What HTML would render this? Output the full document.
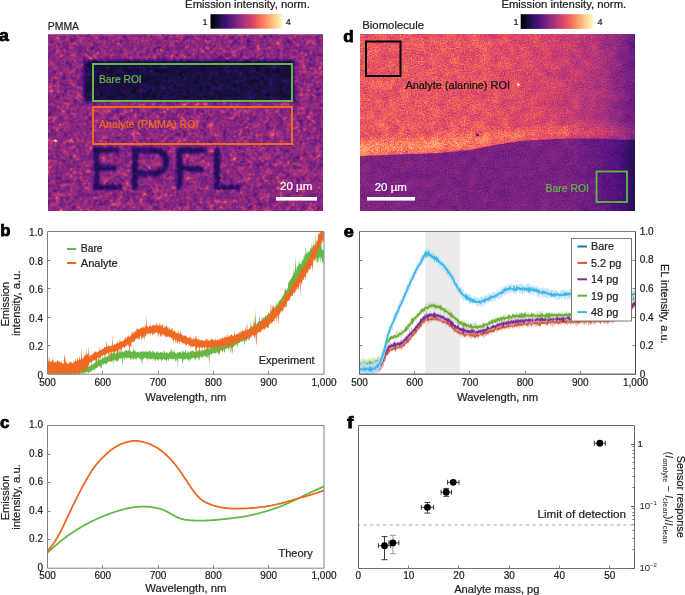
<!DOCTYPE html>
<html><head><meta charset="utf-8"><title>Figure</title><style>
html,body{margin:0;padding:0;background:#fff;width:685px;height:595px;overflow:hidden}
svg{display:block;font-family:"Liberation Sans", sans-serif;will-change:transform}
</style></head><body>
<svg width="685" height="595" viewBox="0 0 685 595">
<defs><filter id="fa" filterUnits="userSpaceOnUse" x="48" y="34" width="275" height="177" color-interpolation-filters="sRGB">
<feTurbulence type="fractalNoise" baseFrequency="0.3" numOctaves="3" seed="5" result="n0"/>
<feTurbulence type="fractalNoise" baseFrequency="0.13" numOctaves="2" seed="12" result="n2"/><feComposite in="n0" in2="n2" operator="arithmetic" k2="0.65" k3="0.5599999999999999" k4="-0.105" result="n"/>
<feColorMatrix in="n" type="matrix" values="1 0 0 0 0 1 0 0 0 0 1 0 0 0 0 0 0 0 0 1" result="ng0"/><feComponentTransfer in="ng0" result="ng"><feFuncR type="table" tableValues="0.34 0.365 0.39 0.415 0.44 0.47 0.53 0.6 0.66 0.72 0.78"/><feFuncG type="table" tableValues="0.34 0.365 0.39 0.415 0.44 0.47 0.53 0.6 0.66 0.72 0.78"/><feFuncB type="table" tableValues="0.34 0.365 0.39 0.415 0.44 0.47 0.53 0.6 0.66 0.72 0.78"/></feComponentTransfer>
<feComposite in="SourceGraphic" in2="ng" operator="arithmetic" k1="3.2" k2="-0.5040" k3="0.1" k4="-0.0470" result="v"/>
<feComponentTransfer in="v"><feFuncR type="table" tableValues="0.001 0.014 0.040 0.074 0.113 0.159 0.212 0.265 0.317 0.366 0.415 0.464 0.513 0.563 0.614 0.665 0.716 0.767 0.817 0.863 0.904 0.937 0.961 0.977 0.987 0.993 0.996 0.997 0.997 0.995 0.992 0.989 0.987"/><feFuncG type="table" tableValues="0.000 0.012 0.031 0.052 0.065 0.068 0.062 0.060 0.072 0.090 0.110 0.130 0.148 0.165 0.182 0.198 0.215 0.234 0.256 0.284 0.320 0.365 0.418 0.476 0.536 0.595 0.654 0.712 0.770 0.827 0.884 0.941 0.991"/><feFuncB type="table" tableValues="0.014 0.069 0.134 0.203 0.277 0.353 0.419 0.462 0.485 0.498 0.505 0.508 0.508 0.505 0.499 0.489 0.475 0.458 0.436 0.412 0.388 0.369 0.360 0.364 0.382 0.410 0.446 0.488 0.535 0.586 0.640 0.698 0.750"/><feFuncA type="identity"/></feComponentTransfer>
</filter><clipPath id="ca"><rect x="48" y="34" width="275" height="177"/></clipPath><filter id="soft" x="-10%" y="-10%" width="120%" height="120%"><feGaussianBlur stdDeviation="1.6"/></filter><filter id="bandblur" x="-10%" y="-50%" width="120%" height="200%"><feGaussianBlur stdDeviation="0.5 3.5"/></filter><filter id="soft2" x="-10%" y="-10%" width="120%" height="120%"><feGaussianBlur stdDeviation="1.1"/></filter><linearGradient id="cbar" x1="0" x2="1" y1="0" y2="0"><stop offset="0.000" stop-color="rgb(0,0,3)"/><stop offset="0.031" stop-color="rgb(3,3,17)"/><stop offset="0.062" stop-color="rgb(10,7,34)"/><stop offset="0.094" stop-color="rgb(18,13,51)"/><stop offset="0.125" stop-color="rgb(28,16,70)"/><stop offset="0.156" stop-color="rgb(40,17,89)"/><stop offset="0.188" stop-color="rgb(53,15,106)"/><stop offset="0.219" stop-color="rgb(67,15,117)"/><stop offset="0.250" stop-color="rgb(80,18,123)"/><stop offset="0.281" stop-color="rgb(93,23,126)"/><stop offset="0.312" stop-color="rgb(105,28,128)"/><stop offset="0.344" stop-color="rgb(118,33,129)"/><stop offset="0.375" stop-color="rgb(130,37,129)"/><stop offset="0.406" stop-color="rgb(143,42,128)"/><stop offset="0.438" stop-color="rgb(156,46,127)"/><stop offset="0.469" stop-color="rgb(169,50,124)"/><stop offset="0.500" stop-color="rgb(182,54,121)"/><stop offset="0.531" stop-color="rgb(195,59,116)"/><stop offset="0.562" stop-color="rgb(208,65,111)"/><stop offset="0.594" stop-color="rgb(220,72,105)"/><stop offset="0.625" stop-color="rgb(230,81,98)"/><stop offset="0.656" stop-color="rgb(238,93,93)"/><stop offset="0.688" stop-color="rgb(245,106,91)"/><stop offset="0.719" stop-color="rgb(249,121,92)"/><stop offset="0.750" stop-color="rgb(251,136,97)"/><stop offset="0.781" stop-color="rgb(253,151,104)"/><stop offset="0.812" stop-color="rgb(254,166,113)"/><stop offset="0.844" stop-color="rgb(254,181,124)"/><stop offset="0.875" stop-color="rgb(254,196,136)"/><stop offset="0.906" stop-color="rgb(253,210,149)"/><stop offset="0.938" stop-color="rgb(253,225,163)"/><stop offset="0.969" stop-color="rgb(252,240,177)"/><stop offset="1.000" stop-color="rgb(251,252,191)"/></linearGradient><filter id="fd" filterUnits="userSpaceOnUse" x="360" y="34" width="275" height="177" color-interpolation-filters="sRGB">
<feTurbulence type="fractalNoise" baseFrequency="0.7" numOctaves="3" seed="11" result="n0"/>
<feTurbulence type="fractalNoise" baseFrequency="0.1" numOctaves="2" seed="18" result="n2"/><feComposite in="n0" in2="n2" operator="arithmetic" k2="0.78" k3="0.35200000000000004" k4="-0.066" result="n"/>
<feColorMatrix in="n" type="matrix" values="1 0 0 0 0 1 0 0 0 0 1 0 0 0 0 0 0 0 0 1" result="ng0"/><feOffset in="ng0" dx="0" dy="0" result="ng"/>
<feComposite in="SourceGraphic" in2="ng" operator="arithmetic" k1="0.6" k2="0.7000" k3="0.05" k4="-0.0250" result="v"/>
<feComponentTransfer in="v"><feFuncR type="table" tableValues="0.001 0.014 0.040 0.074 0.113 0.159 0.212 0.265 0.317 0.366 0.415 0.464 0.513 0.563 0.614 0.665 0.716 0.767 0.817 0.863 0.904 0.937 0.961 0.977 0.987 0.993 0.996 0.997 0.997 0.995 0.992 0.989 0.987"/><feFuncG type="table" tableValues="0.000 0.012 0.031 0.052 0.065 0.068 0.062 0.060 0.072 0.090 0.110 0.130 0.148 0.165 0.182 0.198 0.215 0.234 0.256 0.284 0.320 0.365 0.418 0.476 0.536 0.595 0.654 0.712 0.770 0.827 0.884 0.941 0.991"/><feFuncB type="table" tableValues="0.014 0.069 0.134 0.203 0.277 0.353 0.419 0.462 0.485 0.498 0.505 0.508 0.508 0.505 0.499 0.489 0.475 0.458 0.436 0.412 0.388 0.369 0.360 0.364 0.382 0.410 0.446 0.488 0.535 0.586 0.640 0.698 0.750"/><feFuncA type="identity"/></feComponentTransfer>
</filter><clipPath id="cd"><rect x="360" y="34" width="275" height="177"/></clipPath><linearGradient id="dup" x1="360" x2="635" y1="0" y2="0" gradientUnits="userSpaceOnUse"><stop offset="0" stop-color="rgb(172,172,172)"/><stop offset="0.45" stop-color="rgb(168,168,168)"/><stop offset="0.7" stop-color="rgb(153,153,153)"/><stop offset="0.85" stop-color="rgb(133,133,133)"/><stop offset="0.93" stop-color="rgb(112,112,112)"/><stop offset="1" stop-color="rgb(82,82,82)"/></linearGradient><linearGradient id="dlo" x1="360" x2="635" y1="0" y2="0" gradientUnits="userSpaceOnUse"><stop offset="0" stop-color="rgb(98,98,98)"/><stop offset="0.75" stop-color="rgb(94,94,94)"/><stop offset="0.86" stop-color="rgb(82,82,82)"/><stop offset="0.95" stop-color="rgb(64,64,64)"/><stop offset="1" stop-color="rgb(38,38,38)"/></linearGradient><linearGradient id="dband" x1="360" x2="635" y1="0" y2="0" gradientUnits="userSpaceOnUse"><stop offset="0" stop-color="rgb(204,204,204)"/><stop offset="0.45" stop-color="rgb(194,194,194)"/><stop offset="0.7" stop-color="rgb(178,178,178)"/><stop offset="0.88" stop-color="rgb(153,153,153)"/><stop offset="1" stop-color="rgb(107,107,107)"/></linearGradient><clipPath id="cb"><rect x="47.5" y="231.5" width="276.5" height="142.7"/></clipPath><clipPath id="cc"><rect x="47.5" y="425.5" width="276.5" height="142.70000000000005"/></clipPath><clipPath id="ce"><rect x="359.5" y="231.5" width="276.0" height="142.7"/></clipPath></defs>
<g clip-path="url(#ca)"><g filter="url(#fa)"><rect x="48" y="34" width="275" height="177" fill="rgb(115,115,115)"/><g filter="url(#soft)"><rect x="83.5" y="60" width="211" height="41.5" fill="rgb(36,36,36)"/></g><g fill="rgb(43,43,43)" filter="url(#soft2)"><rect x="93.5" y="147.5" width="6" height="42.5"/><rect x="93.5" y="147.5" width="26" height="5.5"/><rect x="93.5" y="165.5" width="23" height="5.5"/><rect x="93.5" y="184.5" width="28.5" height="5.5"/><rect x="132" y="147.5" width="6" height="42.5"/><rect x="176.5" y="147.5" width="6" height="42.5"/><rect x="176.5" y="147.5" width="31" height="5.5"/><rect x="176.5" y="166" width="28" height="5.5"/><rect x="214" y="147.5" width="6" height="42.5"/><rect x="214" y="184.5" width="26.5" height="5.5"/><path d="M132 150.5 H155 A11.5 11.5 0 0 1 155 173.5 H132" fill="none" stroke-width="5.8" stroke="rgb(43,43,43)"/></g><circle cx="56" cy="141" r="1.5" fill="rgb(217,217,217)"/></g></g>
<rect x="48" y="34" width="275" height="1" fill="#c98ab8" opacity="0.5"/>
<rect x="93" y="64" width="199" height="37" fill="none" stroke="#63b945" stroke-width="2"/>
<rect x="93" y="107" width="199" height="37" fill="none" stroke="#ee6a22" stroke-width="2"/>
<text x="99" y="83.3" font-size="11" textLength="42.7" lengthAdjust="spacingAndGlyphs" fill="#63b945" stroke="#63b945" stroke-width="0.22">Bare ROI</text>
<text x="99" y="127.8" font-size="11" textLength="99.5" lengthAdjust="spacingAndGlyphs" fill="#ee6a22" stroke="#ee6a22" stroke-width="0.22">Analyte (PMMA) ROI</text>
<rect x="276" y="197" width="41" height="3.6" fill="#fff"/>
<text x="280" y="190.2" font-size="10.5" textLength="32.3" lengthAdjust="spacingAndGlyphs" fill="#fff" stroke="#fff" stroke-width="0.22">20 µm</text>
<rect x="210.5" y="14.2" width="72" height="14.5" fill="url(#cbar)"/>
<text x="185.1" y="7.9" font-size="10" textLength="124.7" lengthAdjust="spacingAndGlyphs" fill="#222" stroke="#222" stroke-width="0.22">Emission intensity, norm.</text>
<text x="202.6" y="24.9" font-size="9" fill="#222" stroke="#222" stroke-width="0.22">1</text>
<text x="285.8" y="25.1" font-size="9" fill="#222" stroke="#222" stroke-width="0.22">4</text>
<text x="47.8" y="29.8" font-size="10.8" textLength="31.2" lengthAdjust="spacingAndGlyphs" fill="#222" stroke="#222" stroke-width="0.22">PMMA</text>
<text x="-0.9" y="41" font-size="16" font-weight="bold" textLength="9.8" lengthAdjust="spacingAndGlyphs" fill="#000" stroke="#000" stroke-width="0.75">a</text>
<g clip-path="url(#cd)"><g filter="url(#fd)"><rect x="360" y="34" width="275" height="177" fill="url(#dup)"/><path d="M360 156 L400 154.5 L440 153 L470 150 L495 145 L520 141 L545 139.4 L570 138.6 L595 138.6 L620 139.8 L635 140 L635 128 L560 127 L470 136 L400 141 L360 143 Z" fill="url(#dband)" filter="url(#bandblur)" transform="translate(0,-1.5)"/><path d="M360 156 L400 154.5 L440 153 L470 150 L495 145 L520 141 L545 139.4 L570 138.6 L595 138.6 L620 139.8 L635 140 L635 215 L360 215 Z" fill="url(#dlo)"/><circle cx="518.3" cy="84.8" r="1.6" fill="rgb(242,242,242)"/><circle cx="477.6" cy="134.9" r="1.4" fill="rgb(76,76,76)"/></g></g>
<rect x="366" y="41.5" width="34.5" height="34.5" fill="none" stroke="#000" stroke-width="2"/>
<text x="405.4" y="88.8" font-size="11" textLength="104.6" lengthAdjust="spacingAndGlyphs" fill="#111" stroke="#111" stroke-width="0.22">Analyte (alanine) ROI</text>
<rect x="596.5" y="171.5" width="30.5" height="30.5" fill="none" stroke="#63b945" stroke-width="1.8"/>
<text x="545.6" y="192" font-size="11" textLength="43.4" lengthAdjust="spacingAndGlyphs" fill="#63b945" stroke="#63b945" stroke-width="0.22">Bare ROI</text>
<rect x="367" y="197" width="48" height="3.6" fill="#fff"/>
<text x="374.7" y="191" font-size="10.5" textLength="32.2" lengthAdjust="spacingAndGlyphs" fill="#fff" stroke="#fff" stroke-width="0.22">20 µm</text>
<rect x="520.7" y="14.2" width="72.2" height="14.7" fill="url(#cbar)"/>
<text x="501.4" y="7.9" font-size="10" textLength="124.8" lengthAdjust="spacingAndGlyphs" fill="#222" stroke="#222" stroke-width="0.22">Emission intensity, norm.</text>
<text x="513.6" y="24.9" font-size="9" fill="#222" stroke="#222" stroke-width="0.22">1</text>
<text x="597.6" y="25.1" font-size="9" fill="#222" stroke="#222" stroke-width="0.22">4</text>
<text x="362.3" y="29.4" font-size="10.8" textLength="61.7" lengthAdjust="spacingAndGlyphs" fill="#222" stroke="#222" stroke-width="0.22">Biomolecule</text>
<text x="343.3" y="41.6" font-size="16" font-weight="bold" textLength="10.4" lengthAdjust="spacingAndGlyphs" fill="#000" stroke="#000" stroke-width="0.75">d</text>
<g clip-path="url(#cb)"><path d="M47.5 370L48 369.6L48.5 363.3L49 368.7L49.5 369.4L50 368.6L50.5 369.9L51 368L51.5 369.3L52 369.1L52.5 369.3L53 369.4L53.5 369.8L54 368.6L54.5 369.9L55 368.4L55.5 367.9L56 369.2L56.5 367.1L57 368L57.5 367.2L58 369.5L58.4 368L58.9 369.4L59.4 369.5L59.9 369.5L60.4 366.1L60.9 368.9L61.4 369.6L61.9 369.5L62.4 367.4L62.9 368.9L63.4 368.2L63.9 368.4L64.4 368L64.9 368.4L65.4 369.5L65.9 368.2L66.4 368.6L66.9 369L67.4 369.2L67.9 369.3L68.4 367.6L68.9 369.2L69.4 367.3L69.9 367L70.4 368L70.9 369.1L71.4 368.3L71.9 366.2L72.4 368L72.9 367.3L73.4 368.9L73.9 368.2L74.4 368.7L74.9 367.9L75.4 368.8L75.9 367.9L76.4 366.7L76.9 367.8L77.4 368.4L77.9 368L78.4 368.4L78.9 366.8L79.4 367.6L79.9 368.1L80.3 367L80.8 366.6L81.3 366.3L81.8 367L82.3 367.1L82.8 365.1L83.3 367.2L83.8 367.7L84.3 364.8L84.8 366.7L85.3 367.1L85.8 367L86.3 357.5L86.8 365L87.3 366.6L87.8 366.7L88.3 366.5L88.8 366.7L89.3 366.4L89.8 364.8L90.3 366.3L90.8 365.4L91.3 364.1L91.8 364.6L92.3 365.2L92.8 364L93.3 364.2L93.8 362.8L94.3 364.1L94.8 362.8L95.3 361.4L95.8 362.6L96.3 360.1L96.8 359.3L97.3 361.7L97.8 360.4L98.3 357.2L98.8 357.7L99.3 359.7L99.8 359.7L100.3 360.1L100.8 357.7L101.3 359.7L101.7 359.4L102.2 356.3L102.7 358.4L103.2 357.3L103.7 358.6L104.2 358.5L104.7 355.4L105.2 357.6L105.7 356.4L106.2 356L106.7 357L107.2 355.9L107.7 355.9L108.2 356.5L108.7 353.2L109.2 354.4L109.7 355.5L110.2 352.4L110.7 354.3L111.2 352.6L111.7 352.2L112.2 353.8L112.7 353.8L113.2 348.6L113.7 352.2L114.2 352.5L114.7 352L115.2 354.1L115.7 353.6L116.2 353.6L116.7 352.1L117.2 351.7L117.7 352.5L118.2 353.2L118.7 351.8L119.2 352L119.7 350.7L120.2 350.6L120.7 352.4L121.2 350.9L121.7 352.4L122.2 351.2L122.7 351.8L123.2 351.3L123.6 352.2L124.1 351.5L124.6 351.6L125.1 349.8L125.6 350.8L126.1 349.3L126.6 351L127.1 350.4L127.6 351.6L128.1 349.8L128.6 349.8L129.1 351.9L129.6 351.2L130.1 349.3L130.6 351.1L131.1 352.3L131.6 352.3L132.1 351.1L132.6 351.7L133.1 351.5L133.6 347.7L134.1 350.6L134.6 350.5L135.1 350.3L135.6 351.7L136.1 352.1L136.6 352.6L137.1 351.9L137.6 351.8L138.1 351.6L138.6 352.2L139.1 352.5L139.6 352.7L140.1 350.8L140.6 351.7L141.1 352.2L141.6 351.9L142.1 350.6L142.6 351.3L143.1 351.3L143.6 352.7L144.1 350.7L144.6 351.7L145 351.7L145.5 351.5L146 352.4L146.5 350.6L147 351.1L147.5 351.7L148 352.4L148.5 351.8L149 350.1L149.5 350.8L150 351.4L150.5 350.5L151 352L151.5 351.7L152 353.4L152.5 351.3L153 350.7L153.5 349.9L154 353.1L154.5 351.6L155 353.1L155.5 353.5L156 352.1L156.5 351L157 353.3L157.5 352L158 350.8L158.5 352.8L159 353.5L159.5 352.9L160 351.9L160.5 352.5L161 351.9L161.5 352.1L162 353.3L162.5 352.3L163 353L163.5 353L164 350.2L164.5 351.3L165 352.1L165.5 353.4L166 353.6L166.5 351.2L166.9 352.8L167.4 352.3L167.9 353.4L168.4 353.4L168.9 353.1L169.4 351.6L169.9 353.5L170.4 349.9L170.9 352.4L171.4 350.2L171.9 348.1L172.4 352.7L172.9 351.3L173.4 353.5L173.9 348.8L174.4 351.9L174.9 351.6L175.4 353.3L175.9 353.4L176.4 353.4L176.9 353.4L177.4 352.1L177.9 352.6L178.4 353.1L178.9 351.7L179.4 352.6L179.9 352.3L180.4 351.6L180.9 351.3L181.4 353.2L181.9 353.4L182.4 351.2L182.9 350.5L183.4 350.9L183.9 352.6L184.4 352L184.9 352.6L185.4 348.8L185.9 352.8L186.4 353.1L186.9 353L187.4 351.3L187.9 352.6L188.3 352.7L188.8 350.9L189.3 352.3L189.8 352.8L190.3 350.2L190.8 351.8L191.3 352L191.8 349.5L192.3 349.9L192.8 350.9L193.3 350.9L193.8 351.2L194.3 352.1L194.8 351.9L195.3 351.7L195.8 351.8L196.3 351.9L196.8 349.4L197.3 350.9L197.8 351.7L198.3 350.7L198.8 350.6L199.3 348.8L199.8 350.6L200.3 351.3L200.8 350.8L201.3 349.4L201.8 351.1L202.3 349.6L202.8 350.3L203.3 350.5L203.8 350.4L204.3 350.5L204.8 347.8L205.3 350L205.8 348.8L206.3 348.6L206.8 348.7L207.3 348.9L207.8 347.1L208.3 349.1L208.8 348.4L209.3 349L209.8 349.1L210.2 347.2L210.7 348L211.2 345.1L211.7 343.8L212.2 347.9L212.7 346.3L213.2 347.4L213.7 345.5L214.2 345.6L214.7 345.1L215.2 345.3L215.7 345.1L216.2 344.1L216.7 346.2L217.2 345.5L217.7 342.8L218.2 345.8L218.7 344.9L219.2 343.3L219.7 345.5L220.2 336.7L220.7 343.4L221.2 343.3L221.7 343.2L222.2 343.6L222.7 343.8L223.2 343.8L223.7 343.5L224.2 343.2L224.7 342.9L225.2 343.2L225.7 342.7L226.2 342.7L226.7 341.7L227.2 338.9L227.7 341L228.2 336.3L228.7 338.6L229.2 340.7L229.7 337.6L230.2 338.4L230.7 339.2L231.2 339.2L231.6 340L232.1 336.8L232.6 339.1L233.1 338.3L233.6 338.2L234.1 334.9L234.6 330.5L235.1 337.2L235.6 336.2L236.1 338.1L236.6 337.6L237.1 335.5L237.6 337.2L238.1 335L238.6 334.8L239.1 334.7L239.6 334.4L240.1 330.8L240.6 334.9L241.1 335.4L241.6 334.6L242.1 334.5L242.6 329.9L243.1 331.7L243.6 332.7L244.1 333.6L244.6 329L245.1 331.4L245.6 329.7L246.1 331.2L246.6 332.1L247.1 331.4L247.6 331.1L248.1 329.4L248.6 330.7L249.1 328.4L249.6 328.6L250.1 328.5L250.6 320.8L251.1 325.6L251.6 326.4L252.1 327.5L252.6 325.7L253.1 327.2L253.5 327.1L254 315.3L254.5 321.7L255 326.2L255.5 322.9L256 324.5L256.5 325.1L257 321.6L257.5 323.9L258 322.2L258.5 321.3L259 321.2L259.5 315L260 320.5L260.5 321.2L261 320.9L261.5 321.4L262 319.9L262.5 318.9L263 319.6L263.5 317.6L264 316.6L264.5 318.8L265 316.6L265.5 314.8L266 317.6L266.5 315.8L267 314.6L267.5 314.4L268 314.7L268.5 312.1L269 313.2L269.5 313.6L270 313.5L270.5 311.9L271 311.8L271.5 312.3L272 310.8L272.5 309.1L273 308.8L273.5 310.5L274 308.1L274.5 307.5L274.9 307.1L275.4 308.6L275.9 300.9L276.4 306L276.9 304.4L277.4 302L277.9 305.5L278.4 302.3L278.9 300.5L279.4 300.8L279.9 300.8L280.4 299.1L280.9 300L281.4 298.1L281.9 297.5L282.4 296.9L282.9 295L283.4 295.5L283.9 293.3L284.4 291.8L284.9 289.3L285.4 288.2L285.9 291.1L286.4 290.3L286.9 289.8L287.4 288.5L287.9 287.7L288.4 281.8L288.9 283L289.4 280.6L289.9 281L290.4 279.1L290.9 279.6L291.4 278.4L291.9 277L292.4 274.9L292.9 276.8L293.4 273.1L293.9 268.2L294.4 273.7L294.9 271.2L295.4 255.1L295.9 269.5L296.3 270.8L296.8 266.5L297.3 267.2L297.8 265.2L298.3 266L298.8 262.7L299.3 264.2L299.8 260.4L300.3 263.9L300.8 264.2L301.3 263.3L301.8 262.5L302.3 258.7L302.8 261L303.3 260.3L303.8 255.8L304.3 253.3L304.8 257.7L305.3 255L305.8 245.5L306.3 254L306.8 252.9L307.3 254.3L307.8 250.6L308.3 251.4L308.8 252.3L309.3 251.4L309.8 251L310.3 248.8L310.8 247.5L311.3 249.2L311.8 242.4L312.3 248.1L312.8 248.4L313.3 240.5L313.8 247.5L314.3 243.2L314.8 245.4L315.3 246.3L315.8 231.5L316.3 247L316.8 246.8L317.3 246.8L317.8 245.9L318.2 246.1L318.7 244.2L319.2 246.4L319.7 245.5L320.2 247L320.7 243.8L321.2 236.5L321.7 248.5L322.2 249.5L322.7 249.8L323.2 250.7L323.7 248.7L323.7 265.6L323.2 262L322.7 263.7L322.2 260.6L321.7 259L321.2 257.2L320.7 257.6L320.2 264.8L319.7 256.4L319.2 258.2L318.7 263.6L318.2 256.6L317.8 262.8L317.3 262.9L316.8 262.1L316.3 257.8L315.8 256.8L315.3 258.2L314.8 257.7L314.3 258.7L313.8 256.8L313.3 256.8L312.8 259.8L312.3 257.2L311.8 264.4L311.3 261.7L310.8 259.4L310.3 260.1L309.8 260.3L309.3 261.1L308.8 261.7L308.3 264.8L307.8 269.4L307.3 267.1L306.8 268.2L306.3 264.3L305.8 267.6L305.3 267.6L304.8 269.6L304.3 269.5L303.8 271.1L303.3 271.9L302.8 274.6L302.3 271.3L301.8 272.4L301.3 273.5L300.8 278.6L300.3 282.3L299.8 278.1L299.3 277.6L298.8 284.2L298.3 278.4L297.8 279.3L297.3 279.5L296.8 280.7L296.3 282L295.9 281.2L295.4 283.3L294.9 284.8L294.4 285.7L293.9 290.1L293.4 286.6L292.9 288.9L292.4 286.7L291.9 289.1L291.4 288.8L290.9 291.2L290.4 290.6L289.9 296L289.4 296.4L288.9 292.9L288.4 296L287.9 295.5L287.4 297.3L286.9 299.8L286.4 298.1L285.9 299.3L285.4 307.6L284.9 302.1L284.4 301.7L283.9 303.2L283.4 304L282.9 307.5L282.4 306.6L281.9 308.4L281.4 310.5L280.9 309.8L280.4 313.2L279.9 311.6L279.4 314L278.9 313.9L278.4 311.9L277.9 312.5L277.4 314.3L276.9 314.9L276.4 314.7L275.9 319.5L275.4 315.4L274.9 319.6L274.5 316.6L274 316.5L273.5 317L273 318.4L272.5 318.7L272 319.8L271.5 320.9L271 323.2L270.5 320.5L270 324.6L269.5 321.4L269 321.8L268.5 322.2L268 323.7L267.5 323.3L267 323.6L266.5 325.4L266 325.5L265.5 324.2L265 324.8L264.5 325.4L264 326L263.5 327.9L263 327.3L262.5 326.7L262 326.9L261.5 329.5L261 328L260.5 330.2L260 329.5L259.5 328.9L259 332.5L258.5 331.5L258 331.9L257.5 331.1L257 332.6L256.5 331.5L256 333.4L255.5 333.9L255 333.5L254.5 337.1L254 335L253.5 333.4L253.1 334.9L252.6 334.8L252.1 334.4L251.6 336.1L251.1 336.5L250.6 336.6L250.1 337.6L249.6 339.9L249.1 339.7L248.6 340.3L248.1 337.6L247.6 338.8L247.1 339.2L246.6 342.3L246.1 339.3L245.6 340.8L245.1 340.5L244.6 345.9L244.1 341.5L243.6 340.4L243.1 341L242.6 340.2L242.1 340.5L241.6 341.6L241.1 342L240.6 341.3L240.1 342.1L239.6 342.9L239.1 343.3L238.6 343L238.1 343.2L237.6 348.4L237.1 344.7L236.6 343.8L236.1 345.8L235.6 343.8L235.1 346.2L234.6 346.1L234.1 345.5L233.6 346.7L233.1 347.3L232.6 347.2L232.1 355.8L231.6 346.7L231.2 346.5L230.7 355.3L230.2 346.2L229.7 346.6L229.2 347.8L228.7 348.4L228.2 350.9L227.7 348.1L227.2 348.3L226.7 347.7L226.2 349.2L225.7 348.6L225.2 349.5L224.7 353.7L224.2 351.3L223.7 349L223.2 351L222.7 351.7L222.2 352.3L221.7 349.9L221.2 350.1L220.7 351.5L220.2 350.7L219.7 354.1L219.2 354.8L218.7 352.9L218.2 352.9L217.7 351.5L217.2 353.3L216.7 352.7L216.2 352.2L215.7 353.6L215.2 353.6L214.7 352.3L214.2 354.4L213.7 352.8L213.2 353L212.7 353.4L212.2 353.7L211.7 354.1L211.2 354.8L210.7 354.4L210.2 354L209.8 355.6L209.3 365.1L208.8 359.4L208.3 354.8L207.8 355.9L207.3 359.4L206.8 356.3L206.3 356.9L205.8 356.5L205.3 355.8L204.8 357.6L204.3 355.6L203.8 355.6L203.3 356.1L202.8 359.2L202.3 356.7L201.8 358L201.3 356.6L200.8 356.2L200.3 357L199.8 357.5L199.3 360.6L198.8 360.4L198.3 357.5L197.8 358.1L197.3 357.4L196.8 358.6L196.3 357.1L195.8 361.1L195.3 358.2L194.8 358.9L194.3 358L193.8 358.1L193.3 358.6L192.8 357.3L192.3 358.2L191.8 358.7L191.3 358.2L190.8 360.4L190.3 357.8L189.8 363.5L189.3 358.3L188.8 360.1L188.3 361.2L187.9 358.5L187.4 359.4L186.9 359.5L186.4 357.9L185.9 358.7L185.4 359.8L184.9 359.3L184.4 359.4L183.9 358.8L183.4 359.7L182.9 362.4L182.4 364.8L181.9 358.1L181.4 359.3L180.9 359L180.4 359.2L179.9 358.3L179.4 359.3L178.9 358.3L178.4 358.6L177.9 368.5L177.4 360.2L176.9 358.3L176.4 360.9L175.9 360.5L175.4 362.1L174.9 358.6L174.4 358.5L173.9 360.6L173.4 358.9L172.9 358.9L172.4 358.9L171.9 360.3L171.4 358.3L170.9 359.3L170.4 358.4L169.9 358.8L169.4 358.4L168.9 359.4L168.4 361.6L167.9 359.3L167.4 359L166.9 360.3L166.5 362.9L166 359.5L165.5 360.8L165 358.6L164.5 360.9L164 358.8L163.5 358.9L163 359.3L162.5 360.8L162 358.9L161.5 361.8L161 359.8L160.5 359.2L160 359.4L159.5 358.8L159 359.5L158.5 360.9L158 360.6L157.5 359.3L157 359.4L156.5 359.1L156 359.3L155.5 361.5L155 360.7L154.5 359L154 358.3L153.5 359.3L153 360.7L152.5 358.3L152 358.5L151.5 359.6L151 358.4L150.5 359.9L150 359.2L149.5 358.9L149 358.3L148.5 358L148 361.7L147.5 358.5L147 359.7L146.5 358L146 358.5L145.5 358.3L145 358.2L144.6 357.8L144.1 357.8L143.6 360.1L143.1 358.8L142.6 358.8L142.1 366.7L141.6 360.9L141.1 360.6L140.6 357.5L140.1 360.3L139.6 358.5L139.1 358.3L138.6 357.5L138.1 357.9L137.6 357.5L137.1 357.8L136.6 359.9L136.1 357.9L135.6 360.7L135.1 357.4L134.6 358.1L134.1 359.2L133.6 358.7L133.1 360.2L132.6 357.2L132.1 360.5L131.6 359L131.1 357.5L130.6 359.1L130.1 360.9L129.6 357.6L129.1 358L128.6 357.5L128.1 358.2L127.6 357.5L127.1 359.8L126.6 357.5L126.1 358L125.6 357.6L125.1 357.2L124.6 357.9L124.1 360.3L123.6 358.1L123.2 357.9L122.7 367L122.2 360.3L121.7 358L121.2 358.4L120.7 358.2L120.2 359.5L119.7 358.2L119.2 358.1L118.7 361.3L118.2 359.2L117.7 362.7L117.2 359.9L116.7 362.7L116.2 359.2L115.7 360.4L115.2 361.5L114.7 360.2L114.2 359.6L113.7 359.9L113.2 365.8L112.7 359.7L112.2 361.7L111.7 361.7L111.2 360.7L110.7 361.8L110.2 361.3L109.7 361.2L109.2 361.9L108.7 361.4L108.2 361.5L107.7 362.7L107.2 362.7L106.7 364.2L106.2 364.8L105.7 363.7L105.2 363.3L104.7 363L104.2 364.6L103.7 363.4L103.2 365.9L102.7 364.1L102.2 364L101.7 367.4L101.3 368L100.8 368.6L100.3 365.6L99.8 366.1L99.3 366.8L98.8 366.2L98.3 366L97.8 367.6L97.3 366.9L96.8 367.9L96.3 368.2L95.8 367.7L95.3 369L94.8 369.4L94.3 370L93.8 369L93.3 370.5L92.8 370L92.3 370.3L91.8 370.5L91.3 371.6L90.8 372.6L90.3 371.5L89.8 371.2L89.3 372.3L88.8 373.3L88.3 372.8L87.8 372.5L87.3 371.7L86.8 371.8L86.3 373L85.8 373.9L85.3 371.8L84.8 373.8L84.3 372.2L83.8 372.1L83.3 372.3L82.8 375.1L82.3 373.6L81.8 372.4L81.3 373.2L80.8 373.6L80.3 372.9L79.9 376.2L79.4 374.3L78.9 375.2L78.4 373.7L77.9 373.6L77.4 373L76.9 377.1L76.4 374L75.9 373L75.4 373.9L74.9 373.6L74.4 374.4L73.9 373.6L73.4 376.5L72.9 374.5L72.4 374.1L71.9 373.8L71.4 375.8L70.9 373.8L70.4 373.4L69.9 374.2L69.4 375.8L68.9 374.9L68.4 374L67.9 373.9L67.4 374.1L66.9 375.1L66.4 374.4L65.9 374.6L65.4 377.1L64.9 374.8L64.4 377.1L63.9 373.8L63.4 374.3L62.9 377.1L62.4 374.8L61.9 377.1L61.4 374.1L60.9 377.1L60.4 376.1L59.9 376.4L59.4 374.2L58.9 374.4L58.4 375.7L58 374.8L57.5 375.8L57 376.1L56.5 374.5L56 377.1L55.5 374.2L55 375.4L54.5 376.3L54 374.4L53.5 375.5L53 375.7L52.5 377.1L52 376.3L51.5 374.4L51 374.7L50.5 375L50 374.5L49.5 375L49 374.6L48.5 374.5L48 374.4L47.5 374.8Z" fill="#63b945"/><path d="M47.5 362.1L48 360.2L48.5 362.8L49 356.2L49.5 358.7L50 362.5L50.5 361.2L51 362L51.5 361.1L52 361.4L52.5 359.8L53 358.7L53.5 362.1L54 362.1L54.5 362.8L55 362.1L55.5 362L56 361.3L56.5 362.9L57 360.4L57.5 360L58 360.9L58.4 362L58.9 361.4L59.4 361.7L59.9 360.7L60.4 363.1L60.9 361.7L61.4 362.8L61.9 361.9L62.4 363.4L62.9 363.5L63.4 363.9L63.9 362.6L64.4 354.7L64.9 355.9L65.4 359.3L65.9 363.6L66.4 361.3L66.9 363.5L67.4 363.2L67.9 363.8L68.4 363.9L68.9 362.8L69.4 362.6L69.9 361.7L70.4 360.9L70.9 363.9L71.4 361.4L71.9 363.1L72.4 363.4L72.9 363L73.4 362.2L73.9 361.1L74.4 362.5L74.9 361.2L75.4 360.7L75.9 358.3L76.4 361.7L76.9 361.5L77.4 358.3L77.9 359.1L78.4 360.4L78.9 360.6L79.4 355.3L79.9 360.2L80.3 359.6L80.8 360.4L81.3 347.3L81.8 356.8L82.3 359L82.8 358.7L83.3 358.6L83.8 356.1L84.3 355L84.8 357.6L85.3 353.1L85.8 355.4L86.3 354.4L86.8 349.5L87.3 354.4L87.8 354.8L88.3 353.7L88.8 346.3L89.3 356.5L89.8 356.8L90.3 355.2L90.8 355.4L91.3 355.1L91.8 355.4L92.3 354.4L92.8 352.8L93.3 353.1L93.8 353.9L94.3 352L94.8 351.3L95.3 351.6L95.8 352.2L96.3 351.2L96.8 352.6L97.3 352.2L97.8 352.2L98.3 351.7L98.8 350.9L99.3 350.8L99.8 346.5L100.3 350.6L100.8 350.2L101.3 350.3L101.7 349.5L102.2 348.6L102.7 349.3L103.2 349L103.7 348.6L104.2 346.5L104.7 347.3L105.2 346.8L105.7 347.2L106.2 347.5L106.7 339.8L107.2 346.2L107.7 346.8L108.2 346.1L108.7 345.3L109.2 345.9L109.7 346.6L110.2 346.2L110.7 346L111.2 346L111.7 345.1L112.2 346.2L112.7 334.4L113.2 345.8L113.7 344.9L114.2 343.6L114.7 345.1L115.2 344.6L115.7 344.5L116.2 343.4L116.7 343.6L117.2 339.9L117.7 343.6L118.2 343.3L118.7 343L119.2 338.8L119.7 343L120.2 341.7L120.7 340.2L121.2 342.1L121.7 340.8L122.2 341.6L122.7 341.5L123.2 340.5L123.6 341.1L124.1 338.4L124.6 340.3L125.1 338.9L125.6 336.4L126.1 338.5L126.6 339L127.1 336.9L127.6 336.9L128.1 335.3L128.6 336L129.1 337.4L129.6 336.7L130.1 336.5L130.6 335.8L131.1 335.6L131.6 334.1L132.1 331.2L132.6 333.6L133.1 330.6L133.6 334L134.1 333.8L134.6 330.2L135.1 331.8L135.6 331.1L136.1 332.3L136.6 328.8L137.1 328.1L137.6 328.9L138.1 329L138.6 329.9L139.1 329.7L139.6 328.3L140.1 328.5L140.6 328.5L141.1 327.8L141.6 327.7L142.1 328.8L142.6 325.9L143.1 326.5L143.6 327.3L144.1 328.2L144.6 327.5L145 324.3L145.5 326.4L146 326.7L146.5 315.3L147 326.4L147.5 325.6L148 327.2L148.5 327.2L149 327.1L149.5 325.6L150 326L150.5 324.6L151 325.9L151.5 326.4L152 326.6L152.5 325.5L153 324.5L153.5 324.6L154 325.7L154.5 324.7L155 326.2L155.5 323.9L156 326.4L156.5 322.2L157 323.8L157.5 326.4L158 324.3L158.5 326.4L159 325.1L159.5 322.7L160 326.1L160.5 324.1L161 326.3L161.5 326.8L162 323.9L162.5 325.8L163 323.5L163.5 328.1L164 327.7L164.5 327.8L165 324.4L165.5 328.1L166 325.7L166.5 325.4L166.9 327.1L167.4 328.5L167.9 325.1L168.4 329.1L168.9 329.9L169.4 326.1L169.9 329.6L170.4 329.7L170.9 329.7L171.4 330.3L171.9 328L172.4 327.8L172.9 331.4L173.4 331L173.9 331.9L174.4 329.7L174.9 330.4L175.4 332.3L175.9 332.5L176.4 333.6L176.9 331.8L177.4 333.3L177.9 333.4L178.4 333.4L178.9 329.1L179.4 334.5L179.9 333.4L180.4 333.3L180.9 330.3L181.4 335.6L181.9 333.4L182.4 335.9L182.9 334.9L183.4 335.2L183.9 336.5L184.4 335.3L184.9 335.3L185.4 335.9L185.9 336.3L186.4 335.4L186.9 337.3L187.4 337.5L187.9 338L188.3 337L188.8 337.9L189.3 338.6L189.8 336.3L190.3 336.5L190.8 339.1L191.3 336.8L191.8 339.9L192.3 339.4L192.8 338.6L193.3 339.8L193.8 335.9L194.3 340L194.8 338.4L195.3 338.2L195.8 335L196.3 340.3L196.8 335.4L197.3 339.1L197.8 339.6L198.3 339.7L198.8 339.4L199.3 338.1L199.8 341.2L200.3 339.7L200.8 340.1L201.3 340.8L201.8 339.6L202.3 340.8L202.8 339.1L203.3 341L203.8 341.3L204.3 340.2L204.8 340.9L205.3 340.9L205.8 338.8L206.3 339.6L206.8 338.4L207.3 338.9L207.8 341.2L208.3 340.5L208.8 340.4L209.3 339.3L209.8 340.9L210.2 341.2L210.7 339L211.2 338.3L211.7 339.2L212.2 339.4L212.7 339.2L213.2 340.5L213.7 340L214.2 340.3L214.7 340.8L215.2 339.4L215.7 338.6L216.2 340.6L216.7 340.5L217.2 338.6L217.7 340.2L218.2 340.5L218.7 339.7L219.2 339.7L219.7 337.7L220.2 340.1L220.7 339.3L221.2 339.5L221.7 337.9L222.2 337.6L222.7 336.9L223.2 339.1L223.7 338.6L224.2 335.3L224.7 338L225.2 337.4L225.7 337.4L226.2 337.2L226.7 335.8L227.2 333.6L227.7 337.7L228.2 336.8L228.7 337L229.2 334.5L229.7 337.2L230.2 335.3L230.7 335.5L231.2 334.7L231.6 334.5L232.1 334.2L232.6 335.9L233.1 336.3L233.6 336.3L234.1 335.1L234.6 333.3L235.1 334.8L235.6 335L236.1 335.1L236.6 333.6L237.1 334.5L237.6 333.8L238.1 332.9L238.6 334L239.1 330.5L239.6 333.6L240.1 334.2L240.6 332.5L241.1 330.3L241.6 332.6L242.1 330.5L242.6 330.8L243.1 330.9L243.6 331.1L244.1 331.8L244.6 332.1L245.1 330.9L245.6 326L246.1 330.5L246.6 330.4L247.1 321.8L247.6 330.1L248.1 329L248.6 329.8L249.1 328.5L249.6 329.1L250.1 329.7L250.6 327.9L251.1 326.8L251.6 326.6L252.1 328.2L252.6 328.7L253.1 326.5L253.5 322.2L254 327.3L254.5 325L255 324.5L255.5 308.8L256 324.4L256.5 326.1L257 323.9L257.5 325.2L258 321.8L258.5 323.7L259 323.5L259.5 324.5L260 323.3L260.5 322L261 321.5L261.5 318.6L262 321.9L262.5 316.4L263 321.2L263.5 319.7L264 317.4L264.5 319.8L265 316.4L265.5 317.9L266 318.5L266.5 316.8L267 316.1L267.5 318.2L268 316.7L268.5 314.9L269 314.7L269.5 315.1L270 316.1L270.5 309.6L271 302.2L271.5 310.9L272 310.8L272.5 305.8L273 306.9L273.5 304.2L274 308.5L274.5 308.7L274.9 310L275.4 309.9L275.9 304.7L276.4 308.4L276.9 305.4L277.4 307.6L277.9 306.5L278.4 304.1L278.9 305.5L279.4 304.5L279.9 303.9L280.4 301.1L280.9 301.3L281.4 302.3L281.9 302.3L282.4 301.3L282.9 300.2L283.4 300.3L283.9 299.5L284.4 296.9L284.9 293.3L285.4 288.6L285.9 294.7L286.4 294.7L286.9 294.9L287.4 291.7L287.9 291.2L288.4 293L288.9 292.2L289.4 290L289.9 289.7L290.4 289.6L290.9 286.7L291.4 288.5L291.9 282.9L292.4 285.2L292.9 283.2L293.4 281.8L293.9 280.7L294.4 281.6L294.9 277.7L295.4 281.9L295.9 280.8L296.3 280.1L296.8 278.3L297.3 279L297.8 277.9L298.3 274.1L298.8 274.9L299.3 273.3L299.8 273.2L300.3 272.7L300.8 270.9L301.3 270.2L301.8 269.4L302.3 270.3L302.8 265.9L303.3 266.5L303.8 268.7L304.3 267.7L304.8 263.1L305.3 264.8L305.8 262.8L306.3 263.8L306.8 262.2L307.3 260.9L307.8 259.7L308.3 258.8L308.8 258.5L309.3 259.7L309.8 255.9L310.3 256L310.8 254.7L311.3 253.5L311.8 250.2L312.3 250.3L312.8 244.7L313.3 247.1L313.8 247.2L314.3 248.7L314.8 246L315.3 246.3L315.8 243.3L316.3 243.9L316.8 240.1L317.3 241.8L317.8 238.7L318.2 230.8L318.7 235.6L319.2 234.3L319.7 232.6L320.2 233.3L320.7 228.6L321.2 230.3L321.7 229.4L322.2 228.6L322.7 228.8L323.2 228.6L323.7 228.6L323.7 241L323.2 242L322.7 239.3L322.2 243.7L321.7 241.2L321.2 243.5L320.7 245L320.2 245.9L319.7 248L319.2 246.2L318.7 247.7L318.2 248.4L317.8 250.8L317.3 254.6L316.8 252.5L316.3 254.2L315.8 255.2L315.3 262L314.8 261.1L314.3 260.1L313.8 259L313.3 261L312.8 265.9L312.3 271.9L311.8 266.4L311.3 265L310.8 266.3L310.3 269L309.8 270.3L309.3 269.2L308.8 269L308.3 270.8L307.8 274L307.3 271.5L306.8 274L306.3 273.1L305.8 276.3L305.3 281.5L304.8 276.5L304.3 276.4L303.8 280L303.3 280.1L302.8 278.7L302.3 282.2L301.8 286.1L301.3 282.3L300.8 281.6L300.3 297.2L299.8 283.1L299.3 283.6L298.8 288.9L298.3 289.8L297.8 287.1L297.3 287.1L296.8 290L296.3 289.8L295.9 289.2L295.4 292.2L294.9 292.4L294.4 293.6L293.9 291.8L293.4 292.9L292.9 295.1L292.4 296.6L291.9 295.2L291.4 295.8L290.9 296.3L290.4 297.4L289.9 299L289.4 301.1L288.9 300.2L288.4 300.5L287.9 301L287.4 301.6L286.9 302.3L286.4 307.4L285.9 308L285.4 305.8L284.9 306.2L284.4 307.6L283.9 307.2L283.4 309.5L282.9 310.3L282.4 312.4L281.9 310.2L281.4 311.8L280.9 310.7L280.4 312L279.9 314.3L279.4 314.1L278.9 317.6L278.4 324.7L277.9 315.2L277.4 315.4L276.9 323.2L276.4 317.3L275.9 316.6L275.4 319.2L274.9 318L274.5 321L274 321.2L273.5 321.3L273 320.8L272.5 322.4L272 323.6L271.5 322.4L271 323.7L270.5 322L270 325.2L269.5 324.1L269 324.7L268.5 328.6L268 327.4L267.5 328.2L267 327L266.5 326.6L266 329.4L265.5 326.8L265 329.5L264.5 329.5L264 328.7L263.5 328.5L263 331L262.5 329.2L262 328.8L261.5 332.3L261 329.9L260.5 332.7L260 332L259.5 332L259 332.3L258.5 331.9L258 332.3L257.5 334.7L257 332.6L256.5 346L256 342.5L255.5 334.9L255 335.4L254.5 338.5L254 336.6L253.5 335.8L253.1 335.1L252.6 334.7L252.1 335.9L251.6 335.1L251.1 338.7L250.6 335.7L250.1 337.4L249.6 337.2L249.1 338.5L248.6 336.8L248.1 338.9L247.6 338.7L247.1 337L246.6 339.4L246.1 339.9L245.6 339L245.1 340.4L244.6 339.9L244.1 338.6L243.6 339.7L243.1 338.7L242.6 342.8L242.1 339.5L241.6 339.4L241.1 341.4L240.6 340.2L240.1 341.4L239.6 340.1L239.1 341.1L238.6 343.7L238.1 341.1L237.6 341.5L237.1 342.5L236.6 343.3L236.1 341.7L235.6 342.4L235.1 344.4L234.6 341.6L234.1 345.2L233.6 342.6L233.1 343.2L232.6 353.8L232.1 344L231.6 351.8L231.2 346.1L230.7 343.3L230.2 342.9L229.7 349.6L229.2 345.9L228.7 344.6L228.2 343.9L227.7 343.7L227.2 348.6L226.7 344.8L226.2 345.3L225.7 345.8L225.2 345.5L224.7 348.1L224.2 344.9L223.7 346.2L223.2 346.1L222.7 348L222.2 345L221.7 346.9L221.2 349.2L220.7 347.2L220.2 348L219.7 345.9L219.2 346.5L218.7 357.6L218.2 348.8L217.7 345.8L217.2 346.6L216.7 347.2L216.2 346.4L215.7 347.9L215.2 346.6L214.7 349.8L214.2 347.1L213.7 348.1L213.2 347.2L212.7 348.2L212.2 346.6L211.7 346.8L211.2 347.6L210.7 348.4L210.2 349L209.8 348.2L209.3 346.8L208.8 349.6L208.3 347.5L207.8 348.1L207.3 353.1L206.8 349.4L206.3 347.4L205.8 347.6L205.3 346.9L204.8 348.5L204.3 347.8L203.8 347.2L203.3 346.8L202.8 347.3L202.3 348.5L201.8 348.5L201.3 347.8L200.8 347.2L200.3 346.7L199.8 348.2L199.3 353.9L198.8 346.8L198.3 347.9L197.8 346.4L197.3 347.5L196.8 355.1L196.3 346.6L195.8 361.8L195.3 347.8L194.8 346.3L194.3 345.7L193.8 345.9L193.3 346.9L192.8 346.7L192.3 346.6L191.8 347.5L191.3 346.1L190.8 345.2L190.3 348.6L189.8 345.6L189.3 344.7L188.8 346.7L188.3 343.7L187.9 344.3L187.4 343.4L186.9 344.4L186.4 345.4L185.9 345.3L185.4 345.1L184.9 342.4L184.4 344.2L183.9 343.9L183.4 342.9L182.9 342.9L182.4 343.2L181.9 343.4L181.4 341.2L180.9 342.2L180.4 341.3L179.9 340.8L179.4 345.2L178.9 341.5L178.4 340.4L177.9 343.4L177.4 342.2L176.9 343.1L176.4 339.4L175.9 339.2L175.4 344.2L174.9 339.4L174.4 339.2L173.9 339.9L173.4 344L172.9 337.6L172.4 341.4L171.9 337.1L171.4 338.8L170.9 337.4L170.4 336.9L169.9 338L169.4 336.7L168.9 337L168.4 336.2L167.9 336.6L167.4 337.1L166.9 336.6L166.5 337.5L166 335L165.5 338.4L165 335.2L164.5 336.5L164 335.3L163.5 334.8L163 333.8L162.5 334.6L162 337.6L161.5 333.9L161 337.4L160.5 335.7L160 334.9L159.5 333.5L159 332.6L158.5 337L158 336.5L157.5 332.3L157 333.3L156.5 332.5L156 332.6L155.5 332.1L155 333.1L154.5 333.6L154 334.4L153.5 335L153 332.4L152.5 335.4L152 334.7L151.5 332.6L151 332.7L150.5 335.5L150 333.9L149.5 332.7L149 333.6L148.5 334.2L148 333.3L147.5 334.2L147 333.6L146.5 333.5L146 335.8L145.5 337.3L145 335.1L144.6 343.1L144.1 334L143.6 338.7L143.1 336.2L142.6 339.5L142.1 337.3L141.6 340.7L141.1 335.9L140.6 335.4L140.1 336L139.6 340.3L139.1 337.5L138.6 339.4L138.1 339.4L137.6 338.7L137.1 337.6L136.6 339.4L136.1 337.9L135.6 339.4L135.1 339.9L134.6 342.7L134.1 340.4L133.6 341.7L133.1 341.4L132.6 342.1L132.1 342.7L131.6 341.8L131.1 347.4L130.6 346.8L130.1 345.3L129.6 356.5L129.1 346.7L128.6 344.2L128.1 346.4L127.6 344.5L127.1 344.6L126.6 345.7L126.1 347.2L125.6 346.8L125.1 346.1L124.6 349.7L124.1 347.2L123.6 346.8L123.2 347L122.7 348.1L122.2 347.6L121.7 350.3L121.2 351.8L120.7 351.2L120.2 348.7L119.7 348.9L119.2 351.1L118.7 349.2L118.2 352.2L117.7 353.4L117.2 359L116.7 350.4L116.2 351.5L115.7 350.9L115.2 352L114.7 352.6L114.2 352.5L113.7 352.4L113.2 351.2L112.7 351.2L112.2 352.2L111.7 352.2L111.2 364.5L110.7 351.6L110.2 352.4L109.7 352.5L109.2 354.7L108.7 352.4L108.2 355.4L107.7 352.6L107.2 352.9L106.7 354.2L106.2 354.4L105.7 354.3L105.2 355.6L104.7 355.2L104.2 357.3L103.7 354.9L103.2 354.8L102.7 355.2L102.2 357.5L101.7 355.4L101.3 355.8L100.8 357.8L100.3 358.3L99.8 357.4L99.3 357.9L98.8 359L98.3 356.8L97.8 357.7L97.3 357.7L96.8 369.1L96.3 360L95.8 361.7L95.3 360L94.8 359.7L94.3 360.9L93.8 360.1L93.3 360.4L92.8 361.2L92.3 360.2L91.8 364.1L91.3 361.8L90.8 362.6L90.3 362.5L89.8 361.7L89.3 363L88.8 366.5L88.3 364.9L87.8 369.2L87.3 366.4L86.8 368.9L86.3 369.8L85.8 366.9L85.3 372L84.8 370.1L84.3 370.1L83.8 377.1L83.3 371.1L82.8 370.6L82.3 371.1L81.8 369.9L81.3 369.8L80.8 371.8L80.3 373.7L79.9 373.6L79.4 376.8L78.9 377L78.4 374.6L77.9 372.3L77.4 372.5L76.9 377.1L76.4 375L75.9 372.8L75.4 375.7L74.9 377.1L74.4 373.5L73.9 375.7L73.4 372.9L72.9 372.5L72.4 372.3L71.9 372.5L71.4 373.5L70.9 372.8L70.4 377.1L69.9 374.1L69.4 374.9L68.9 373.6L68.4 377.1L67.9 377.1L67.4 373.4L66.9 373.2L66.4 375.2L65.9 374.8L65.4 377.1L64.9 377.1L64.4 375.7L63.9 377.1L63.4 374.2L62.9 375.2L62.4 373.8L61.9 372.6L61.4 374.9L60.9 376.1L60.4 374.1L59.9 372.8L59.4 376.5L58.9 374.2L58.4 372.9L58 373.4L57.5 372.8L57 372.5L56.5 372.8L56 374.4L55.5 373.5L55 372.7L54.5 377.1L54 373.7L53.5 372.2L53 375.3L52.5 373.5L52 374.9L51.5 376.8L51 371.5L50.5 372.2L50 374.2L49.5 373.1L49 374.4L48.5 371.9L48 371.5L47.5 375.3Z" fill="#ee6a22"/></g>
<path d="M47.5 231.5H324.0M47.5 374.2H324.0M47.5 231.5V374.2M324.0 231.5V374.2" stroke="#808080" stroke-width="1" fill="none"/>
<path d="M102.5 374.2v-3" stroke="#808080" stroke-width="1"/>
<path d="M158.5 374.2v-3" stroke="#808080" stroke-width="1"/>
<path d="M213.5 374.2v-3" stroke="#808080" stroke-width="1"/>
<path d="M268.5 374.2v-3" stroke="#808080" stroke-width="1"/>
<text x="47.5" y="385.8" font-size="10" text-anchor="middle" fill="#222" stroke="#222" stroke-width="0.22">500</text>
<text x="102.8" y="385.8" font-size="10" text-anchor="middle" fill="#222" stroke="#222" stroke-width="0.22">600</text>
<text x="158.1" y="385.8" font-size="10" text-anchor="middle" fill="#222" stroke="#222" stroke-width="0.22">700</text>
<text x="213.4" y="385.8" font-size="10" text-anchor="middle" fill="#222" stroke="#222" stroke-width="0.22">800</text>
<text x="268.7" y="385.8" font-size="10" text-anchor="middle" fill="#222" stroke="#222" stroke-width="0.22">900</text>
<text x="324.0" y="385.8" font-size="10" text-anchor="middle" fill="#222" stroke="#222" stroke-width="0.22">1,000</text>
<path d="M47.5 345.5h3" stroke="#808080" stroke-width="1"/>
<path d="M47.5 317.5h3" stroke="#808080" stroke-width="1"/>
<path d="M47.5 288.5h3" stroke="#808080" stroke-width="1"/>
<path d="M47.5 260.5h3" stroke="#808080" stroke-width="1"/>
<text x="43.0" y="378.8" font-size="10" text-anchor="end" fill="#222" stroke="#222" stroke-width="0.22">0</text>
<text x="43.0" y="350.3" font-size="10" text-anchor="end" fill="#222" stroke="#222" stroke-width="0.22">0.2</text>
<text x="43.0" y="321.7" font-size="10" text-anchor="end" fill="#222" stroke="#222" stroke-width="0.22">0.4</text>
<text x="43.0" y="293.2" font-size="10" text-anchor="end" fill="#222" stroke="#222" stroke-width="0.22">0.6</text>
<text x="43.0" y="264.6" font-size="10" text-anchor="end" fill="#222" stroke="#222" stroke-width="0.22">0.8</text>
<text x="43.0" y="236.1" font-size="10" text-anchor="end" fill="#222" stroke="#222" stroke-width="0.22">1.0</text>
<path d="M67 249h9.2" stroke="#63b945" stroke-width="2"/>
<path d="M67 263h9.2" stroke="#ee6a22" stroke-width="2"/>
<text x="80.8" y="252.2" font-size="11" textLength="21.8" lengthAdjust="spacingAndGlyphs" fill="#222" stroke="#222" stroke-width="0.22">Bare</text>
<text x="80.8" y="266.5" font-size="11" textLength="37.0" lengthAdjust="spacingAndGlyphs" fill="#222" stroke="#222" stroke-width="0.22">Analyte</text>
<text x="258.7" y="364" font-size="11" textLength="56" lengthAdjust="spacingAndGlyphs" fill="#222" stroke="#222" stroke-width="0.22">Experiment</text>
<text x="145.3" y="400.8" font-size="11" textLength="81.1" lengthAdjust="spacingAndGlyphs" fill="#222" stroke="#222" stroke-width="0.22">Wavelength, nm</text>
<g transform="translate(9.4,304.2) rotate(-90)"><text x="0" y="0" font-size="11" text-anchor="middle" textLength="44.7" lengthAdjust="spacingAndGlyphs" fill="#222" stroke="#222" stroke-width="0.22">Emission</text></g>
<g transform="translate(20.3,303.2) rotate(-90)"><text x="0" y="0" font-size="11" text-anchor="middle" textLength="65.6" lengthAdjust="spacingAndGlyphs" fill="#222" stroke="#222" stroke-width="0.22">intensity, a.u.</text></g>
<text x="0.3" y="236.3" font-size="16" font-weight="bold" textLength="10.2" lengthAdjust="spacingAndGlyphs" fill="#000" stroke="#000" stroke-width="0.75">b</text>
<g clip-path="url(#cc)" fill="none" stroke-width="1.8" stroke-linejoin="round"><path d="M47.5 552.5L48.6 551.5L49.7 550.6L50.8 549.6L51.9 548.6L53 547.7L54.1 546.7L55.2 545.8L56.3 544.8L57.5 543.9L58.6 543L59.7 542L60.8 541.1L61.9 540.3L63 539.4L64.1 538.5L65.2 537.7L66.3 536.8L67.4 536L68.5 535.2L69.6 534.4L70.7 533.7L71.8 532.9L72.9 532.2L74 531.4L75.2 530.7L76.3 530L77.4 529.3L78.5 528.7L79.6 528L80.7 527.3L81.8 526.7L82.9 526.1L84 525.4L85.1 524.8L86.2 524.2L87.3 523.6L88.4 523.1L89.5 522.5L90.6 521.9L91.7 521.4L92.8 520.8L94 520.3L95.1 519.8L96.2 519.3L97.3 518.8L98.4 518.3L99.5 517.8L100.6 517.3L101.7 516.9L102.8 516.4L103.9 516L105 515.5L106.1 515.1L107.2 514.6L108.3 514.2L109.4 513.8L110.5 513.4L111.6 513L112.8 512.6L113.9 512.2L115 511.9L116.1 511.5L117.2 511.2L118.3 510.8L119.4 510.5L120.5 510.2L121.6 509.9L122.7 509.6L123.8 509.3L124.9 509L126 508.7L127.1 508.5L128.2 508.3L129.3 508L130.4 507.8L131.6 507.6L132.7 507.4L133.8 507.3L134.9 507.1L136 507L137.1 506.9L138.2 506.8L139.3 506.7L140.4 506.6L141.5 506.6L142.6 506.6L143.7 506.6L144.8 506.6L145.9 506.6L147 506.7L148.1 506.8L149.3 506.9L150.4 507L151.5 507.2L152.6 507.3L153.7 507.5L154.8 507.7L155.9 507.9L157 508.1L158.1 508.4L159.2 508.6L160.3 508.9L161.4 509.3L162.5 509.7L163.6 510.1L164.7 510.5L165.8 511.1L166.9 511.6L168.1 512.2L169.2 512.9L170.3 513.5L171.4 514.2L172.5 514.8L173.6 515.4L174.7 516L175.8 516.6L176.9 517.1L178 517.7L179.1 518.1L180.2 518.5L181.3 518.8L182.4 519.1L183.5 519.4L184.6 519.6L185.8 519.8L186.9 519.9L188 520L189.1 520.1L190.2 520.3L191.3 520.3L192.4 520.4L193.5 520.5L194.6 520.6L195.7 520.6L196.8 520.6L197.9 520.7L199 520.7L200.1 520.7L201.2 520.7L202.3 520.7L203.4 520.7L204.6 520.6L205.7 520.6L206.8 520.5L207.9 520.5L209 520.4L210.1 520.4L211.2 520.3L212.3 520.2L213.4 520.1L214.5 520L215.6 520L216.7 519.9L217.8 519.7L218.9 519.6L220 519.5L221.1 519.4L222.2 519.3L223.4 519.2L224.5 519L225.6 518.9L226.7 518.8L227.8 518.7L228.9 518.5L230 518.4L231.1 518.3L232.2 518.1L233.3 518L234.4 517.9L235.5 517.7L236.6 517.6L237.7 517.4L238.8 517.3L239.9 517.1L241 517L242.2 516.8L243.3 516.6L244.4 516.4L245.5 516.3L246.6 516.1L247.7 515.9L248.8 515.6L249.9 515.4L251 515.2L252.1 514.9L253.2 514.7L254.3 514.4L255.4 514.2L256.5 513.9L257.6 513.6L258.7 513.3L259.9 513L261 512.7L262.1 512.4L263.2 512.1L264.3 511.8L265.4 511.5L266.5 511.1L267.6 510.8L268.7 510.5L269.8 510.1L270.9 509.7L272 509.4L273.1 509L274.2 508.6L275.3 508.2L276.4 507.8L277.5 507.4L278.7 507L279.8 506.6L280.9 506.2L282 505.7L283.1 505.3L284.2 504.8L285.3 504.3L286.4 503.9L287.5 503.4L288.6 502.9L289.7 502.4L290.8 501.9L291.9 501.4L293 500.9L294.1 500.3L295.2 499.8L296.4 499.3L297.5 498.8L298.6 498.2L299.7 497.7L300.8 497.2L301.9 496.6L303 496.1L304.1 495.6L305.2 495L306.3 494.5L307.4 494L308.5 493.5L309.6 492.9L310.7 492.4L311.8 491.9L312.9 491.4L314 490.9L315.2 490.4L316.3 489.9L317.4 489.4L318.5 488.9L319.6 488.4L320.7 487.9L321.8 487.4L322.9 486.9L324 486.4" stroke="#63b945"/><path d="M47.5 551.1L48.6 549.8L49.7 548.4L50.8 547.1L51.9 545.7L53 544.2L54.1 542.6L55.2 540.9L56.3 539.2L57.5 537.3L58.6 535.3L59.7 533.3L60.8 531.1L61.9 528.9L63 526.7L64.1 524.4L65.2 522.1L66.3 519.7L67.4 517.4L68.5 515L69.6 512.6L70.7 510.3L71.8 507.9L72.9 505.6L74 503.3L75.2 501L76.3 498.8L77.4 496.6L78.5 494.4L79.6 492.3L80.7 490.2L81.8 488.1L82.9 486L84 484L85.1 482L86.2 480L87.3 478.1L88.4 476.2L89.5 474.3L90.6 472.5L91.7 470.8L92.8 469.2L94 467.6L95.1 466.1L96.2 464.7L97.3 463.4L98.4 462.1L99.5 460.9L100.6 459.7L101.7 458.5L102.8 457.4L103.9 456.4L105 455.3L106.1 454.2L107.2 453.2L108.3 452.3L109.4 451.3L110.5 450.4L111.6 449.5L112.8 448.7L113.9 448L115 447.2L116.1 446.6L117.2 446L118.3 445.4L119.4 444.9L120.5 444.4L121.6 443.9L122.7 443.5L123.8 443.1L124.9 442.7L126 442.3L127.1 442L128.2 441.8L129.3 441.5L130.4 441.3L131.6 441.2L132.7 441L133.8 440.9L134.9 440.9L136 440.9L137.1 441L138.2 441.1L139.3 441.2L140.4 441.4L141.5 441.6L142.6 441.9L143.7 442.2L144.8 442.5L145.9 442.8L147 443.2L148.1 443.6L149.3 444L150.4 444.4L151.5 444.9L152.6 445.4L153.7 446L154.8 446.5L155.9 447.1L157 447.8L158.1 448.5L159.2 449.2L160.3 450L161.4 450.8L162.5 451.7L163.6 452.6L164.7 453.5L165.8 454.5L166.9 455.6L168.1 456.6L169.2 457.8L170.3 458.9L171.4 460.1L172.5 461.3L173.6 462.6L174.7 464L175.8 465.3L176.9 466.7L178 468.2L179.1 469.7L180.2 471.3L181.3 472.9L182.4 474.6L183.5 476.2L184.6 477.9L185.8 479.6L186.9 481.3L188 483L189.1 484.7L190.2 486.3L191.3 487.9L192.4 489.5L193.5 491L194.6 492.5L195.7 493.9L196.8 495.2L197.9 496.4L199 497.5L200.1 498.6L201.2 499.5L202.3 500.3L203.4 501.1L204.6 501.8L205.7 502.4L206.8 502.9L207.9 503.4L209 503.9L210.1 504.3L211.2 504.7L212.3 505.1L213.4 505.5L214.5 505.8L215.6 506.1L216.7 506.4L217.8 506.7L218.9 506.9L220 507.2L221.1 507.4L222.2 507.6L223.4 507.7L224.5 507.9L225.6 508L226.7 508.1L227.8 508.2L228.9 508.3L230 508.4L231.1 508.5L232.2 508.5L233.3 508.6L234.4 508.6L235.5 508.6L236.6 508.6L237.7 508.6L238.8 508.6L239.9 508.6L241 508.6L242.2 508.5L243.3 508.5L244.4 508.4L245.5 508.4L246.6 508.3L247.7 508.3L248.8 508.2L249.9 508.1L251 508.1L252.1 508L253.2 507.9L254.3 507.8L255.4 507.7L256.5 507.6L257.6 507.5L258.7 507.3L259.9 507.2L261 507.1L262.1 506.9L263.2 506.8L264.3 506.6L265.4 506.5L266.5 506.3L267.6 506.1L268.7 506L269.8 505.8L270.9 505.6L272 505.4L273.1 505.1L274.2 504.9L275.3 504.7L276.4 504.4L277.5 504.2L278.7 503.9L279.8 503.6L280.9 503.4L282 503.1L283.1 502.8L284.2 502.5L285.3 502.2L286.4 501.9L287.5 501.5L288.6 501.2L289.7 500.9L290.8 500.6L291.9 500.3L293 499.9L294.1 499.6L295.2 499.3L296.4 499L297.5 498.7L298.6 498.4L299.7 498L300.8 497.7L301.9 497.4L303 497.1L304.1 496.8L305.2 496.5L306.3 496.1L307.4 495.8L308.5 495.5L309.6 495.2L310.7 494.8L311.8 494.5L312.9 494.1L314 493.8L315.2 493.4L316.3 493L317.4 492.7L318.5 492.3L319.6 491.9L320.7 491.6L321.8 491.2L322.9 490.8L324 490.4" stroke="#ee6a22"/></g>
<path d="M47.5 425.5H324.0M47.5 568.2H324.0M47.5 425.5V568.2M324.0 425.5V568.2" stroke="#808080" stroke-width="1" fill="none"/>
<path d="M102.5 568.2v-3" stroke="#808080" stroke-width="1"/>
<path d="M158.5 568.2v-3" stroke="#808080" stroke-width="1"/>
<path d="M213.5 568.2v-3" stroke="#808080" stroke-width="1"/>
<path d="M268.5 568.2v-3" stroke="#808080" stroke-width="1"/>
<text x="47.5" y="579.3" font-size="10" text-anchor="middle" fill="#222" stroke="#222" stroke-width="0.22">500</text>
<text x="102.8" y="579.3" font-size="10" text-anchor="middle" fill="#222" stroke="#222" stroke-width="0.22">600</text>
<text x="158.1" y="579.3" font-size="10" text-anchor="middle" fill="#222" stroke="#222" stroke-width="0.22">700</text>
<text x="213.4" y="579.3" font-size="10" text-anchor="middle" fill="#222" stroke="#222" stroke-width="0.22">800</text>
<text x="268.7" y="579.3" font-size="10" text-anchor="middle" fill="#222" stroke="#222" stroke-width="0.22">900</text>
<text x="324.0" y="579.3" font-size="10" text-anchor="middle" fill="#222" stroke="#222" stroke-width="0.22">1,000</text>
<path d="M47.5 539.5h3" stroke="#808080" stroke-width="1"/>
<path d="M47.5 511.5h3" stroke="#808080" stroke-width="1"/>
<path d="M47.5 482.5h3" stroke="#808080" stroke-width="1"/>
<path d="M47.5 454.5h3" stroke="#808080" stroke-width="1"/>
<text x="43.0" y="570.7" font-size="10" text-anchor="end" fill="#222" stroke="#222" stroke-width="0.22">0</text>
<text x="43.0" y="542.2" font-size="10" text-anchor="end" fill="#222" stroke="#222" stroke-width="0.22">0.2</text>
<text x="43.0" y="513.6" font-size="10" text-anchor="end" fill="#222" stroke="#222" stroke-width="0.22">0.4</text>
<text x="43.0" y="485.1" font-size="10" text-anchor="end" fill="#222" stroke="#222" stroke-width="0.22">0.6</text>
<text x="43.0" y="456.5" font-size="10" text-anchor="end" fill="#222" stroke="#222" stroke-width="0.22">0.8</text>
<text x="43.0" y="428.0" font-size="10" text-anchor="end" fill="#222" stroke="#222" stroke-width="0.22">1.0</text>
<text x="278.6" y="556.5" font-size="11" textLength="34.1" lengthAdjust="spacingAndGlyphs" fill="#222" stroke="#222" stroke-width="0.22">Theory</text>
<text x="145.3" y="592.2" font-size="11" textLength="81.1" lengthAdjust="spacingAndGlyphs" fill="#222" stroke="#222" stroke-width="0.22">Wavelength, nm</text>
<g transform="translate(9.4,498) rotate(-90)"><text x="0" y="0" font-size="11" text-anchor="middle" textLength="44.7" lengthAdjust="spacingAndGlyphs" fill="#222" stroke="#222" stroke-width="0.22">Emission</text></g>
<g transform="translate(20.3,497) rotate(-90)"><text x="0" y="0" font-size="11" text-anchor="middle" textLength="65.6" lengthAdjust="spacingAndGlyphs" fill="#222" stroke="#222" stroke-width="0.22">intensity, a.u.</text></g>
<text x="0.1" y="428" font-size="16" font-weight="bold" textLength="9.4" lengthAdjust="spacingAndGlyphs" fill="#000" stroke="#000" stroke-width="0.75">c</text>
<rect x="425.3" y="231.5" width="34.6" height="142.7" fill="#ebebeb"/>
<g clip-path="url(#ce)"><path d="M359.5 361.9L360.1 362.6L360.6 359.5L361.2 362.7L361.7 362.1L362.3 365.5L362.8 363.6L363.4 363.8L363.9 362.8L364.5 362.3L365 363.8L365.6 360.3L366.1 364.2L366.7 363.3L367.2 362.3L367.8 364.4L368.3 361.8L368.9 361.7L369.4 362.9L370 359.8L370.5 362.3L371.1 362L371.6 363.7L372.2 364.7L372.7 363.2L373.3 362.7L373.9 362.8L374.4 361L375 365.4L375.5 363.6L376.1 364.5L376.6 359.9L377.2 362.6L377.7 362.4L378.3 363.2L378.8 360.2L379.4 362L379.9 360.9L380.5 363.6L381 358.4L381.6 358.6L382.1 357.4L382.7 355.3L383.2 356.1L383.8 354.7L384.3 352.1L384.9 351.2L385.4 350.9L386 349.2L386.5 348.8L387.1 347.8L387.7 346.6L388.2 347.2L388.8 344L389.3 348.6L389.9 346.4L390.4 343.3L391 346.1L391.5 347.6L392.1 343.1L392.6 344.1L393.2 346.4L393.7 343.4L394.3 345.8L394.8 346.1L395.4 344.2L395.9 344.5L396.5 345.3L397 344.1L397.6 344.8L398.1 343.1L398.7 343.1L399.2 341.8L399.8 343.3L400.3 344.3L400.9 344L401.5 342.2L402 339.4L402.6 340L403.1 341.8L403.7 339.1L404.2 341.7L404.8 338.1L405.3 339.6L405.9 337.4L406.4 337.1L407 337.8L407.5 336.3L408.1 337.7L408.6 335.6L409.2 333.3L409.7 328.4L410.3 332.6L410.8 332.8L411.4 333.7L411.9 330.1L412.5 333.3L413 331.5L413.6 329.2L414.1 330.8L414.7 326.3L415.3 326.3L415.8 328L416.4 327.3L416.9 327.7L417.5 327L418 323.6L418.6 322.6L419.1 322.2L419.7 321.6L420.2 322L420.8 320L421.3 321.9L421.9 319.1L422.4 316.3L423 316L423.5 318L424.1 317.3L424.6 314.4L425.2 313.4L425.7 317.8L426.3 316.1L426.8 315L427.4 313.4L427.9 316.2L428.5 313.9L429.1 315.1L429.6 311.2L430.2 313.8L430.7 314.6L431.3 314.8L431.8 312.7L432.4 313.2L432.9 315.7L433.5 313.9L434 316.2L434.6 315.4L435.1 316.2L435.7 316.4L436.2 315.6L436.8 316.1L437.3 314.1L437.9 313.9L438.4 315.5L439 317L439.5 314.4L440.1 318.7L440.6 318.7L441.2 315.1L441.7 315.5L442.3 315.2L442.9 317.2L443.4 318.9L444 318L444.5 316.7L445.1 318.9L445.6 319L446.2 320.3L446.7 320.2L447.3 317.7L447.8 318.6L448.4 321.3L448.9 321.6L449.5 321.3L450 320.2L450.6 323.1L451.1 322.1L451.7 325.4L452.2 324.7L452.8 322.7L453.3 322.5L453.9 326L454.4 325.9L455 324.1L455.5 326.3L456.1 326.9L456.7 325.8L457.2 326.7L457.8 325.8L458.3 326.6L458.9 328.9L459.4 328.5L460 328.7L460.5 330.8L461.1 330.4L461.6 327.8L462.2 331.6L462.7 328L463.3 329.1L463.8 329.9L464.4 329L464.9 329.2L465.5 328.3L466 330.7L466.6 330.5L467.1 330.6L467.7 327.7L468.2 329.1L468.8 331.9L469.3 331.1L469.9 331.7L470.5 330.7L471 330.5L471.6 327.6L472.1 333.5L472.7 329.5L473.2 330.4L473.8 332L474.3 331.2L474.9 331.7L475.4 330.9L476 329.5L476.5 333.1L477.1 329L477.6 331.3L478.2 328.6L478.7 330L479.3 328.8L479.8 329.6L480.4 328.7L480.9 330L481.5 331.2L482 328.9L482.6 328.6L483.1 326.5L483.7 332.2L484.3 329.4L484.8 327.4L485.4 330.6L485.9 328.9L486.5 325.4L487 326.2L487.6 329.3L488.1 325.8L488.7 326L489.2 326.4L489.8 326.8L490.3 326.8L490.9 328.2L491.4 327.5L492 325.6L492.5 326.2L493.1 323.6L493.6 326.5L494.2 329.2L494.7 326.1L495.3 325L495.8 324.6L496.4 324.9L496.9 325.9L497.5 322.4L498.1 325.3L498.6 323.2L499.2 324.4L499.7 325.6L500.3 321.7L500.8 327.2L501.4 324.6L501.9 322.7L502.5 323.7L503 321.9L503.6 323L504.1 323.4L504.7 319.5L505.2 322.8L505.8 322.6L506.3 323.7L506.9 323.1L507.4 321L508 321L508.5 321.7L509.1 322.6L509.6 320.5L510.2 323.8L510.7 321.8L511.3 321.6L511.9 322.3L512.4 320.8L513 321.9L513.5 322L514.1 318.2L514.6 319.6L515.2 318.9L515.7 320.5L516.3 319.1L516.8 319.3L517.4 318.7L517.9 317L518.5 320.6L519 319.9L519.6 320.3L520.1 325.1L520.7 322.1L521.2 320L521.8 319.1L522.3 320.8L522.9 318.3L523.4 318L524 320.4L524.5 317.7L525.1 317.2L525.7 319L526.2 321L526.8 317.5L527.3 319.8L527.9 320L528.4 319.3L529 320.2L529.5 317.8L530.1 318.2L530.6 317.5L531.2 318.4L531.7 320.3L532.3 319.4L532.8 317.9L533.4 319.7L533.9 314.9L534.5 319.4L535 319.8L535.6 317.3L536.1 317.9L536.7 318.9L537.2 319.2L537.8 318.2L538.3 317.6L538.9 317.7L539.5 319.2L540 318.1L540.6 317.5L541.1 317.6L541.7 323L542.2 319.9L542.8 319.7L543.3 318.9L543.9 318.3L544.4 317.2L545 317.6L545.5 318.6L546.1 318.4L546.6 315.9L547.2 319.2L547.7 317.9L548.3 316.1L548.8 317.8L549.4 321.2L549.9 317.7L550.5 318.8L551 318.3L551.6 316.7L552.1 317.5L552.7 318.5L553.3 316.8L553.8 317.4L554.4 317.9L554.9 317.6L555.5 317.6L556 318.4L556.6 318.6L557.1 317.9L557.7 319.3L558.2 319.7L558.8 316L559.3 318.2L559.9 317.8L560.4 318L561 317.7L561.5 317.7L562.1 317.6L562.6 318.8L563.2 316.3L563.7 318.6L564.3 316.1L564.8 320.3L565.4 319.1L565.9 316.2L566.5 317.8L567.1 318.5L567.6 317L568.2 319L568.7 317.4L569.3 320.6L569.8 318.1L570.4 318.4L570.9 316.6L571.5 316.2L572 318.6L572.6 315.1L573.1 318.2L573.7 320.3L574.2 320.7L574.8 315.1L575.3 317.4L575.9 318.2L576.4 318.4L577 318.8L577.5 315.3L578.1 317.4L578.6 314.7L579.2 317.5L579.7 320.6L580.3 316L580.9 317.7L581.4 317.5L582 314.9L582.5 317.5L583.1 315.5L583.6 317.2L584.2 318.2L584.7 316.4L585.3 318L585.8 315.4L586.4 315.7L586.9 317L587.5 316.2L588 316.3L588.6 317.4L589.1 315.8L589.7 317.3L590.2 316.1L590.8 318.4L591.3 316.8L591.9 316.4L592.4 318.1L593 317.5L593.5 317.7L594.1 315.9L594.7 317.9L595.2 316.2L595.8 314.7L596.3 316.3L596.9 319.1L597.4 316.6L598 315.3L598.5 317.2L599.1 315.1L599.6 315.8L600.2 316.1L600.7 317L601.3 317.4L601.8 317L602.4 316.5L602.9 315.8L603.5 315.9L604 316.9L604.6 316.4L605.1 315.9L605.7 318.7L606.2 317.4L606.8 317.5L607.3 316.6L607.9 316.6L608.5 316.6L609 317.4L609.6 315.1L610.1 315.6L610.7 318.2L611.2 315.7L611.8 317.2L612.3 313L612.9 315.9L613.4 315.6L614 314.7L614.5 314.9L615.1 314.5L615.6 312L616.2 313.6L616.7 312.5L617.3 311.8L617.8 314.6L618.4 310.5L618.9 311.6L619.5 310.9L620 313.2L620.6 310.5L621.1 310.8L621.7 311.8L622.3 307.5L622.8 309.6L623.4 310.4L623.9 309.4L624.5 308.1L625 307.4L625.6 307.9L626.1 306.6L626.7 305.9L627.2 309.4L627.8 308L628.3 308.3L628.9 306.4L629.4 304L630 304.7L630.5 306.6L631.1 305.1L631.6 302.7L632.2 304.4L632.7 303.2L633.3 302.1L633.8 304.6L634.4 300.3L634.9 300.3L635.5 299.4L635.5 304L634.9 309.1L634.4 305.6L633.8 308.8L633.3 309.6L632.7 306.6L632.2 309L631.6 311.4L631.1 307.7L630.5 311.1L630 309.2L629.4 311.9L628.9 312.4L628.3 312.9L627.8 310.4L627.2 313.9L626.7 313.7L626.1 311.7L625.6 313.7L625 314.6L624.5 317.1L623.9 316.9L623.4 314.1L622.8 313L622.3 317L621.7 316.1L621.1 317.7L620.6 317.5L620 316.4L619.5 317.9L618.9 317.7L618.4 318.8L617.8 318.7L617.3 319.4L616.7 316.8L616.2 318.1L615.6 320.6L615.1 319.5L614.5 322L614 322.8L613.4 320.7L612.9 319L612.3 321.7L611.8 322.4L611.2 320.2L610.7 321.7L610.1 320.9L609.6 319.5L609 321.6L608.5 322.5L607.9 321.3L607.3 321L606.8 321L606.2 321.9L605.7 320.2L605.1 321.3L604.6 326L604 321.5L603.5 321.2L602.9 322.2L602.4 321.5L601.8 318L601.3 322.5L600.7 323.7L600.2 324.5L599.6 321.8L599.1 320L598.5 323.1L598 322L597.4 319.4L596.9 324.3L596.3 322.8L595.8 322.4L595.2 321.2L594.7 319.5L594.1 324.6L593.5 321.2L593 317.8L592.4 322.4L591.9 322.1L591.3 323.7L590.8 323.6L590.2 320.8L589.7 324.7L589.1 323.9L588.6 323.4L588 323.5L587.5 320.8L586.9 322.2L586.4 325.3L585.8 321.7L585.3 322.1L584.7 322.5L584.2 321.6L583.6 321L583.1 322.4L582.5 320.6L582 323.4L581.4 320.2L580.9 323L580.3 320.9L579.7 319.1L579.2 324.4L578.6 321.8L578.1 323.4L577.5 322.3L577 323.2L576.4 321.7L575.9 322.4L575.3 320.5L574.8 322.2L574.2 323.5L573.7 323.5L573.1 319.7L572.6 323L572 321.7L571.5 322L570.9 320.9L570.4 320.1L569.8 323.6L569.3 323.4L568.7 321.7L568.2 323.8L567.6 322.1L567.1 321.5L566.5 322L565.9 320.6L565.4 324L564.8 321L564.3 322.9L563.7 323.4L563.2 323.2L562.6 320.2L562.1 320.6L561.5 324.4L561 321L560.4 323.7L559.9 319.7L559.3 322.4L558.8 323.8L558.2 322.8L557.7 324.9L557.1 321.8L556.6 322.4L556 324.9L555.5 322.1L554.9 324L554.4 322.6L553.8 322.6L553.3 323.5L552.7 323.9L552.1 324.8L551.6 325.9L551 320.7L550.5 322.3L549.9 321.6L549.4 324.7L548.8 322.5L548.3 321.8L547.7 326.1L547.2 325.7L546.6 326L546.1 322.9L545.5 323L545 323.8L544.4 324.7L543.9 321L543.3 324.5L542.8 324.7L542.2 322.9L541.7 324.3L541.1 325.2L540.6 322.2L540 323.5L539.5 323.8L538.9 326.7L538.3 325.2L537.8 324.4L537.2 321.5L536.7 321.8L536.1 323.2L535.6 322.6L535 324.6L534.5 326.3L533.9 324.2L533.4 325.9L532.8 323.9L532.3 325.5L531.7 324.7L531.2 321.9L530.6 323.6L530.1 324L529.5 327.5L529 325.6L528.4 324.8L527.9 324.6L527.3 324.3L526.8 322.1L526.2 322.7L525.7 327.2L525.1 324.2L524.5 324.9L524 323.3L523.4 323.9L522.9 326.2L522.3 326.8L521.8 323.9L521.2 324L520.7 324.4L520.1 326.1L519.6 323.1L519 326.6L518.5 326.1L517.9 326.8L517.4 325.2L516.8 325.1L516.3 326L515.7 324.4L515.2 325.2L514.6 325.7L514.1 326.6L513.5 326.2L513 327.8L512.4 326.7L511.9 325.7L511.3 325.9L510.7 327.4L510.2 327.2L509.6 324.2L509.1 326.5L508.5 328.3L508 325.2L507.4 323.9L506.9 323.6L506.3 328.1L505.8 326.8L505.2 327.2L504.7 326L504.1 328.4L503.6 326L503 325.8L502.5 330.1L501.9 330.7L501.4 327.2L500.8 327L500.3 329.6L499.7 328.2L499.2 326.8L498.6 329L498.1 329.6L497.5 328.1L496.9 328.2L496.4 329.6L495.8 329.5L495.3 328.5L494.7 332.4L494.2 332.4L493.6 330.4L493.1 331.9L492.5 330.3L492 331.5L491.4 332.3L490.9 333.3L490.3 330.7L489.8 335L489.2 332.5L488.7 331.7L488.1 335.1L487.6 331.7L487 335.1L486.5 335.9L485.9 336.1L485.4 334.9L484.8 332.4L484.3 334.2L483.7 333.8L483.1 334.5L482.6 335L482 334.6L481.5 336.9L480.9 336.3L480.4 335.6L479.8 336.4L479.3 335.8L478.7 337L478.2 336.1L477.6 334.3L477.1 339.3L476.5 336.3L476 335.8L475.4 337.7L474.9 337.6L474.3 336.9L473.8 335.4L473.2 336.3L472.7 336.3L472.1 334.6L471.6 337L471 336.6L470.5 335L469.9 338.7L469.3 336L468.8 335.7L468.2 335.1L467.7 336.2L467.1 336.6L466.6 334.7L466 334L465.5 333.1L464.9 334.3L464.4 335.6L463.8 333.2L463.3 334.5L462.7 333.9L462.2 333.8L461.6 332.9L461.1 331.5L460.5 333.3L460 338.3L459.4 332.4L458.9 332.4L458.3 332.8L457.8 333.4L457.2 329.4L456.7 331.5L456.1 331.5L455.5 328.3L455 332.3L454.4 330L453.9 328.1L453.3 329.1L452.8 325.8L452.2 328.4L451.7 323L451.1 328.1L450.6 327.3L450 326.1L449.5 326.3L448.9 323.9L448.4 324.4L447.8 323.2L447.3 323.8L446.7 324.9L446.2 323.4L445.6 324.8L445.1 325.2L444.5 322.4L444 324.8L443.4 322.3L442.9 321.8L442.3 322.1L441.7 322.7L441.2 320.2L440.6 321L440.1 321.3L439.5 322.6L439 320.2L438.4 319.2L437.9 319L437.3 320.5L436.8 322.1L436.2 321.4L435.7 319.4L435.1 319.1L434.6 318.2L434 319.5L433.5 320.3L432.9 320L432.4 320.4L431.8 319.7L431.3 321L430.7 319.6L430.2 316.6L429.6 320.1L429.1 318.2L428.5 319.4L427.9 321.5L427.4 320.1L426.8 319.7L426.3 320L425.7 322.9L425.2 323.6L424.6 319.5L424.1 323.4L423.5 323L423 321.3L422.4 321.8L421.9 323.4L421.3 325.5L420.8 324.3L420.2 327.6L419.7 328.5L419.1 329.6L418.6 330L418 329.8L417.5 331.9L416.9 333L416.4 334.8L415.8 329.4L415.3 332.2L414.7 331.3L414.1 333.8L413.6 333.8L413 335.5L412.5 336.6L411.9 335.6L411.4 339L410.8 337.8L410.3 338.1L409.7 341.8L409.2 342.8L408.6 340.3L408.1 342.2L407.5 343.1L407 343.6L406.4 342L405.9 343.3L405.3 344.1L404.8 343.8L404.2 343.2L403.7 346.3L403.1 346.1L402.6 344.3L402 345.3L401.5 345.9L400.9 345.1L400.3 345.8L399.8 346.1L399.2 345.7L398.7 349.1L398.1 349.1L397.6 347.1L397 349.6L396.5 347.3L395.9 351.7L395.4 349.9L394.8 352.4L394.3 348L393.7 350L393.2 348.4L392.6 350.7L392.1 349L391.5 349L391 347.5L390.4 349.3L389.9 353.1L389.3 348.5L388.8 351.9L388.2 351.8L387.7 353.4L387.1 354L386.5 355.3L386 358.3L385.4 359.1L384.9 362.2L384.3 359.6L383.8 363.7L383.2 364.7L382.7 363.8L382.1 367.6L381.6 369.6L381 369.3L380.5 371.2L379.9 370L379.4 370.1L378.8 370.8L378.3 368.5L377.7 370.5L377.2 369L376.6 372.1L376.1 371.3L375.5 368.5L375 371.3L374.4 369.7L373.9 367.3L373.3 372.8L372.7 368.8L372.2 370.2L371.6 370.6L371.1 370.3L370.5 372.2L370 370.4L369.4 369.7L368.9 369.9L368.3 371.2L367.8 370.8L367.2 370.4L366.7 373.5L366.1 373.2L365.6 370.8L365 373.7L364.5 370.4L363.9 370.3L363.4 373.2L362.8 373.9L362.3 371.5L361.7 371.5L361.2 371.7L360.6 370.5L360.1 370.3L359.5 370Z" fill="#9cc3e6" opacity="0.85"/><path d="M359.5 366.9L360.1 366.4L360.6 368.4L361.2 366.5L361.7 367.1L362.3 367.1L362.8 367.6L363.4 366.8L363.9 367.6L364.5 367.5L365 367.2L365.6 367.6L366.1 366L366.7 367.7L367.2 367.3L367.8 367L368.3 366.8L368.9 366.3L369.4 366.3L370 366.9L370.5 366.9L371.1 366.6L371.6 366.1L372.2 366.1L372.7 366.8L373.3 367.6L373.9 365.1L374.4 365.8L375 366.1L375.5 366L376.1 366.4L376.6 366.6L377.2 366.1L377.7 366L378.3 366.2L378.8 366.6L379.4 365.8L379.9 365.1L380.5 365.2L381 364.3L381.6 364.6L382.1 362.5L382.7 361.3L383.2 360.7L383.8 359.7L384.3 357.1L384.9 356.5L385.4 354.4L386 353.7L386.5 352L387.1 351.5L387.7 351.3L388.2 349.8L388.8 349.4L389.3 348.5L389.9 348.8L390.4 348.5L391 347.5L391.5 347.1L392.1 347.1L392.6 346.8L393.2 346.9L393.7 346.5L394.3 346.3L394.8 346.4L395.4 346.5L395.9 346.3L396.5 344.8L397 346L397.6 346L398.1 345.9L398.7 345.6L399.2 345.2L399.8 345.8L400.3 346L400.9 344.5L401.5 345.3L402 343.9L402.6 343.7L403.1 342.7L403.7 342L404.2 342.3L404.8 342.4L405.3 342.2L405.9 341.5L406.4 340.4L407 341L407.5 339.2L408.1 338.7L408.6 337.7L409.2 337.6L409.7 336.7L410.3 336.5L410.8 335.7L411.4 335.8L411.9 334L412.5 332.6L413 332.7L413.6 332L414.1 332.1L414.7 330.1L415.3 330.8L415.8 329.2L416.4 328.9L416.9 328.8L417.5 326.9L418 326.8L418.6 325.9L419.1 325L419.7 324.5L420.2 323.9L420.8 322.7L421.3 322.5L421.9 321.6L422.4 321.3L423 321.2L423.5 320.2L424.1 319.6L424.6 318.8L425.2 317.8L425.7 319.2L426.3 317.9L426.8 319.1L427.4 318.2L427.9 317.8L428.5 318.6L429.1 318.3L429.6 317L430.2 316.9L430.7 316.9L431.3 317.3L431.8 315.5L432.4 316.8L432.9 317.2L433.5 315.7L434 316.4L434.6 317L435.1 316.2L435.7 316.9L436.2 316.7L436.8 317.1L437.3 317.9L437.9 317L438.4 317.6L439 318.4L439.5 318.5L440.1 317.7L440.6 318.7L441.2 318.7L441.7 318.5L442.3 319.1L442.9 320.2L443.4 319.2L444 319.3L444.5 319.5L445.1 319.3L445.6 320.3L446.2 320.3L446.7 320.2L447.3 321.6L447.8 320.8L448.4 321.2L448.9 322.1L449.5 322L450 323L450.6 324.4L451.1 323.8L451.7 324.7L452.2 325.1L452.8 325.8L453.3 325.6L453.9 326.5L454.4 327.7L455 327.5L455.5 327.8L456.1 329.1L456.7 329.3L457.2 329.7L457.8 330.2L458.3 330L458.9 330L459.4 329.8L460 330.4L460.5 330.8L461.1 330.9L461.6 330.9L462.2 332L462.7 331.5L463.3 331.9L463.8 332.2L464.4 332.5L464.9 332.7L465.5 332.7L466 333.3L466.6 332.4L467.1 332.8L467.7 332.8L468.2 332.8L468.8 332.6L469.3 333.5L469.9 333.3L470.5 334.2L471 334.6L471.6 334.5L472.1 332.5L472.7 334.5L473.2 333.2L473.8 332.7L474.3 333.8L474.9 332.6L475.4 332.5L476 333L476.5 332.1L477.1 333L477.6 333.7L478.2 332.9L478.7 333.4L479.3 333.8L479.8 333.6L480.4 331.5L480.9 332.9L481.5 332.5L482 332.7L482.6 332.1L483.1 332.1L483.7 332.1L484.3 332.3L484.8 332.3L485.4 331.7L485.9 330.9L486.5 329.7L487 330.1L487.6 329.5L488.1 330.1L488.7 330.2L489.2 330.8L489.8 329.8L490.3 330.9L490.9 329.7L491.4 328.4L492 328.9L492.5 328.3L493.1 328.9L493.6 329.3L494.2 328.6L494.7 328.3L495.3 327.2L495.8 326.5L496.4 327.9L496.9 327.5L497.5 327.1L498.1 327.1L498.6 327.4L499.2 326.5L499.7 326.2L500.3 326L500.8 326.8L501.4 326L501.9 326.8L502.5 325.1L503 326.1L503.6 325.5L504.1 325.5L504.7 325.4L505.2 325.6L505.8 325.9L506.3 323.7L506.9 324.5L507.4 324.3L508 323.2L508.5 324.3L509.1 323.8L509.6 324L510.2 323.2L510.7 323.5L511.3 323.5L511.9 323.8L512.4 323.4L513 322.8L513.5 324.6L514.1 323.4L514.6 323.5L515.2 323.3L515.7 324.2L516.3 322.6L516.8 323.5L517.4 323.1L517.9 323.2L518.5 323.8L519 323L519.6 323.8L520.1 323.2L520.7 322.8L521.2 322.6L521.8 322.5L522.3 322.5L522.9 321.2L523.4 322.1L524 323L524.5 322.6L525.1 322.6L525.7 322.3L526.2 322.5L526.8 322.6L527.3 321.1L527.9 322L528.4 322.2L529 322.1L529.5 322L530.1 321.1L530.6 321.6L531.2 321.2L531.7 323.5L532.3 321.5L532.8 321.1L533.4 320.5L533.9 321.6L534.5 322.6L535 321.2L535.6 321.9L536.1 322.5L536.7 321.8L537.2 320.8L537.8 320.7L538.3 320.9L538.9 321.9L539.5 319.9L540 321.9L540.6 321.3L541.1 322L541.7 320.4L542.2 320.9L542.8 320.6L543.3 321L543.9 321.1L544.4 320.9L545 322.1L545.5 320.4L546.1 320.4L546.6 321.1L547.2 320.9L547.7 320.7L548.3 320L548.8 320.6L549.4 320.8L549.9 321.1L550.5 321.6L551 321.1L551.6 320.7L552.1 320.8L552.7 320.6L553.3 320.2L553.8 320.4L554.4 320.4L554.9 320.2L555.5 320.4L556 320.5L556.6 320.2L557.1 321.4L557.7 319.7L558.2 321.2L558.8 319.9L559.3 320.4L559.9 319.7L560.4 320.3L561 320.8L561.5 319.7L562.1 320.1L562.6 320.2L563.2 320.2L563.7 319.6L564.3 319.7L564.8 320L565.4 321L565.9 320.3L566.5 320L567.1 319L567.6 319.8L568.2 320.1L568.7 319.3L569.3 320.1L569.8 320L570.4 319.9L570.9 320.8L571.5 319.4L572 319.7L572.6 320.1L573.1 320.6L573.7 319.8L574.2 319.1L574.8 320.2L575.3 320.5L575.9 319.6L576.4 320.7L577 321.1L577.5 320.1L578.1 320.2L578.6 319.9L579.2 320.1L579.7 319.6L580.3 319.9L580.9 320.1L581.4 320L582 319.4L582.5 319.2L583.1 319.2L583.6 319.3L584.2 321.6L584.7 320.2L585.3 319.8L585.8 319.5L586.4 320.6L586.9 318.8L587.5 319.4L588 320L588.6 319.5L589.1 319.8L589.7 320L590.2 319.3L590.8 319.8L591.3 320.3L591.9 319.9L592.4 319.6L593 320.1L593.5 318.7L594.1 320.1L594.7 318.4L595.2 318.9L595.8 319.9L596.3 319.3L596.9 318.7L597.4 319.4L598 320L598.5 319.2L599.1 318.1L599.6 320.1L600.2 318.9L600.7 319.2L601.3 319.2L601.8 319.4L602.4 319.3L602.9 318.5L603.5 318.7L604 319.6L604.6 318.1L605.1 319.7L605.7 318.6L606.2 318.8L606.8 318.2L607.3 318.6L607.9 318.2L608.5 318.8L609 318.1L609.6 318.4L610.1 317.3L610.7 318.8L611.2 317.6L611.8 317.9L612.3 317.9L612.9 318.1L613.4 317.4L614 318.2L614.5 318L615.1 316.6L615.6 317.6L616.2 315.7L616.7 316.4L617.3 315.8L617.8 315.7L618.4 315.2L618.9 315.3L619.5 315.1L620 314.6L620.6 313.6L621.1 313.3L621.7 312.9L622.3 313.1L622.8 313.1L623.4 313.6L623.9 311.9L624.5 311.5L625 311.8L625.6 310.8L626.1 310.2L626.7 310.5L627.2 309.6L627.8 309.7L628.3 310.5L628.9 309.3L629.4 308.9L630 307.9L630.5 308.2L631.1 307.4L631.6 307.2L632.2 306.2L632.7 305.6L633.3 304.5L633.8 304.1L634.4 303.8L634.9 303.2L635.5 302.7" fill="none" stroke="#1170ba" stroke-width="1.8"/><path d="M359.5 363.2L360.1 361.2L360.6 366.9L361.2 363.6L361.7 362.9L362.3 361.8L362.8 364.9L363.4 362.8L363.9 362.1L364.5 363.9L365 366L365.6 363.8L366.1 365L366.7 362.3L367.2 364.4L367.8 360.6L368.3 362.9L368.9 364.2L369.4 363.8L370 364.6L370.5 362.4L371.1 360.8L371.6 363.2L372.2 361.5L372.7 364.1L373.3 362.3L373.9 359.4L374.4 364.6L375 360.8L375.5 360.8L376.1 365.1L376.6 364.4L377.2 363.7L377.7 360.8L378.3 362.7L378.8 362.3L379.4 361L379.9 361.6L380.5 361L381 361.1L381.6 358.2L382.1 360L382.7 355.4L383.2 357.1L383.8 356.5L384.3 353.1L384.9 352.1L385.4 354.4L386 350L386.5 351.2L387.1 351.2L387.7 348L388.2 349.7L388.8 347.5L389.3 348.2L389.9 344.6L390.4 347.2L391 348.5L391.5 348.1L392.1 347.6L392.6 345.9L393.2 345.9L393.7 344.4L394.3 345.3L394.8 345.2L395.4 344.8L395.9 345.3L396.5 344.6L397 343.7L397.6 343.5L398.1 345.3L398.7 346.8L399.2 345.3L399.8 343.5L400.3 347.2L400.9 344.1L401.5 342.5L402 343.7L402.6 344.1L403.1 339.6L403.7 339.8L404.2 341.7L404.8 338.9L405.3 338.5L405.9 341.4L406.4 335.4L407 340L407.5 338.4L408.1 339L408.6 336.7L409.2 338L409.7 335.5L410.3 333.3L410.8 333.9L411.4 333.9L411.9 330.7L412.5 333.5L413 330.2L413.6 331.4L414.1 330L414.7 329.7L415.3 328.9L415.8 328.5L416.4 328.9L416.9 327.9L417.5 325.7L418 325.7L418.6 326.5L419.1 325L419.7 324.3L420.2 322.6L420.8 321.5L421.3 320.9L421.9 321.3L422.4 319.7L423 321.1L423.5 322.7L424.1 318.2L424.6 320L425.2 318.6L425.7 318.7L426.3 315.9L426.8 318.3L427.4 316.1L427.9 317L428.5 317.9L429.1 318.3L429.6 315.2L430.2 315.2L430.7 314.6L431.3 313L431.8 315.2L432.4 315.1L432.9 315.7L433.5 315.4L434 316.1L434.6 316.9L435.1 312.9L435.7 318.5L436.2 315.5L436.8 315.4L437.3 316L437.9 317.7L438.4 316.8L439 317.4L439.5 318.4L440.1 317.2L440.6 317.9L441.2 318.3L441.7 316.8L442.3 319.5L442.9 317.6L443.4 319.3L444 318.1L444.5 318.8L445.1 318.8L445.6 320.8L446.2 320.7L446.7 321.2L447.3 320L447.8 319.6L448.4 319.5L448.9 322.2L449.5 321.8L450 324.6L450.6 326L451.1 324.5L451.7 324.7L452.2 326.4L452.8 327.3L453.3 324.4L453.9 326.8L454.4 328.6L455 323.3L455.5 326.8L456.1 328L456.7 327L457.2 329.4L457.8 326.5L458.3 331.3L458.9 331.3L459.4 329.9L460 331.1L460.5 328.2L461.1 332.7L461.6 331.6L462.2 330.4L462.7 330L463.3 329.5L463.8 330.6L464.4 328L464.9 332L465.5 331.1L466 330.3L466.6 332.1L467.1 332.1L467.7 332.5L468.2 332.8L468.8 333.6L469.3 332.8L469.9 334.3L470.5 331.6L471 334.5L471.6 329.4L472.1 329.9L472.7 330.8L473.2 332.7L473.8 333.3L474.3 330.7L474.9 332.2L475.4 331.6L476 333.4L476.5 330.9L477.1 333.5L477.6 332.1L478.2 334.6L478.7 333L479.3 331.2L479.8 332.5L480.4 332.3L480.9 330.4L481.5 331.5L482 329.5L482.6 334.5L483.1 330.1L483.7 330L484.3 332.8L484.8 332.2L485.4 329L485.9 331.6L486.5 330.8L487 328.8L487.6 330L488.1 328.6L488.7 330.4L489.2 328.5L489.8 327.2L490.3 328.1L490.9 331.6L491.4 327.3L492 328L492.5 329.2L493.1 325.7L493.6 329.9L494.2 324.6L494.7 327.9L495.3 324.6L495.8 326.7L496.4 328.3L496.9 326.1L497.5 325.5L498.1 325.1L498.6 324.1L499.2 326.8L499.7 324.6L500.3 324.1L500.8 325.4L501.4 326.2L501.9 326.1L502.5 323.5L503 323.3L503.6 325.5L504.1 326.1L504.7 322.3L505.2 326.1L505.8 323.6L506.3 324.8L506.9 326L507.4 323.3L508 323.6L508.5 321.1L509.1 319.9L509.6 323.2L510.2 321.4L510.7 321.3L511.3 323.4L511.9 323.8L512.4 320.2L513 322.9L513.5 322.4L514.1 322.7L514.6 322.4L515.2 323L515.7 321L516.3 320.2L516.8 322.5L517.4 323.8L517.9 321.8L518.5 323.9L519 322.6L519.6 319.9L520.1 318.3L520.7 321L521.2 323L521.8 320.4L522.3 324.6L522.9 322.4L523.4 319.2L524 320.2L524.5 323.2L525.1 323.6L525.7 319.9L526.2 321.2L526.8 321.9L527.3 320.4L527.9 321.8L528.4 323.7L529 319.8L529.5 321.8L530.1 322.3L530.6 322.7L531.2 320.4L531.7 321.9L532.3 319.8L532.8 321L533.4 319.1L533.9 321.1L534.5 321.5L535 323.3L535.6 322L536.1 319.4L536.7 316.1L537.2 322.1L537.8 321.8L538.3 319.8L538.9 319.6L539.5 321.2L540 320.1L540.6 322.5L541.1 320.6L541.7 318.9L542.2 317.8L542.8 320.3L543.3 320.4L543.9 319.4L544.4 318.4L545 319.3L545.5 321L546.1 319.4L546.6 318.5L547.2 320.9L547.7 321.7L548.3 319.1L548.8 319.3L549.4 318.4L549.9 319.6L550.5 320.6L551 320.3L551.6 321.1L552.1 321L552.7 320.4L553.3 320.3L553.8 318L554.4 321.3L554.9 319.6L555.5 320.3L556 317.4L556.6 319.1L557.1 319.9L557.7 318.2L558.2 319.3L558.8 320L559.3 317.1L559.9 318.3L560.4 316.8L561 317.6L561.5 318.1L562.1 319L562.6 320.7L563.2 318.2L563.7 319L564.3 318.2L564.8 319.1L565.4 320.1L565.9 320.5L566.5 318L567.1 317.2L567.6 319.4L568.2 318.3L568.7 317L569.3 320.1L569.8 319.4L570.4 320.5L570.9 317.2L571.5 318.5L572 319.5L572.6 321.2L573.1 319.1L573.7 317.4L574.2 319.2L574.8 319.4L575.3 317.9L575.9 320.5L576.4 318.7L577 317.9L577.5 319.9L578.1 319.9L578.6 318.4L579.2 318.9L579.7 319L580.3 318.4L580.9 318.4L581.4 320L582 319.6L582.5 318L583.1 317.1L583.6 316.7L584.2 319.8L584.7 317.1L585.3 317.5L585.8 318.6L586.4 317.9L586.9 317.4L587.5 316L588 320L588.6 317.7L589.1 318.7L589.7 318.8L590.2 316.9L590.8 317.3L591.3 319.9L591.9 318.8L592.4 318.1L593 320.4L593.5 317.2L594.1 318.5L594.7 318.1L595.2 317.9L595.8 315.8L596.3 318.3L596.9 318.8L597.4 315.8L598 319L598.5 319L599.1 320.2L599.6 316.7L600.2 317.8L600.7 317.5L601.3 317.9L601.8 318.3L602.4 319.2L602.9 319.1L603.5 317.4L604 317.8L604.6 315.6L605.1 319L605.7 318.6L606.2 319.3L606.8 315.9L607.3 319.5L607.9 316.6L608.5 315.7L609 317.8L609.6 316.5L610.1 320.5L610.7 317.9L611.2 319.6L611.8 316.8L612.3 316.9L612.9 317.8L613.4 315.2L614 315.9L614.5 316.9L615.1 316.7L615.6 317.8L616.2 315.7L616.7 312.2L617.3 316L617.8 314.1L618.4 315.2L618.9 313L619.5 313.2L620 313.9L620.6 315.8L621.1 313.6L621.7 310.9L622.3 312.6L622.8 311.1L623.4 312.3L623.9 313.9L624.5 310.3L625 310.1L625.6 311L626.1 310.4L626.7 309.1L627.2 310L627.8 308.3L628.3 308.7L628.9 311.3L629.4 307.7L630 307.8L630.5 307.6L631.1 305.3L631.6 306L632.2 304L632.7 302.6L633.3 303.3L633.8 305.1L634.4 303.3L634.9 300.4L635.5 301.4L635.5 306.1L634.9 306.3L634.4 305.8L633.8 306.8L633.3 308.9L632.7 310.8L632.2 308.2L631.6 312.3L631.1 309.5L630.5 312.6L630 313.5L629.4 311.6L628.9 313.3L628.3 312L627.8 315.2L627.2 314.9L626.7 315.2L626.1 316.2L625.6 314.8L625 315.1L624.5 317.1L623.9 315.9L623.4 315.2L622.8 315.6L622.3 318.1L621.7 316L621.1 316.1L620.6 317.5L620 317L619.5 321.9L618.9 322.4L618.4 319.9L617.8 321L617.3 320.1L616.7 319.6L616.2 321.1L615.6 320.7L615.1 320.4L614.5 320.2L614 321.4L613.4 323.3L612.9 323.5L612.3 323.4L611.8 323.2L611.2 319.6L610.7 322.4L610.1 324.5L609.6 319L609 324.7L608.5 322.8L607.9 325.7L607.3 323.7L606.8 321.6L606.2 325.5L605.7 323.9L605.1 322.8L604.6 321.7L604 323.2L603.5 323.7L602.9 320.8L602.4 320.9L601.8 322.8L601.3 322.7L600.7 321.7L600.2 323.6L599.6 322.7L599.1 323.8L598.5 321.1L598 320.7L597.4 322L596.9 322.6L596.3 323.7L595.8 321.5L595.2 324.7L594.7 324.9L594.1 322.5L593.5 325.6L593 323L592.4 323.2L591.9 324.6L591.3 323.7L590.8 322.9L590.2 321.3L589.7 322.9L589.1 325.2L588.6 325.8L588 325.2L587.5 322.5L586.9 324.4L586.4 323.7L585.8 323.6L585.3 323.9L584.7 324.1L584.2 325.7L583.6 323.7L583.1 323.6L582.5 324.6L582 323.1L581.4 323.6L580.9 323L580.3 322.5L579.7 323.1L579.2 322.8L578.6 323L578.1 322.1L577.5 326.1L577 323.6L576.4 327.6L575.9 325.2L575.3 325.1L574.8 322.4L574.2 323.3L573.7 324.5L573.1 325.1L572.6 323.7L572 322.8L571.5 321.8L570.9 325.5L570.4 324.5L569.8 324.5L569.3 323.5L568.7 321.8L568.2 322.2L567.6 326.4L567.1 324.4L566.5 324.7L565.9 322.3L565.4 323.3L564.8 327.4L564.3 323.7L563.7 322.4L563.2 322.6L562.6 325.4L562.1 322.2L561.5 324.6L561 323.4L560.4 326.1L559.9 324.5L559.3 321.4L558.8 324.8L558.2 325.1L557.7 323.3L557.1 323.2L556.6 324.6L556 324.8L555.5 324.3L554.9 323.5L554.4 325.5L553.8 325.4L553.3 326.9L552.7 328.2L552.1 324.1L551.6 324.5L551 324.5L550.5 326.9L549.9 324.9L549.4 323.9L548.8 324.4L548.3 324.4L547.7 324.2L547.2 323L546.6 325.2L546.1 324.2L545.5 326.9L545 323.9L544.4 324.6L543.9 324.5L543.3 324L542.8 325.9L542.2 323.4L541.7 324.1L541.1 324.6L540.6 322.6L540 325.1L539.5 323.6L538.9 326.6L538.3 324.8L537.8 324.9L537.2 326.6L536.7 326.7L536.1 327L535.6 326.8L535 325.2L534.5 324.4L533.9 325.9L533.4 326.2L532.8 325.1L532.3 325.8L531.7 324.9L531.2 327.8L530.6 325.8L530.1 324.4L529.5 325.6L529 328L528.4 326.3L527.9 326.4L527.3 325.6L526.8 325.7L526.2 326.5L525.7 325.1L525.1 324.9L524.5 324.8L524 326.9L523.4 326.5L522.9 328.6L522.3 325.1L521.8 326.8L521.2 325.7L520.7 325.1L520.1 327.1L519.6 328.2L519 330L518.5 324.7L517.9 326L517.4 328.1L516.8 327.9L516.3 325.6L515.7 325.6L515.2 327.2L514.6 326.8L514.1 326.9L513.5 327.9L513 325.5L512.4 329.4L511.9 328.6L511.3 326.5L510.7 329.3L510.2 326.2L509.6 330.1L509.1 328.6L508.5 328.8L508 328.5L507.4 329.9L506.9 326.7L506.3 326.8L505.8 329.8L505.2 329.8L504.7 329L504.1 329.2L503.6 328.1L503 330.5L502.5 331.1L501.9 328.3L501.4 331.2L500.8 330.1L500.3 328.6L499.7 329.6L499.2 331.1L498.6 330.1L498.1 330.1L497.5 331.8L496.9 331.7L496.4 333.1L495.8 330.2L495.3 329.8L494.7 332.8L494.2 332.8L493.6 331.4L493.1 332.1L492.5 332.9L492 331.6L491.4 335.9L490.9 334.3L490.3 333L489.8 332.8L489.2 333.4L488.7 334.9L488.1 336.3L487.6 334.5L487 333.8L486.5 334.8L485.9 335.4L485.4 337L484.8 333.5L484.3 337.5L483.7 338.5L483.1 337.2L482.6 334.7L482 336.2L481.5 336.5L480.9 334.5L480.4 336.7L479.8 335L479.3 336.6L478.7 336.1L478.2 336.4L477.6 336.6L477.1 337.7L476.5 337.7L476 336.6L475.4 338.4L474.9 338.4L474.3 335L473.8 338.3L473.2 338.9L472.7 336.3L472.1 336.4L471.6 339.2L471 336.9L470.5 340.3L469.9 336.7L469.3 336.8L468.8 335L468.2 338.8L467.7 336.2L467.1 335L466.6 337.4L466 339.8L465.5 336.6L464.9 334.6L464.4 335.9L463.8 339L463.3 332.9L462.7 337.6L462.2 336L461.6 336.7L461.1 334.8L460.5 337.7L460 333.9L459.4 334.9L458.9 334.8L458.3 334L457.8 333L457.2 334.3L456.7 333.3L456.1 332.8L455.5 331.6L455 332.4L454.4 330.4L453.9 332L453.3 331.5L452.8 329.1L452.2 327.8L451.7 326.9L451.1 328.3L450.6 326.4L450 329.3L449.5 323.5L448.9 326L448.4 327.5L447.8 325.4L447.3 325.4L446.7 322.1L446.2 328.6L445.6 324.6L445.1 323.3L444.5 322.8L444 322.8L443.4 324.5L442.9 322.2L442.3 322.2L441.7 323.3L441.2 320.4L440.6 322.9L440.1 320.7L439.5 320L439 322.1L438.4 321.8L437.9 322.5L437.3 321.1L436.8 321L436.2 320.6L435.7 319.6L435.1 321.6L434.6 321.2L434 319.6L433.5 318.6L432.9 321.4L432.4 321L431.8 321L431.3 323.1L430.7 321.5L430.2 320.3L429.6 322.9L429.1 323.7L428.5 321.8L427.9 326.9L427.4 321.3L426.8 321.3L426.3 319.4L425.7 321.2L425.2 319.4L424.6 325.9L424.1 323.2L423.5 323.9L423 325.6L422.4 324.1L421.9 327.7L421.3 327L420.8 326.3L420.2 327.5L419.7 328.5L419.1 327.8L418.6 330.2L418 329.1L417.5 332.1L416.9 330.2L416.4 335.5L415.8 332.4L415.3 335.7L414.7 333.2L414.1 333.7L413.6 336L413 335.4L412.5 336.7L411.9 338.8L411.4 339.9L410.8 341L410.3 340.2L409.7 338.6L409.2 341.5L408.6 341.5L408.1 344.1L407.5 343.4L407 343.1L406.4 343.7L405.9 344.9L405.3 344.1L404.8 346.4L404.2 347.8L403.7 346.1L403.1 349.2L402.6 348.3L402 349.8L401.5 349.5L400.9 347.9L400.3 349.8L399.8 349.5L399.2 349.2L398.7 350.4L398.1 347.8L397.6 349.9L397 346.8L396.5 349.5L395.9 350.7L395.4 350.2L394.8 347.9L394.3 348.1L393.7 351.6L393.2 350.3L392.6 349.9L392.1 352.5L391.5 352L391 350.4L390.4 349.5L389.9 352.7L389.3 353.7L388.8 355L388.2 354.2L387.7 355.2L387.1 354.9L386.5 353.7L386 358.5L385.4 362.1L384.9 359.4L384.3 363L383.8 366.4L383.2 366.3L382.7 364.6L382.1 368.2L381.6 368.5L381 370.1L380.5 370.1L379.9 370.6L379.4 370.6L378.8 371.1L378.3 372.1L377.7 372.2L377.2 370.8L376.6 370.2L376.1 370.9L375.5 369.8L375 371.2L374.4 369.5L373.9 375.2L373.3 374.6L372.7 371.4L372.2 374L371.6 372.2L371.1 370.7L370.5 370.3L370 372.5L369.4 371.4L368.9 373.1L368.3 371.1L367.8 372.9L367.2 374.2L366.7 374.1L366.1 373.8L365.6 370L365 371.6L364.5 369L363.9 371.9L363.4 371.6L362.8 371.6L362.3 370.8L361.7 372.9L361.2 372.4L360.6 372.7L360.1 371.9L359.5 370.9Z" fill="#f2b09a" opacity="0.85"/><path d="M359.5 368.2L360.1 367.5L360.6 368.6L361.2 367.8L361.7 367.8L362.3 368.8L362.8 367.6L363.4 368.5L363.9 369.1L364.5 368.1L365 367.8L365.6 367.2L366.1 367.9L366.7 366.8L367.2 366.8L367.8 367L368.3 366.8L368.9 367.3L369.4 367.8L370 367.1L370.5 366.8L371.1 367.2L371.6 367.4L372.2 368.1L372.7 366.8L373.3 366.9L373.9 367.8L374.4 367L375 366.6L375.5 367L376.1 366.4L376.6 366.3L377.2 367.5L377.7 366.8L378.3 366.3L378.8 365.9L379.4 365.6L379.9 367.2L380.5 365.7L381 364.7L381.6 363.5L382.1 362.3L382.7 362.7L383.2 361.2L383.8 360.3L384.3 358L384.9 357.9L385.4 355.3L386 354.2L386.5 353.4L387.1 353.9L387.7 352.2L388.2 350.7L388.8 351.5L389.3 350.5L389.9 350.1L390.4 349.2L391 349.3L391.5 349.1L392.1 349.3L392.6 348.8L393.2 348.7L393.7 348L394.3 348.4L394.8 347.5L395.4 348.9L395.9 347.1L396.5 347.8L397 346.9L397.6 347.3L398.1 346.7L398.7 346.1L399.2 347.1L399.8 346.5L400.3 346.5L400.9 346L401.5 346.7L402 345.6L402.6 345.3L403.1 345.3L403.7 344.5L404.2 344.8L404.8 342.7L405.3 342.7L405.9 341.4L406.4 342.4L407 342L407.5 340.6L408.1 341L408.6 339.3L409.2 339.2L409.7 338.4L410.3 337.4L410.8 336.8L411.4 335.2L411.9 335.2L412.5 335.6L413 333.7L413.6 334.4L414.1 333L414.7 333.1L415.3 332.3L415.8 330.4L416.4 330.8L416.9 330.1L417.5 329.3L418 328.4L418.6 326.6L419.1 327.4L419.7 326.6L420.2 324.9L420.8 325.3L421.3 323.9L421.9 322.4L422.4 322.4L423 322.1L423.5 321.6L424.1 321.3L424.6 320.6L425.2 319.9L425.7 318.9L426.3 318.9L426.8 319.6L427.4 319.5L427.9 318.5L428.5 319.8L429.1 318.9L429.6 318.7L430.2 319L430.7 318.9L431.3 318.1L431.8 319.1L432.4 318.7L432.9 318.5L433.5 318.1L434 319L434.6 317.6L435.1 318.5L435.7 318.6L436.2 318.7L436.8 319L437.3 319.4L437.9 318.3L438.4 319L439 319.4L439.5 319L440.1 320.1L440.6 319.6L441.2 320.1L441.7 320.9L442.3 320.2L442.9 321.7L443.4 320.7L444 321.8L444.5 321.3L445.1 320.9L445.6 321.6L446.2 322.6L446.7 322.6L447.3 323.1L447.8 323.9L448.4 324.3L448.9 324L449.5 324.2L450 325.9L450.6 325.4L451.1 325.6L451.7 326.3L452.2 327.4L452.8 326.7L453.3 328.5L453.9 327.9L454.4 327.9L455 330.4L455.5 329.5L456.1 330L456.7 330.4L457.2 331.4L457.8 331.5L458.3 332.5L458.9 332L459.4 332L460 333L460.5 333.3L461.1 333.3L461.6 333.2L462.2 333.2L462.7 333.5L463.3 333.5L463.8 334.4L464.4 335.3L464.9 333.5L465.5 333.2L466 334.9L466.6 334.6L467.1 334.1L467.7 333.8L468.2 334.1L468.8 333.8L469.3 334.6L469.9 334.5L470.5 334.5L471 335.1L471.6 334.2L472.1 334.6L472.7 334.4L473.2 335.2L473.8 334.4L474.3 335.6L474.9 334.8L475.4 336.5L476 335.5L476.5 334.5L477.1 335.1L477.6 334.7L478.2 335.6L478.7 333.8L479.3 334.2L479.8 334.4L480.4 334L480.9 333.9L481.5 333.2L482 333.7L482.6 334.5L483.1 333.6L483.7 332.6L484.3 332.8L484.8 333.2L485.4 332.4L485.9 332.5L486.5 332.1L487 333.1L487.6 332.5L488.1 331.5L488.7 331.8L489.2 331.3L489.8 330.2L490.3 331.3L490.9 330.9L491.4 331.1L492 331L492.5 330.5L493.1 331L493.6 331.2L494.2 329L494.7 329.6L495.3 328.8L495.8 329.1L496.4 328.9L496.9 328.4L497.5 328.2L498.1 329L498.6 327.5L499.2 328.6L499.7 327.8L500.3 326.3L500.8 327.5L501.4 326.5L501.9 327.5L502.5 326.8L503 327L503.6 326.6L504.1 327.2L504.7 327.1L505.2 326.3L505.8 327.2L506.3 326.7L506.9 325.7L507.4 326.3L508 326.4L508.5 326.4L509.1 325.5L509.6 325.7L510.2 325.3L510.7 325.4L511.3 324.2L511.9 325.4L512.4 326.1L513 324.9L513.5 324.9L514.1 324.7L514.6 325.6L515.2 324L515.7 324.6L516.3 324.6L516.8 325.4L517.4 324.2L517.9 324.4L518.5 323.6L519 324.5L519.6 324.9L520.1 324.1L520.7 324.6L521.2 323.8L521.8 324.6L522.3 324L522.9 324.1L523.4 323.9L524 324.1L524.5 324.2L525.1 323.8L525.7 324L526.2 323.6L526.8 323.8L527.3 324.8L527.9 323.6L528.4 322.7L529 323.3L529.5 323.1L530.1 323.1L530.6 323.6L531.2 324L531.7 322.8L532.3 322.6L532.8 322.9L533.4 322.9L533.9 322.9L534.5 323.1L535 322.9L535.6 323L536.1 322.8L536.7 323.5L537.2 323.3L537.8 322.6L538.3 323L538.9 324.2L539.5 322.7L540 324L540.6 321.7L541.1 322.3L541.7 322.3L542.2 323L542.8 323.2L543.3 322.7L543.9 322.6L544.4 323L545 322.4L545.5 322.1L546.1 322.1L546.6 323L547.2 323.6L547.7 322.4L548.3 322.7L548.8 322.1L549.4 321.4L549.9 321.4L550.5 322.1L551 321.6L551.6 321.3L552.1 322.2L552.7 322L553.3 321.7L553.8 322.1L554.4 322.4L554.9 322.5L555.5 322L556 322.3L556.6 321.6L557.1 322.1L557.7 321.1L558.2 321.3L558.8 322.6L559.3 321.3L559.9 322.1L560.4 321.1L561 321.5L561.5 321.8L562.1 321.4L562.6 322L563.2 321.5L563.7 321.5L564.3 321.7L564.8 321.4L565.4 322.2L565.9 321.3L566.5 322.2L567.1 321.2L567.6 321.3L568.2 321.1L568.7 321.8L569.3 319.8L569.8 321.6L570.4 321.4L570.9 321.9L571.5 320.7L572 321.7L572.6 320.9L573.1 321.9L573.7 321.2L574.2 321.6L574.8 320.9L575.3 321.5L575.9 321.8L576.4 321.1L577 322L577.5 321.8L578.1 320.9L578.6 322.3L579.2 320.9L579.7 321.5L580.3 321.7L580.9 321.1L581.4 320.9L582 321.5L582.5 321.3L583.1 320.8L583.6 320.8L584.2 321.2L584.7 321.6L585.3 321.7L585.8 321.5L586.4 320.8L586.9 320.8L587.5 320.9L588 320.3L588.6 321.2L589.1 321.3L589.7 321.2L590.2 320L590.8 322.1L591.3 320.8L591.9 320.7L592.4 320.9L593 319.7L593.5 320.3L594.1 320.5L594.7 321.4L595.2 320.6L595.8 321.1L596.3 320.8L596.9 320.7L597.4 321.1L598 320.4L598.5 319.9L599.1 320.2L599.6 320.6L600.2 321.7L600.7 320.1L601.3 320.1L601.8 320.7L602.4 320.8L602.9 320.2L603.5 321L604 320.1L604.6 321.1L605.1 320.9L605.7 320.4L606.2 321.2L606.8 320.3L607.3 320L607.9 321L608.5 319.7L609 320.5L609.6 319.8L610.1 319.9L610.7 320.1L611.2 320L611.8 320.5L612.3 319.8L612.9 319.7L613.4 318.2L614 318.4L614.5 319.4L615.1 318.1L615.6 318.1L616.2 318.2L616.7 317.5L617.3 317.1L617.8 317.5L618.4 317.1L618.9 316.6L619.5 316.9L620 316L620.6 315.8L621.1 315.8L621.7 315.6L622.3 314.6L622.8 314L623.4 314L623.9 314.3L624.5 313.1L625 313L625.6 312.4L626.1 311.8L626.7 312.5L627.2 311.8L627.8 311.6L628.3 311.4L628.9 309.4L629.4 309.5L630 310.4L630.5 308.8L631.1 308.7L631.6 307.3L632.2 307.2L632.7 306.8L633.3 306L633.8 305.2L634.4 304.8L634.9 304.3L635.5 303.6" fill="none" stroke="#d75528" stroke-width="1.8"/><path d="M359.5 362.1L360.1 364.3L360.6 362.8L361.2 362.9L361.7 363.4L362.3 361.8L362.8 364.5L363.4 363.2L363.9 363.9L364.5 362L365 363.3L365.6 362.6L366.1 362.1L366.7 364.7L367.2 362L367.8 363.6L368.3 362.9L368.9 362.6L369.4 361.4L370 361.4L370.5 360L371.1 362.1L371.6 362.9L372.2 362.9L372.7 361.3L373.3 360L373.9 361.6L374.4 362.8L375 361.6L375.5 361.5L376.1 361.8L376.6 362.7L377.2 365.1L377.7 362.3L378.3 360.1L378.8 361.2L379.4 364.3L379.9 361.1L380.5 363.1L381 357.2L381.6 358.6L382.1 359.4L382.7 355.4L383.2 356.1L383.8 352.9L384.3 352.1L384.9 352.2L385.4 348.3L386 349.6L386.5 344.8L387.1 347.1L387.7 347.6L388.2 347.9L388.8 342.8L389.3 342.7L389.9 345.9L390.4 341.8L391 343.5L391.5 343.8L392.1 343.4L392.6 343.4L393.2 340.9L393.7 342.5L394.3 345L394.8 339.6L395.4 341L395.9 343.5L396.5 342.4L397 343L397.6 341.5L398.1 340.9L398.7 340.9L399.2 341.9L399.8 341.9L400.3 339.5L400.9 340.5L401.5 337.1L402 340.9L402.6 338.4L403.1 339L403.7 339.7L404.2 336.4L404.8 337.6L405.3 338.4L405.9 337.1L406.4 334.8L407 337.2L407.5 333.1L408.1 333.5L408.6 334.1L409.2 331.3L409.7 330.1L410.3 331L410.8 330.9L411.4 328L411.9 327.8L412.5 330.4L413 328.8L413.6 328.2L414.1 327.8L414.7 328.7L415.3 324.9L415.8 325.3L416.4 324.6L416.9 322.1L417.5 324L418 322.6L418.6 321.4L419.1 321.5L419.7 320.4L420.2 318.4L420.8 318.7L421.3 316.2L421.9 318.3L422.4 316.4L423 318L423.5 315.7L424.1 316L424.6 312.7L425.2 313.2L425.7 313.2L426.3 311.2L426.8 311.6L427.4 312.4L427.9 314.1L428.5 315L429.1 313L429.6 313.3L430.2 313.6L430.7 313L431.3 314.7L431.8 310.5L432.4 314L432.9 313.3L433.5 311.7L434 314.6L434.6 311.3L435.1 311.3L435.7 313.1L436.2 314.2L436.8 313.6L437.3 315.6L437.9 311.4L438.4 313.3L439 314.6L439.5 315L440.1 313.2L440.6 312.2L441.2 316.1L441.7 315.4L442.3 317.2L442.9 314.2L443.4 315.1L444 312.5L444.5 315.9L445.1 316.6L445.6 317.2L446.2 315.3L446.7 319L447.3 316.1L447.8 317.2L448.4 318.6L448.9 319.5L449.5 317.3L450 316.7L450.6 320.3L451.1 319.4L451.7 318.2L452.2 321.9L452.8 321.9L453.3 323.7L453.9 322.7L454.4 323.1L455 324L455.5 324.9L456.1 326.5L456.7 326.6L457.2 326.5L457.8 324.7L458.3 326.6L458.9 327.4L459.4 325.7L460 326.1L460.5 328.1L461.1 328.1L461.6 326.5L462.2 327L462.7 328.8L463.3 327.4L463.8 327.9L464.4 326.5L464.9 329.3L465.5 327L466 327.7L466.6 329.8L467.1 327.1L467.7 327.4L468.2 330.5L468.8 326.1L469.3 330.4L469.9 330.2L470.5 329.4L471 328L471.6 328.3L472.1 329.3L472.7 327.3L473.2 328.7L473.8 327.3L474.3 325.4L474.9 329L475.4 332.8L476 329.8L476.5 330.6L477.1 329L477.6 328.9L478.2 330.6L478.7 330.4L479.3 329.1L479.8 328.9L480.4 332.1L480.9 327L481.5 328.2L482 328.1L482.6 327.5L483.1 329.1L483.7 327.6L484.3 325.9L484.8 325.7L485.4 326.4L485.9 327.2L486.5 327.8L487 324.6L487.6 325.5L488.1 326.7L488.7 328.9L489.2 326.9L489.8 328.2L490.3 323.7L490.9 325L491.4 326.1L492 325.2L492.5 321.1L493.1 322.8L493.6 326.1L494.2 324.2L494.7 325.5L495.3 326L495.8 323.2L496.4 319.8L496.9 320.8L497.5 322.7L498.1 323.1L498.6 322.2L499.2 320.8L499.7 324.2L500.3 324.6L500.8 319.2L501.4 321.3L501.9 319.3L502.5 321.1L503 319.2L503.6 322L504.1 320.3L504.7 318.7L505.2 319.3L505.8 321.2L506.3 319.2L506.9 321.3L507.4 322.2L508 319.4L508.5 318L509.1 318.7L509.6 321.5L510.2 318.4L510.7 318.6L511.3 320.1L511.9 322.9L512.4 317.8L513 317.9L513.5 318.4L514.1 321.5L514.6 321.1L515.2 317.5L515.7 317.7L516.3 318.1L516.8 319.1L517.4 318.1L517.9 319.4L518.5 319L519 319.7L519.6 318.1L520.1 319L520.7 317L521.2 317.3L521.8 319.4L522.3 315.6L522.9 319.8L523.4 317.5L524 316.5L524.5 316.2L525.1 321.1L525.7 316.5L526.2 316.2L526.8 315.8L527.3 321L527.9 318.7L528.4 317.9L529 318.3L529.5 315.7L530.1 318.6L530.6 315.8L531.2 316.7L531.7 319.6L532.3 318.9L532.8 318.1L533.4 317.3L533.9 315.9L534.5 317.6L535 316L535.6 319.5L536.1 321.6L536.7 317.7L537.2 316.5L537.8 317.6L538.3 318.5L538.9 316.5L539.5 314.3L540 317.1L540.6 318L541.1 318.1L541.7 314.1L542.2 316.9L542.8 316L543.3 315.1L543.9 315.3L544.4 318.1L545 315.4L545.5 315.5L546.1 316L546.6 315.2L547.2 317.4L547.7 316.7L548.3 317.3L548.8 315.5L549.4 317.5L549.9 316L550.5 318.1L551 316.6L551.6 317L552.1 316.6L552.7 316.2L553.3 316.6L553.8 316.7L554.4 319.3L554.9 314.7L555.5 317.2L556 316.6L556.6 317.4L557.1 314.8L557.7 317.5L558.2 315.4L558.8 314.5L559.3 313.8L559.9 314.4L560.4 315.2L561 317.8L561.5 314.2L562.1 314.3L562.6 314.8L563.2 314.8L563.7 315.8L564.3 316.6L564.8 314.3L565.4 314.1L565.9 317.3L566.5 314.5L567.1 315.5L567.6 314.5L568.2 315.4L568.7 314.2L569.3 314.3L569.8 314.5L570.4 317.7L570.9 314.5L571.5 315.6L572 317.3L572.6 314.6L573.1 317.6L573.7 314.3L574.2 313.2L574.8 316.3L575.3 314.3L575.9 314.9L576.4 314.6L577 317.5L577.5 314.7L578.1 315.3L578.6 314.5L579.2 315.5L579.7 313.9L580.3 315.1L580.9 314.5L581.4 313.5L582 315.2L582.5 314L583.1 315.1L583.6 314.7L584.2 316.1L584.7 314.3L585.3 313.6L585.8 315.5L586.4 314.2L586.9 314.7L587.5 316.9L588 314.8L588.6 313.4L589.1 316L589.7 317.8L590.2 315L590.8 316.1L591.3 312.6L591.9 315.3L592.4 315.2L593 316.1L593.5 314.8L594.1 315.9L594.7 316.4L595.2 315.2L595.8 316.2L596.3 313.2L596.9 316.7L597.4 315.1L598 316L598.5 316.9L599.1 312.6L599.6 317.9L600.2 312.9L600.7 316.9L601.3 314.7L601.8 311.7L602.4 317.8L602.9 316.7L603.5 312.9L604 314.5L604.6 315.5L605.1 314.7L605.7 316L606.2 314.4L606.8 312.5L607.3 315.1L607.9 314.3L608.5 312.8L609 311.6L609.6 315.1L610.1 313.8L610.7 314.9L611.2 314.8L611.8 314.3L612.3 314.5L612.9 315.9L613.4 316L614 314.1L614.5 312.6L615.1 310.9L615.6 313.1L616.2 312.3L616.7 310.9L617.3 310.5L617.8 311.4L618.4 311L618.9 308.1L619.5 310.8L620 310.8L620.6 312L621.1 308.8L621.7 309.5L622.3 306.1L622.8 309L623.4 307L623.9 306.5L624.5 305.2L625 309L625.6 304.7L626.1 306.5L626.7 306.4L627.2 306.4L627.8 306.2L628.3 305.8L628.9 308.2L629.4 303.9L630 304.2L630.5 305.2L631.1 303.6L631.6 299.9L632.2 302.2L632.7 302.8L633.3 299.5L633.8 302.6L634.4 301.3L634.9 301.4L635.5 300.6L635.5 304L634.9 306.8L634.4 307.2L633.8 308.2L633.3 307.6L632.7 308L632.2 308L631.6 307.5L631.1 306.4L630.5 305.7L630 309.3L629.4 307.8L628.9 309.9L628.3 308.3L627.8 313.1L627.2 310.9L626.7 308.4L626.1 313.4L625.6 312.3L625 311L624.5 313.3L623.9 314.3L623.4 311.5L622.8 313.8L622.3 312.4L621.7 314.2L621.1 315.4L620.6 314.2L620 315.2L619.5 316.4L618.9 316.1L618.4 313.9L617.8 315.9L617.3 317.4L616.7 317.3L616.2 316.1L615.6 315L615.1 315.6L614.5 319.4L614 320.9L613.4 317L612.9 317.6L612.3 319.6L611.8 319.4L611.2 318.5L610.7 318.6L610.1 321.9L609.6 322.5L609 319L608.5 319L607.9 318.2L607.3 319.1L606.8 320.2L606.2 320L605.7 319.8L605.1 320.7L604.6 316.4L604 319.7L603.5 320.2L602.9 316.7L602.4 319.8L601.8 319.7L601.3 318.9L600.7 320.4L600.2 319.6L599.6 320.8L599.1 318.9L598.5 321.8L598 320.5L597.4 316.8L596.9 318.3L596.3 319.4L595.8 319.9L595.2 320.1L594.7 319.8L594.1 320.9L593.5 319.5L593 322L592.4 322.5L591.9 320.6L591.3 320.4L590.8 320.3L590.2 320.7L589.7 320.7L589.1 319.7L588.6 319.9L588 319.4L587.5 319.9L586.9 320.8L586.4 321.6L585.8 321.2L585.3 320.3L584.7 320.8L584.2 322L583.6 320.8L583.1 321.8L582.5 320.2L582 321.6L581.4 320.8L580.9 318.7L580.3 321.7L579.7 321.6L579.2 318L578.6 320.4L578.1 320.8L577.5 318.8L577 320.2L576.4 318.2L575.9 319.8L575.3 318.7L574.8 321L574.2 321.9L573.7 321.8L573.1 322.2L572.6 321.8L572 319.4L571.5 319L570.9 321.1L570.4 323.6L569.8 321.4L569.3 321.5L568.7 321.4L568.2 322.2L567.6 321.9L567.1 318.6L566.5 320.6L565.9 320L565.4 321.4L564.8 320.7L564.3 320.6L563.7 321.7L563.2 322.5L562.6 320L562.1 319.9L561.5 319.3L561 320.9L560.4 320.8L559.9 320L559.3 318.8L558.8 322.2L558.2 322.1L557.7 323.8L557.1 324.3L556.6 321.7L556 322.3L555.5 319.9L554.9 319L554.4 323.2L553.8 319.5L553.3 320.2L552.7 319.3L552.1 322.8L551.6 320.3L551 322.8L550.5 320.5L549.9 321.3L549.4 322.5L548.8 322.1L548.3 323.3L547.7 319.6L547.2 320.8L546.6 322.4L546.1 323.9L545.5 318.8L545 323.7L544.4 322.2L543.9 318.5L543.3 322.2L542.8 321.1L542.2 323.2L541.7 319.8L541.1 322.1L540.6 321.9L540 322L539.5 321.9L538.9 323.8L538.3 324.2L537.8 321.2L537.2 320.3L536.7 322.4L536.1 323.4L535.6 322.5L535 322.6L534.5 321.3L533.9 322.1L533.4 321.8L532.8 324.9L532.3 326.3L531.7 322.9L531.2 324.3L530.6 321.5L530.1 324L529.5 324.6L529 321.3L528.4 322.4L527.9 324.3L527.3 321.8L526.8 323.1L526.2 322.2L525.7 325.6L525.1 324.4L524.5 322.6L524 325.9L523.4 322.3L522.9 323.6L522.3 324L521.8 323.2L521.2 323.4L520.7 324.6L520.1 320.7L519.6 323.3L519 322.9L518.5 324.2L517.9 322.7L517.4 322.9L516.8 324.9L516.3 323.2L515.7 324.3L515.2 324.3L514.6 324.2L514.1 324.4L513.5 325.9L513 326.8L512.4 325.7L511.9 325.4L511.3 324.5L510.7 326.1L510.2 326.4L509.6 325.7L509.1 323.2L508.5 325L508 325.2L507.4 325.9L506.9 322.2L506.3 327.1L505.8 326.4L505.2 326.4L504.7 327L504.1 325.8L503.6 325.2L503 325.9L502.5 324.3L501.9 326.4L501.4 326L500.8 327.4L500.3 327.5L499.7 327.5L499.2 328.3L498.6 328L498.1 326.9L497.5 328.4L496.9 326.1L496.4 331.2L495.8 328.2L495.3 327.9L494.7 327.5L494.2 330.4L493.6 329.2L493.1 329.7L492.5 327.8L492 330.5L491.4 328.7L490.9 330.2L490.3 329.3L489.8 333.1L489.2 327.3L488.7 330.2L488.1 330.7L487.6 331.6L487 329.8L486.5 330.2L485.9 330.9L485.4 331.7L484.8 330.8L484.3 333.5L483.7 332.9L483.1 330.7L482.6 331.5L482 334.6L481.5 334.5L480.9 331.1L480.4 333.5L479.8 336.6L479.3 334.8L478.7 335.4L478.2 333.5L477.6 332L477.1 333.4L476.5 334L476 334.6L475.4 335.7L474.9 335.3L474.3 334.6L473.8 334.4L473.2 331.3L472.7 333.3L472.1 334.8L471.6 332.9L471 333.8L470.5 334.8L469.9 332.2L469.3 332.1L468.8 337.1L468.2 335.9L467.7 334.4L467.1 332.5L466.6 335.6L466 335.4L465.5 334.5L464.9 335L464.4 332.8L463.8 331.9L463.3 332.3L462.7 331.8L462.2 332L461.6 334.2L461.1 330.8L460.5 332.3L460 331.8L459.4 333.4L458.9 331.9L458.3 330.2L457.8 331.3L457.2 331.6L456.7 330.7L456.1 330.2L455.5 330.1L455 326.2L454.4 328.7L453.9 324.8L453.3 329.2L452.8 327.5L452.2 326.6L451.7 324.8L451.1 326L450.6 326.8L450 325.5L449.5 324.5L448.9 322.5L448.4 322.9L447.8 321.5L447.3 323.2L446.7 321.6L446.2 319.5L445.6 322.9L445.1 321.2L444.5 321.3L444 321L443.4 321.1L442.9 321.5L442.3 321L441.7 322.8L441.2 320.9L440.6 319.3L440.1 320.6L439.5 318.6L439 318.9L438.4 319.9L437.9 319L437.3 314.6L436.8 318.1L436.2 316.7L435.7 317.1L435.1 318.8L434.6 318.2L434 319.6L433.5 318.2L432.9 318.8L432.4 317.2L431.8 317.2L431.3 319.4L430.7 317.9L430.2 317.7L429.6 319L429.1 319.5L428.5 317.3L427.9 318.2L427.4 317.8L426.8 316.2L426.3 320.5L425.7 320.4L425.2 320.3L424.6 320.5L424.1 320.6L423.5 320.1L423 320.4L422.4 321.7L421.9 322.4L421.3 323.7L420.8 324L420.2 324L419.7 323.1L419.1 327L418.6 326L418 330.6L417.5 329.5L416.9 330.3L416.4 328.4L415.8 331.3L415.3 330.8L414.7 330L414.1 332.1L413.6 334.9L413 333L412.5 334.4L411.9 336L411.4 335.4L410.8 337.2L410.3 336.4L409.7 339.9L409.2 337.7L408.6 336.9L408.1 340.9L407.5 336.8L407 339.6L406.4 340.6L405.9 342.1L405.3 343.4L404.8 342.9L404.2 343.8L403.7 342.2L403.1 345.6L402.6 344.9L402 344.6L401.5 345.2L400.9 350.1L400.3 344.3L399.8 344.3L399.2 347.7L398.7 347L398.1 347.9L397.6 346.5L397 346.6L396.5 349.9L395.9 346.3L395.4 346.2L394.8 346.7L394.3 347.8L393.7 348.1L393.2 346.3L392.6 348.9L392.1 346.8L391.5 348.8L391 349.8L390.4 350.4L389.9 348.7L389.3 349.6L388.8 349.7L388.2 349.8L387.7 351.2L387.1 353.1L386.5 354.6L386 356.5L385.4 356.7L384.9 359.3L384.3 360.1L383.8 364.2L383.2 363.8L382.7 365.5L382.1 370L381.6 366.6L381 369.1L380.5 369.5L379.9 371.9L379.4 370.9L378.8 371.8L378.3 371.6L377.7 370.8L377.2 373.4L376.6 371.2L376.1 369.9L375.5 371.9L375 371.9L374.4 374.3L373.9 370.8L373.3 370.4L372.7 371.2L372.2 372.2L371.6 371L371.1 372.2L370.5 373L370 369.8L369.4 370.8L368.9 371.3L368.3 370.9L367.8 370.5L367.2 370.3L366.7 369.9L366.1 371L365.6 371.9L365 369.9L364.5 371.4L363.9 370.3L363.4 370.3L362.8 371.3L362.3 370.8L361.7 371.5L361.2 371.2L360.6 370.4L360.1 372.2L359.5 372.4Z" fill="#c9a2d3" opacity="0.85"/><path d="M359.5 367.2L360.1 365.3L360.6 365.8L361.2 366.6L361.7 366.7L362.3 366.5L362.8 367.3L363.4 365.9L363.9 367.2L364.5 367.1L365 365.8L365.6 368.1L366.1 366.7L366.7 367.9L367.2 367.3L367.8 366.9L368.3 367L368.9 366.7L369.4 367.2L370 366.8L370.5 367.3L371.1 366.8L371.6 367.4L372.2 366.2L372.7 367.2L373.3 366L373.9 366.6L374.4 366.5L375 365.6L375.5 366.1L376.1 367.2L376.6 365.8L377.2 367.6L377.7 365.7L378.3 366L378.8 366.5L379.4 365.6L379.9 365.6L380.5 363.8L381 364.4L381.6 362.1L382.1 361.3L382.7 361.1L383.2 359.8L383.8 357.2L384.3 356.5L384.9 354.9L385.4 353.7L386 352.8L386.5 351.1L387.1 350.3L387.7 349.7L388.2 348.2L388.8 346.5L389.3 346.3L389.9 346.9L390.4 346.5L391 346L391.5 345.3L392.1 345.6L392.6 345.9L393.2 345.7L393.7 344.6L394.3 343.6L394.8 345.3L395.4 346L395.9 344.2L396.5 344.5L397 344.3L397.6 343.5L398.1 344L398.7 344.6L399.2 344.8L399.8 343.5L400.3 343.9L400.9 342.8L401.5 343.4L402 342.6L402.6 342.9L403.1 341.9L403.7 341.5L404.2 340.5L404.8 339.6L405.3 339.9L405.9 339.8L406.4 337.6L407 338L407.5 337.2L408.1 336.6L408.6 335.5L409.2 335.1L409.7 334.6L410.3 333.9L410.8 334.2L411.4 333.4L411.9 332.5L412.5 331.7L413 331.1L413.6 330.3L414.1 329.9L414.7 329.5L415.3 329.6L415.8 327.5L416.4 327L416.9 327.1L417.5 325.6L418 324.9L418.6 324.3L419.1 324.6L419.7 323.5L420.2 322.4L420.8 320.4L421.3 321.1L421.9 320.1L422.4 319.9L423 318.9L423.5 317.9L424.1 318.8L424.6 318.8L425.2 316.4L425.7 316.5L426.3 316.6L426.8 315.6L427.4 315.4L427.9 317L428.5 315.7L429.1 314.9L429.6 315.8L430.2 315.4L430.7 314.6L431.3 315.3L431.8 315.7L432.4 315.4L432.9 315.8L433.5 314.7L434 316L434.6 314.5L435.1 316.1L435.7 315.2L436.2 316.2L436.8 315.7L437.3 315.1L437.9 315.2L438.4 315.2L439 316.2L439.5 316.3L440.1 316.4L440.6 316.4L441.2 317.2L441.7 316.6L442.3 317.2L442.9 317L443.4 317.6L444 317.7L444.5 318.8L445.1 318.8L445.6 319.5L446.2 319.2L446.7 319.5L447.3 319.3L447.8 320.8L448.4 318.6L448.9 321L449.5 320.6L450 321.2L450.6 323.7L451.1 322.9L451.7 322.3L452.2 325L452.8 323.7L453.3 325.2L453.9 325.4L454.4 325.5L455 327.1L455.5 326.4L456.1 327.3L456.7 327.8L457.2 327.4L457.8 326.2L458.3 328.3L458.9 328.5L459.4 329.2L460 329.8L460.5 329.5L461.1 329L461.6 329.9L462.2 329.6L462.7 330.4L463.3 328.9L463.8 331.4L464.4 330.2L464.9 330.4L465.5 330.6L466 331.5L466.6 331.7L467.1 331.2L467.7 331.1L468.2 332L468.8 332L469.3 331.1L469.9 330.9L470.5 331.9L471 332L471.6 332.1L472.1 330.3L472.7 331.5L473.2 331.8L473.8 331.2L474.3 330.5L474.9 331.2L475.4 332.6L476 331.9L476.5 332L477.1 331.9L477.6 332.3L478.2 331.8L478.7 332.1L479.3 331.1L479.8 331.2L480.4 331.9L480.9 331.9L481.5 331.1L482 330.3L482.6 330.2L483.1 330.4L483.7 332L484.3 330.2L484.8 330.2L485.4 329.8L485.9 330.1L486.5 329.5L487 329.4L487.6 327.3L488.1 328.3L488.7 328.6L489.2 328.4L489.8 328.2L490.3 327.9L490.9 328.1L491.4 327.6L492 326.9L492.5 326.8L493.1 326.9L493.6 326.1L494.2 326.5L494.7 327L495.3 327.2L495.8 326.4L496.4 325.8L496.9 325.4L497.5 324.8L498.1 325.5L498.6 325.5L499.2 324.4L499.7 324L500.3 324.8L500.8 324.2L501.4 323.5L501.9 323.9L502.5 324L503 325L503.6 323L504.1 323.2L504.7 323.4L505.2 323.6L505.8 323.9L506.3 323.1L506.9 323L507.4 322.2L508 323.4L508.5 321.7L509.1 322.4L509.6 321.7L510.2 322.8L510.7 321.9L511.3 321.3L511.9 321.9L512.4 322.7L513 322L513.5 321.4L514.1 322.4L514.6 322.4L515.2 321.3L515.7 322L516.3 321L516.8 322L517.4 322.3L517.9 321.6L518.5 320.3L519 321.6L519.6 321L520.1 320.9L520.7 321.5L521.2 320.3L521.8 320.7L522.3 320.5L522.9 321.7L523.4 321.7L524 322.2L524.5 320.7L525.1 320.7L525.7 320.1L526.2 319.6L526.8 320.6L527.3 320.6L527.9 320.1L528.4 319.4L529 320.7L529.5 319.9L530.1 320.3L530.6 320.4L531.2 319.7L531.7 320.5L532.3 320.7L532.8 319.6L533.4 320L533.9 320.1L534.5 320L535 319.6L535.6 320.1L536.1 319.4L536.7 319.5L537.2 318.9L537.8 319L538.3 319.2L538.9 319.8L539.5 319.6L540 319.9L540.6 317.9L541.1 319.7L541.7 319.2L542.2 318.7L542.8 320.2L543.3 319.9L543.9 319.6L544.4 319.9L545 320.1L545.5 319.6L546.1 318.5L546.6 318.8L547.2 319.2L547.7 319.2L548.3 320.1L548.8 318.8L549.4 318.9L549.9 319.7L550.5 319L551 319.2L551.6 319.3L552.1 319.6L552.7 319.4L553.3 319.5L553.8 318.7L554.4 318.7L554.9 318.7L555.5 319L556 319.1L556.6 317.6L557.1 319.9L557.7 318.1L558.2 318.5L558.8 318.7L559.3 319L559.9 318.8L560.4 319.3L561 319.4L561.5 318.7L562.1 319.5L562.6 318.1L563.2 317.9L563.7 320.5L564.3 319.4L564.8 318.3L565.4 318.3L565.9 318.4L566.5 318.2L567.1 318L567.6 317.9L568.2 317.3L568.7 318.3L569.3 317.8L569.8 319.2L570.4 318.4L570.9 319L571.5 317.5L572 316.9L572.6 317.9L573.1 319L573.7 318.3L574.2 318.2L574.8 318.1L575.3 317.6L575.9 317.6L576.4 319.7L577 317.4L577.5 318.4L578.1 318.4L578.6 317.3L579.2 318.3L579.7 318.9L580.3 318.8L580.9 318L581.4 317.5L582 317.2L582.5 318.1L583.1 318.3L583.6 317.1L584.2 318.3L584.7 317.2L585.3 317.9L585.8 317.8L586.4 318.1L586.9 317.8L587.5 318.2L588 318.3L588.6 318L589.1 318.3L589.7 317.7L590.2 317.8L590.8 318L591.3 318L591.9 318L592.4 316.8L593 317.8L593.5 318.1L594.1 317.9L594.7 317.4L595.2 317.9L595.8 317.8L596.3 317.8L596.9 317.6L597.4 317.4L598 317.4L598.5 318.6L599.1 318.2L599.6 319.1L600.2 317.1L600.7 316.9L601.3 316.8L601.8 317.4L602.4 316.8L602.9 317.4L603.5 317.5L604 318.2L604.6 317.8L605.1 317.6L605.7 316.7L606.2 316.3L606.8 317.5L607.3 317L607.9 317L608.5 317.5L609 318L609.6 317.4L610.1 317.7L610.7 316.9L611.2 316.7L611.8 316.5L612.3 316.4L612.9 315.8L613.4 316.4L614 315.2L614.5 316.4L615.1 315.2L615.6 314.7L616.2 315.2L616.7 315.4L617.3 313.8L617.8 314.3L618.4 313.2L618.9 312.9L619.5 313L620 312.7L620.6 311.8L621.1 311.9L621.7 312.3L622.3 311.3L622.8 310.8L623.4 310.7L623.9 310.4L624.5 310.2L625 309.9L625.6 310L626.1 310L626.7 308.2L627.2 308.9L627.8 308.1L628.3 308.8L628.9 307.5L629.4 307.7L630 305.2L630.5 307.1L631.1 306.7L631.6 305.2L632.2 304.7L632.7 306.1L633.3 304.4L633.8 303.6L634.4 304.4L634.9 302.9L635.5 303.2" fill="none" stroke="#7e2d8e" stroke-width="1.8"/><path d="M359.5 361.4L360.1 360.5L360.6 360.6L361.2 361.9L361.7 356.8L362.3 360.6L362.8 360.9L363.4 358.6L363.9 359.9L364.5 357.9L365 360.1L365.6 359.2L366.1 359.5L366.7 359.3L367.2 359.7L367.8 359.5L368.3 356.9L368.9 360.2L369.4 359.9L370 359.5L370.5 358.1L371.1 358.2L371.6 357.3L372.2 360.4L372.7 358L373.3 358.5L373.9 358.5L374.4 357.8L375 360.6L375.5 357.3L376.1 357.3L376.6 359.4L377.2 357.3L377.7 354.8L378.3 357.3L378.8 355.8L379.4 356.7L379.9 357.2L380.5 356.7L381 355.1L381.6 351.5L382.1 350.9L382.7 351.7L383.2 347.7L383.8 347.7L384.3 346.8L384.9 343.6L385.4 343.9L386 343.3L386.5 337.8L387.1 342.6L387.7 338.2L388.2 340.2L388.8 337.5L389.3 337.2L389.9 337.1L390.4 339.2L391 335.9L391.5 335.5L392.1 336.4L392.6 334.9L393.2 333.1L393.7 335.3L394.3 333.7L394.8 335.4L395.4 333L395.9 332.5L396.5 329.6L397 331.6L397.6 332.1L398.1 330.5L398.7 333.6L399.2 330.4L399.8 332.4L400.3 332.2L400.9 329.5L401.5 330.3L402 328.4L402.6 331.9L403.1 329L403.7 329.6L404.2 328.7L404.8 330.5L405.3 325.9L405.9 326.3L406.4 327.3L407 327.2L407.5 325.9L408.1 322L408.6 323.4L409.2 323L409.7 321.2L410.3 321.2L410.8 320.2L411.4 318.8L411.9 318.7L412.5 317.2L413 319.5L413.6 317.1L414.1 317.1L414.7 315.8L415.3 315.5L415.8 315.7L416.4 314.7L416.9 312.3L417.5 313.8L418 314.2L418.6 311L419.1 309.8L419.7 311L420.2 309.9L420.8 310.7L421.3 309.2L421.9 306.9L422.4 306.8L423 307.3L423.5 307.4L424.1 308.9L424.6 305.9L425.2 305.4L425.7 304.2L426.3 302.6L426.8 304.6L427.4 303.5L427.9 306.1L428.5 302.6L429.1 302.8L429.6 301.9L430.2 302.7L430.7 302.8L431.3 301.3L431.8 304.1L432.4 302.3L432.9 301.6L433.5 304.2L434 304.8L434.6 302.7L435.1 303.2L435.7 302.7L436.2 302.8L436.8 304.9L437.3 303.5L437.9 302.6L438.4 304.9L439 305L439.5 306.4L440.1 303.9L440.6 302.5L441.2 307.4L441.7 304.7L442.3 304.8L442.9 307.1L443.4 307.2L444 308.5L444.5 308.5L445.1 307.5L445.6 307.2L446.2 308.4L446.7 307.8L447.3 309.1L447.8 311.5L448.4 308.2L448.9 309L449.5 312.1L450 309.1L450.6 311.3L451.1 312.2L451.7 310.1L452.2 316.7L452.8 316L453.3 313.3L453.9 315.1L454.4 316.6L455 313.7L455.5 315.7L456.1 318.7L456.7 318.3L457.2 316.7L457.8 315.9L458.3 321.7L458.9 319L459.4 320.2L460 322.5L460.5 320.7L461.1 322.9L461.6 321.7L462.2 318.9L462.7 320.6L463.3 320.5L463.8 320.9L464.4 321.4L464.9 320.8L465.5 323.9L466 323L466.6 321.5L467.1 323.8L467.7 323.6L468.2 321.5L468.8 321.2L469.3 324.3L469.9 324.7L470.5 322.9L471 323.4L471.6 324.9L472.1 323.2L472.7 323.3L473.2 324.1L473.8 320.2L474.3 322.4L474.9 323.3L475.4 323L476 320.3L476.5 322.9L477.1 325.5L477.6 324L478.2 324.3L478.7 325.2L479.3 323.9L479.8 323.8L480.4 324.1L480.9 324.6L481.5 322.6L482 325.8L482.6 322.2L483.1 323.1L483.7 322.5L484.3 326L484.8 320.1L485.4 324.6L485.9 323.2L486.5 320.9L487 322.4L487.6 321.9L488.1 324.2L488.7 321.4L489.2 320.3L489.8 319.5L490.3 320.6L490.9 319.7L491.4 319.2L492 320.5L492.5 320.4L493.1 316.4L493.6 320.1L494.2 316.9L494.7 318.3L495.3 316.1L495.8 318.9L496.4 317L496.9 317.1L497.5 317.6L498.1 316.7L498.6 318L499.2 316.9L499.7 317.2L500.3 315.4L500.8 316.5L501.4 318.1L501.9 316.6L502.5 316.1L503 317L503.6 313.8L504.1 314.9L504.7 314.2L505.2 316.3L505.8 315.7L506.3 313.6L506.9 316.9L507.4 314.3L508 314.5L508.5 315.2L509.1 314.3L509.6 315.9L510.2 313.9L510.7 315.9L511.3 315.9L511.9 312L512.4 314.9L513 316.8L513.5 312.4L514.1 314.8L514.6 318.6L515.2 313.7L515.7 312.3L516.3 313.1L516.8 311.2L517.4 313.7L517.9 312.7L518.5 314.9L519 313.3L519.6 311.3L520.1 312.7L520.7 313.2L521.2 316.2L521.8 313.9L522.3 315.2L522.9 312.3L523.4 314.4L524 312.8L524.5 314.7L525.1 310.7L525.7 314.9L526.2 313.1L526.8 309.6L527.3 313L527.9 314.5L528.4 312.4L529 311.8L529.5 312L530.1 316L530.6 312.9L531.2 316.2L531.7 310.5L532.3 313.1L532.8 313.8L533.4 312.2L533.9 312.4L534.5 314.8L535 310.8L535.6 313.4L536.1 315.5L536.7 311.1L537.2 310.9L537.8 311.2L538.3 312.2L538.9 314.2L539.5 311.6L540 310.3L540.6 311.8L541.1 310.7L541.7 314L542.2 311.5L542.8 311.6L543.3 315L543.9 315.1L544.4 313.9L545 312.7L545.5 312.2L546.1 313.1L546.6 312.9L547.2 312.9L547.7 312.6L548.3 311.9L548.8 312L549.4 312.8L549.9 312.3L550.5 313.3L551 311.5L551.6 313.4L552.1 310.3L552.7 312.7L553.3 312.2L553.8 313.7L554.4 313.1L554.9 312.3L555.5 312.5L556 313.4L556.6 314.2L557.1 312.4L557.7 312.3L558.2 311.7L558.8 310.7L559.3 312.9L559.9 315.2L560.4 312.6L561 315L561.5 314.2L562.1 310.9L562.6 311.5L563.2 313.2L563.7 313.2L564.3 312.4L564.8 314.8L565.4 311.6L565.9 312.7L566.5 309.6L567.1 313.7L567.6 310.8L568.2 313.1L568.7 310.7L569.3 313.5L569.8 311.1L570.4 312.7L570.9 313.2L571.5 312.3L572 311.4L572.6 311.5L573.1 309.8L573.7 310.8L574.2 315.7L574.8 312.5L575.3 314.8L575.9 312.5L576.4 311L577 313.8L577.5 313.6L578.1 311.7L578.6 312.3L579.2 309.6L579.7 311.4L580.3 311L580.9 309.3L581.4 312.5L582 311.7L582.5 313.1L583.1 311.3L583.6 310.2L584.2 309.7L584.7 311.7L585.3 312.6L585.8 312.7L586.4 313.6L586.9 311.4L587.5 309.6L588 314.9L588.6 314.6L589.1 309.5L589.7 313.7L590.2 310.9L590.8 313.2L591.3 310.2L591.9 310.2L592.4 311.1L593 310.1L593.5 311.2L594.1 310.4L594.7 308.6L595.2 309.6L595.8 312.1L596.3 312.2L596.9 311.4L597.4 311.3L598 310.9L598.5 311.8L599.1 310L599.6 310.8L600.2 310.3L600.7 310.8L601.3 309.9L601.8 312.4L602.4 308.4L602.9 310.1L603.5 309.9L604 309.6L604.6 308.9L605.1 309.4L605.7 310L606.2 310.6L606.8 312.6L607.3 309.9L607.9 310.6L608.5 310.5L609 306.6L609.6 312.6L610.1 309.7L610.7 307.9L611.2 308.1L611.8 307.5L612.3 310.9L612.9 310.2L613.4 307.7L614 308.8L614.5 305.6L615.1 307.5L615.6 307.2L616.2 306.6L616.7 307.3L617.3 306.4L617.8 307.2L618.4 305.9L618.9 306.2L619.5 304.8L620 306.8L620.6 306.6L621.1 303.4L621.7 303.4L622.3 304.7L622.8 303.3L623.4 304.1L623.9 299.4L624.5 304.1L625 299.1L625.6 302.4L626.1 300.2L626.7 300.9L627.2 300.7L627.8 298.5L628.3 298.3L628.9 299.5L629.4 300.1L630 295.4L630.5 296L631.1 297.4L631.6 297.7L632.2 296.4L632.7 296.3L633.3 294.4L633.8 297L634.4 295.2L634.9 296L635.5 292.6L635.5 298.2L634.9 301.1L634.4 300.9L633.8 300.4L633.3 301.7L632.7 302.9L632.2 303.3L631.6 299.7L631.1 301.8L630.5 302.9L630 303L629.4 302.5L628.9 305.7L628.3 307.7L627.8 304.3L627.2 304.8L626.7 307.3L626.1 304.5L625.6 306.5L625 307.9L624.5 307.9L623.9 307.7L623.4 307L622.8 310L622.3 307.5L621.7 308.2L621.1 311.1L620.6 310.2L620 309.8L619.5 307.3L618.9 310.9L618.4 312L617.8 310.6L617.3 312L616.7 312L616.2 313.2L615.6 311.5L615.1 312.7L614.5 316.8L614 315.2L613.4 314L612.9 315.5L612.3 313.9L611.8 314.9L611.2 312.9L610.7 315.4L610.1 314.1L609.6 315.4L609 317.8L608.5 316L607.9 314.7L607.3 315.7L606.8 316.6L606.2 316.8L605.7 316.4L605.1 314.5L604.6 316.4L604 317.6L603.5 315.1L602.9 315L602.4 317.2L601.8 316.8L601.3 317.5L600.7 317.4L600.2 316L599.6 314L599.1 315.5L598.5 315.4L598 317.2L597.4 317.6L596.9 314.9L596.3 316.6L595.8 317.7L595.2 319.6L594.7 315.4L594.1 316.4L593.5 315.4L593 314L592.4 318.3L591.9 316.9L591.3 315.7L590.8 319L590.2 317.3L589.7 316.3L589.1 314.7L588.6 318.1L588 318.6L587.5 314L586.9 314.6L586.4 315.4L585.8 316.5L585.3 317.2L584.7 316.7L584.2 316.6L583.6 316.9L583.1 313.6L582.5 313.6L582 314.2L581.4 316.9L580.9 317.8L580.3 317.9L579.7 317.6L579.2 318.2L578.6 318.2L578.1 316.2L577.5 316.2L577 314.9L576.4 319.4L575.9 314.1L575.3 318.4L574.8 315.7L574.2 318.2L573.7 317.6L573.1 317.2L572.6 318.7L572 315.9L571.5 316.8L570.9 319.2L570.4 319.4L569.8 315.9L569.3 313.8L568.7 317.7L568.2 314.7L567.6 317.6L567.1 316.7L566.5 317.7L565.9 320L565.4 314.3L564.8 318.1L564.3 319.7L563.7 316.1L563.2 318.3L562.6 316.7L562.1 316.6L561.5 316.1L561 318L560.4 318.3L559.9 318.7L559.3 314.3L558.8 317.7L558.2 317.4L557.7 315.3L557.1 318.7L556.6 318.7L556 313.7L555.5 317.4L554.9 320.5L554.4 319.3L553.8 317L553.3 317.9L552.7 316.2L552.1 320.7L551.6 317.9L551 317.6L550.5 318.6L549.9 318.2L549.4 319.6L548.8 318.2L548.3 319.4L547.7 318.5L547.2 320.2L546.6 320.1L546.1 318.3L545.5 316.9L545 316.2L544.4 316.6L543.9 318.2L543.3 318.2L542.8 317.5L542.2 318.1L541.7 318.3L541.1 317.3L540.6 318.7L540 318.8L539.5 316.6L538.9 320L538.3 315.2L537.8 316.8L537.2 316.5L536.7 317.9L536.1 317.5L535.6 319.8L535 318.3L534.5 323.5L533.9 317L533.4 322.2L532.8 319.6L532.3 315.6L531.7 318.6L531.2 322.1L530.6 318L530.1 318.2L529.5 317.4L529 319.6L528.4 318.8L527.9 318.2L527.3 319.2L526.8 321.2L526.2 317.3L525.7 318L525.1 314.8L524.5 318L524 316.3L523.4 318.2L522.9 318.2L522.3 318.2L521.8 319.9L521.2 316.1L520.7 317.4L520.1 319.1L519.6 320.5L519 319.4L518.5 319.7L517.9 318.7L517.4 318.3L516.8 319.8L516.3 319.2L515.7 318.1L515.2 318L514.6 320.9L514.1 320.9L513.5 318.8L513 320L512.4 316.8L511.9 320L511.3 320.3L510.7 318.9L510.2 321.2L509.6 321.2L509.1 322.9L508.5 318.6L508 320.2L507.4 322.7L506.9 317.5L506.3 316L505.8 321.6L505.2 318.8L504.7 321.5L504.1 319.8L503.6 321.5L503 320.4L502.5 322.9L501.9 321.1L501.4 320.1L500.8 318.1L500.3 324.9L499.7 323.4L499.2 321.2L498.6 324.3L498.1 321L497.5 323L496.9 322L496.4 323.7L495.8 322.6L495.3 322.3L494.7 323.4L494.2 322.2L493.6 325.5L493.1 322.6L492.5 324.8L492 323.4L491.4 326.3L490.9 326.3L490.3 328.7L489.8 327.7L489.2 327.6L488.7 325.4L488.1 326.7L487.6 323.4L487 327.2L486.5 327.9L485.9 328.7L485.4 328.7L484.8 326.4L484.3 325.9L483.7 325.1L483.1 328.6L482.6 328.7L482 327L481.5 331.5L480.9 328.1L480.4 329.5L479.8 329.9L479.3 327.1L478.7 331.6L478.2 329.6L477.6 329.9L477.1 330.3L476.5 327.8L476 331L475.4 332L474.9 333L474.3 329.6L473.8 328.8L473.2 330.3L472.7 327.6L472.1 330.6L471.6 327.5L471 327.7L470.5 330L469.9 330.2L469.3 328.5L468.8 326.5L468.2 330.2L467.7 327.2L467.1 329.9L466.6 327.6L466 327.2L465.5 326.3L464.9 328.4L464.4 326.5L463.8 328.5L463.3 327L462.7 325.7L462.2 326.8L461.6 325.6L461.1 326.7L460.5 325.4L460 325.7L459.4 324.9L458.9 324.7L458.3 322.1L457.8 324.6L457.2 326.2L456.7 324L456.1 320.2L455.5 322.8L455 321.4L454.4 322.1L453.9 318.3L453.3 319.6L452.8 319.4L452.2 318L451.7 318.2L451.1 319.1L450.6 318.4L450 315.9L449.5 316.6L448.9 314.1L448.4 314.6L447.8 313.3L447.3 315.4L446.7 313.7L446.2 311.2L445.6 315.5L445.1 312.6L444.5 311.8L444 313.4L443.4 311.7L442.9 310.9L442.3 311.2L441.7 308.6L441.2 311.7L440.6 312.2L440.1 309.4L439.5 307.9L439 312.5L438.4 308.1L437.9 307.5L437.3 308.1L436.8 309.6L436.2 305.9L435.7 309.5L435.1 310.8L434.6 308.9L434 311.5L433.5 308.5L432.9 307.4L432.4 306.9L431.8 307.9L431.3 309.6L430.7 307.7L430.2 308.2L429.6 308.7L429.1 308.2L428.5 309.9L427.9 309.2L427.4 308.3L426.8 311.3L426.3 313L425.7 311.8L425.2 312L424.6 312L424.1 312.4L423.5 314.1L423 313.2L422.4 311.4L421.9 310.5L421.3 316.3L420.8 315.5L420.2 313.6L419.7 315.4L419.1 313.8L418.6 315.6L418 317.1L417.5 319.6L416.9 318.9L416.4 320.1L415.8 319.3L415.3 322.6L414.7 319.7L414.1 322.5L413.6 322.4L413 324.1L412.5 323.4L411.9 323.1L411.4 325.9L410.8 325.5L410.3 327.4L409.7 328L409.2 329.6L408.6 329.8L408.1 330.3L407.5 330L407 331.6L406.4 329.8L405.9 332.5L405.3 331.8L404.8 332.1L404.2 333.3L403.7 333L403.1 334.9L402.6 335.4L402 335.3L401.5 337.3L400.9 338.9L400.3 335.9L399.8 335.6L399.2 338.7L398.7 340L398.1 337.2L397.6 340.4L397 337.2L396.5 339.6L395.9 340.1L395.4 341.5L394.8 337.3L394.3 340.1L393.7 339.3L393.2 339.4L392.6 338.2L392.1 338.5L391.5 340.2L391 339.8L390.4 339.7L389.9 342.3L389.3 345.2L388.8 344.3L388.2 341.5L387.7 345.7L387.1 345.3L386.5 346.1L386 349L385.4 349.7L384.9 352.9L384.3 357.2L383.8 355.4L383.2 358.2L382.7 360.3L382.1 361L381.6 363.5L381 364.7L380.5 364.2L379.9 362.4L379.4 362.9L378.8 367.2L378.3 367L377.7 363L377.2 363.6L376.6 364.1L376.1 367.7L375.5 366.4L375 365.5L374.4 365.7L373.9 365.6L373.3 365.6L372.7 365.5L372.2 370.6L371.6 369.3L371.1 367L370.5 367.7L370 365.6L369.4 368.1L368.9 368.5L368.3 367.6L367.8 368L367.2 370.8L366.7 368.1L366.1 368.7L365.6 365.8L365 368.7L364.5 370.5L363.9 368.2L363.4 369.2L362.8 370L362.3 367.2L361.7 368.2L361.2 370.6L360.6 369.4L360.1 368.5L359.5 371.2Z" fill="#c5e0b0" opacity="0.85"/><path d="M359.5 364.4L360.1 364.5L360.6 363.8L361.2 364L361.7 364.9L362.3 364.5L362.8 363.1L363.4 364.6L363.9 363.9L364.5 364.4L365 363.2L365.6 363.9L366.1 364.1L366.7 364.4L367.2 363.8L367.8 363.1L368.3 363.1L368.9 364.2L369.4 362.4L370 363.4L370.5 363.8L371.1 362.9L371.6 363.3L372.2 363.1L372.7 363L373.3 362.6L373.9 362.7L374.4 363.2L375 361.8L375.5 362.2L376.1 361L376.6 361.3L377.2 361L377.7 361.1L378.3 360.3L378.8 361L379.4 361.2L379.9 360.1L380.5 361.2L381 358.9L381.6 357.5L382.1 356.6L382.7 354.1L383.2 352.9L383.8 351.7L384.3 350.3L384.9 347.8L385.4 347.2L386 345.5L386.5 343.4L387.1 342.2L387.7 340.3L388.2 340.7L388.8 341.1L389.3 339.1L389.9 338.3L390.4 338.7L391 337.3L391.5 336.9L392.1 338L392.6 337.6L393.2 337.8L393.7 336.5L394.3 336.1L394.8 336L395.4 336.8L395.9 336.3L396.5 336.5L397 336.4L397.6 336L398.1 335.9L398.7 334.8L399.2 334.2L399.8 333.8L400.3 333.9L400.9 334L401.5 333.2L402 332.5L402.6 332.6L403.1 331.9L403.7 331.6L404.2 331.2L404.8 330.3L405.3 330.4L405.9 328.5L406.4 329.4L407 327.6L407.5 328L408.1 325.6L408.6 325.3L409.2 325.6L409.7 324.7L410.3 324.4L410.8 323.1L411.4 322.1L411.9 320.2L412.5 321.8L413 319.6L413.6 320.1L414.1 319L414.7 318L415.3 317.7L415.8 317.1L416.4 316.9L416.9 316.2L417.5 315.5L418 314.3L418.6 315.2L419.1 314.1L419.7 313.9L420.2 313.2L420.8 312.5L421.3 310.9L421.9 309.7L422.4 309.7L423 310.7L423.5 309.6L424.1 309.9L424.6 308.6L425.2 307.8L425.7 307.9L426.3 307.5L426.8 307.8L427.4 308.6L427.9 308.3L428.5 306.9L429.1 306.3L429.6 305.7L430.2 306.4L430.7 306L431.3 305.7L431.8 305.2L432.4 305.8L432.9 306.3L433.5 305.1L434 305.5L434.6 305.6L435.1 306.7L435.7 306.1L436.2 307.2L436.8 307.6L437.3 306.7L437.9 307L438.4 306.7L439 306.4L439.5 307.4L440.1 306.6L440.6 308.2L441.2 307.6L441.7 309.1L442.3 308.5L442.9 309.1L443.4 309.4L444 309.3L444.5 311.1L445.1 310.3L445.6 311.2L446.2 311.1L446.7 311.3L447.3 312.2L447.8 312.6L448.4 313.5L448.9 313L449.5 314.1L450 313.9L450.6 315.4L451.1 314.2L451.7 316L452.2 315.2L452.8 316.6L453.3 316.5L453.9 317.4L454.4 317.5L455 318.4L455.5 318.2L456.1 319.1L456.7 319.6L457.2 319.5L457.8 321.4L458.3 320.7L458.9 321.9L459.4 323.2L460 322.4L460.5 323.1L461.1 322.3L461.6 323.8L462.2 323.7L462.7 323.8L463.3 325.3L463.8 324L464.4 325.1L464.9 323.9L465.5 323.9L466 325.1L466.6 326.2L467.1 325.3L467.7 325.5L468.2 325.3L468.8 326.1L469.3 326.7L469.9 326.3L470.5 326.9L471 325.4L471.6 327L472.1 327L472.7 326.8L473.2 327.5L473.8 327.2L474.3 327L474.9 327.3L475.4 327.2L476 326.4L476.5 326.8L477.1 327.9L477.6 327.3L478.2 326.6L478.7 327.4L479.3 326.9L479.8 326.8L480.4 326.3L480.9 326.6L481.5 326.4L482 326.7L482.6 325.8L483.1 326.3L483.7 324.5L484.3 325.3L484.8 325.2L485.4 324.4L485.9 324.7L486.5 324.3L487 324.2L487.6 324.3L488.1 324.2L488.7 323.9L489.2 322.6L489.8 323.4L490.3 323.1L490.9 322.9L491.4 322L492 321L492.5 322.5L493.1 321.4L493.6 321.4L494.2 321.5L494.7 320.8L495.3 321.6L495.8 320.1L496.4 320.2L496.9 320.7L497.5 319L498.1 319.3L498.6 318.9L499.2 320.3L499.7 319.4L500.3 319.4L500.8 318.6L501.4 318L501.9 319.8L502.5 318.5L503 318.5L503.6 317.7L504.1 318.2L504.7 318.8L505.2 318L505.8 318.4L506.3 318.1L506.9 317.5L507.4 317.7L508 317.1L508.5 318.1L509.1 315.7L509.6 316.2L510.2 316.5L510.7 317.5L511.3 318L511.9 317.1L512.4 316.7L513 315.2L513.5 315.7L514.1 316.7L514.6 315.6L515.2 315.6L515.7 316.3L516.3 315.5L516.8 316L517.4 316.6L517.9 316.8L518.5 316.2L519 315.5L519.6 316.9L520.1 317L520.7 315.7L521.2 317.6L521.8 315L522.3 316.3L522.9 315.6L523.4 314.9L524 316.8L524.5 316.6L525.1 314.6L525.7 316.1L526.2 316L526.8 315.8L527.3 315.3L527.9 315.1L528.4 315.8L529 316.1L529.5 315.9L530.1 315.7L530.6 315.1L531.2 315.7L531.7 314.7L532.3 316.3L532.8 315.5L533.4 314.7L533.9 315L534.5 315.5L535 316.2L535.6 316.1L536.1 315.8L536.7 315.5L537.2 315.8L537.8 316.5L538.3 316.1L538.9 315.3L539.5 315.1L540 316.4L540.6 315.8L541.1 316.5L541.7 315.9L542.2 313.5L542.8 315.5L543.3 315.7L543.9 315.8L544.4 316.2L545 316.6L545.5 315.5L546.1 315.6L546.6 314.6L547.2 316.4L547.7 315.1L548.3 314.6L548.8 316.5L549.4 315L549.9 316.3L550.5 315L551 314.5L551.6 315.3L552.1 315.1L552.7 315.7L553.3 315.1L553.8 314.6L554.4 315.3L554.9 315.3L555.5 315L556 314.7L556.6 316.1L557.1 315.1L557.7 315.5L558.2 314.8L558.8 314.5L559.3 314.9L559.9 314.3L560.4 315.6L561 315.3L561.5 315.6L562.1 315L562.6 314.9L563.2 315.1L563.7 315.7L564.3 315L564.8 315.2L565.4 314.5L565.9 315L566.5 314.2L567.1 314.7L567.6 315.9L568.2 314.9L568.7 315.6L569.3 314.2L569.8 313.9L570.4 314.8L570.9 314.5L571.5 315.6L572 316L572.6 315L573.1 314.8L573.7 315.5L574.2 314.6L574.8 314.4L575.3 314.2L575.9 313.7L576.4 314.1L577 314.8L577.5 314.5L578.1 314.2L578.6 315.1L579.2 313.7L579.7 313.9L580.3 314.6L580.9 314.8L581.4 312.2L582 313.9L582.5 313.8L583.1 313.3L583.6 313.8L584.2 314.2L584.7 313.9L585.3 314.8L585.8 313.8L586.4 315.1L586.9 314L587.5 313.9L588 315.1L588.6 313L589.1 314.8L589.7 313.5L590.2 314.4L590.8 313.8L591.3 314.4L591.9 312.5L592.4 313.3L593 312.9L593.5 313.4L594.1 313.5L594.7 313.7L595.2 313.9L595.8 313.4L596.3 313.6L596.9 313.8L597.4 314.5L598 313.8L598.5 313.2L599.1 313.8L599.6 313.3L600.2 313.6L600.7 314L601.3 313.9L601.8 313.8L602.4 313.5L602.9 313.4L603.5 312.6L604 313.8L604.6 314.3L605.1 312.7L605.7 313.3L606.2 313.1L606.8 311.4L607.3 312L607.9 312.5L608.5 312.2L609 312.6L609.6 312L610.1 312.8L610.7 312.7L611.2 312.4L611.8 311L612.3 310.8L612.9 311.8L613.4 310.6L614 311.1L614.5 310.1L615.1 310.6L615.6 309.6L616.2 309.9L616.7 309.7L617.3 309.2L617.8 308.8L618.4 308.9L618.9 309L619.5 306.8L620 307.7L620.6 308.2L621.1 308.1L621.7 308L622.3 306.4L622.8 304.9L623.4 306.3L623.9 305.1L624.5 305.6L625 303.6L625.6 303.6L626.1 303.3L626.7 302.4L627.2 301.9L627.8 301.9L628.3 302.5L628.9 302.6L629.4 302L630 302.1L630.5 299.6L631.1 300.4L631.6 299.8L632.2 299.4L632.7 298L633.3 299.1L633.8 297.6L634.4 297.8L634.9 297.6L635.5 298.2" fill="none" stroke="#72ab3e" stroke-width="1.8"/><path d="M359.5 361.8L360.1 364.2L360.6 363.8L361.2 362.8L361.7 363L362.3 361.5L362.8 353L363.4 362.9L363.9 362.7L364.5 363.1L365 362.2L365.6 361.3L366.1 361.4L366.7 364.2L367.2 365.3L367.8 363.2L368.3 357L368.9 363.9L369.4 364.1L370 363.7L370.5 362.9L371.1 363.4L371.6 362.6L372.2 365.5L372.7 360.7L373.3 361.9L373.9 349.5L374.4 360.4L375 361.5L375.5 359.8L376.1 363.5L376.6 358.9L377.2 360.7L377.7 363.1L378.3 355.6L378.8 358.8L379.4 358.9L379.9 356.7L380.5 358.1L381 353L381.6 352.7L382.1 351.3L382.7 347.2L383.2 347.5L383.8 346.8L384.3 345.3L384.9 341.9L385.4 338L386 338.1L386.5 336.5L387.1 333.1L387.7 332.2L388.2 330.3L388.8 325.4L389.3 328.7L389.9 325L390.4 326.5L391 322.9L391.5 320.3L392.1 318.2L392.6 320.5L393.2 316.1L393.7 315L394.3 315.1L394.8 310.1L395.4 312.5L395.9 312.5L396.5 309.3L397 311.4L397.6 305L398.1 304.6L398.7 305.3L399.2 302.6L399.8 301.4L400.3 298L400.9 300.5L401.5 300.2L402 300.1L402.6 296.2L403.1 296.8L403.7 293.5L404.2 291.4L404.8 291.4L405.3 290.9L405.9 286.4L406.4 287.2L407 285.3L407.5 282.9L408.1 285L408.6 283.1L409.2 276.8L409.7 279.4L410.3 279.5L410.8 277.1L411.4 276.3L411.9 276L412.5 273.6L413 271.9L413.6 270.8L414.1 268.8L414.7 271.1L415.3 269.7L415.8 265.3L416.4 266.1L416.9 262.7L417.5 263.1L418 264.6L418.6 260.8L419.1 262.2L419.7 259.4L420.2 257.1L420.8 254.9L421.3 257.2L421.9 255.2L422.4 254.7L423 252.9L423.5 256.7L424.1 252.5L424.6 250.5L425.2 249.5L425.7 250.7L426.3 248.1L426.8 247.7L427.4 249.3L427.9 249.9L428.5 250.3L429.1 249.9L429.6 248.7L430.2 248.6L430.7 251.9L431.3 253L431.8 253.2L432.4 251L432.9 252.5L433.5 252.8L434 252.8L434.6 253.4L435.1 254.5L435.7 256.2L436.2 255.9L436.8 255.3L437.3 255.3L437.9 256.8L438.4 257.3L439 255.1L439.5 258.3L440.1 257.7L440.6 259L441.2 260.3L441.7 261.8L442.3 261L442.9 261.9L443.4 260.1L444 263.6L444.5 263.2L445.1 262.3L445.6 264.1L446.2 263.9L446.7 264.1L447.3 268.5L447.8 267.4L448.4 268.9L448.9 266.3L449.5 269.2L450 269.1L450.6 268.1L451.1 271.9L451.7 272.1L452.2 272.5L452.8 274.5L453.3 273.2L453.9 274.9L454.4 275.7L455 278.2L455.5 279.8L456.1 280.9L456.7 282L457.2 284.8L457.8 282.9L458.3 283.2L458.9 285.3L459.4 286.8L460 286.7L460.5 287.1L461.1 287.6L461.6 286L462.2 290.5L462.7 289.3L463.3 289.4L463.8 290.8L464.4 291.8L464.9 293.5L465.5 293.3L466 291.9L466.6 291.2L467.1 294.7L467.7 293.4L468.2 293.7L468.8 293.2L469.3 294.6L469.9 294.5L470.5 294.1L471 297.3L471.6 295.8L472.1 298.6L472.7 299.1L473.2 297.6L473.8 298.9L474.3 296.1L474.9 295.5L475.4 297.5L476 297.4L476.5 297.7L477.1 297.8L477.6 297.3L478.2 297L478.7 298.2L479.3 298.6L479.8 298.2L480.4 296.2L480.9 297.9L481.5 295.1L482 297.4L482.6 294.9L483.1 298.4L483.7 297.5L484.3 295.6L484.8 295.4L485.4 296.1L485.9 292.7L486.5 295.2L487 294.7L487.6 295.7L488.1 292.2L488.7 293.1L489.2 293.5L489.8 296.2L490.3 293.1L490.9 294.1L491.4 292.6L492 291.7L492.5 293.8L493.1 292.2L493.6 290.9L494.2 291.7L494.7 292.1L495.3 292.9L495.8 292.1L496.4 292.6L496.9 289.1L497.5 290.1L498.1 291.7L498.6 289.7L499.2 291.2L499.7 293.8L500.3 287.1L500.8 286.8L501.4 290.3L501.9 288.8L502.5 287.1L503 287.5L503.6 287.8L504.1 287L504.7 286.2L505.2 286.3L505.8 284.9L506.3 285.3L506.9 285.9L507.4 284.6L508 286.9L508.5 282.5L509.1 287L509.6 284.7L510.2 284.1L510.7 283.9L511.3 284.2L511.9 282.7L512.4 286.2L513 284.6L513.5 284.3L514.1 285.3L514.6 285.4L515.2 282.7L515.7 285.6L516.3 285.2L516.8 284.9L517.4 284.8L517.9 284.3L518.5 284.8L519 284L519.6 284.4L520.1 283.9L520.7 282.6L521.2 285.8L521.8 282.2L522.3 285.2L522.9 283.6L523.4 284.3L524 285L524.5 287.4L525.1 282.3L525.7 285.7L526.2 285.8L526.8 283.2L527.3 284.7L527.9 282.1L528.4 282.5L529 284L529.5 284.7L530.1 284.1L530.6 287.2L531.2 285.2L531.7 285.3L532.3 286.3L532.8 285.4L533.4 288L533.9 284.8L534.5 284.4L535 288.2L535.6 286.3L536.1 284.4L536.7 286.2L537.2 288.4L537.8 288.4L538.3 285.9L538.9 284.7L539.5 289L540 287.5L540.6 288.8L541.1 288.2L541.7 287.4L542.2 288L542.8 289.1L543.3 285.2L543.9 288.5L544.4 288.7L545 287L545.5 288.6L546.1 289.1L546.6 287.5L547.2 290.5L547.7 288.1L548.3 287.8L548.8 288.4L549.4 289.7L549.9 289.6L550.5 292.1L551 290L551.6 289.5L552.1 288.8L552.7 289.9L553.3 290.8L553.8 291.5L554.4 290.4L554.9 290.2L555.5 288.7L556 290.5L556.6 291.2L557.1 290.7L557.7 291.2L558.2 290.9L558.8 293.7L559.3 292.8L559.9 292.2L560.4 289.8L561 290.5L561.5 290.2L562.1 288.7L562.6 291.7L563.2 288.6L563.7 289.6L564.3 291.1L564.8 288L565.4 292L565.9 291.5L566.5 290.2L567.1 289.3L567.6 290.1L568.2 292.8L568.7 290.2L569.3 289.8L569.8 286.1L570.4 287.8L570.9 289.5L571.5 291.2L572 289.2L572.6 291.3L573.1 289.4L573.7 289.2L574.2 290.3L574.8 289.4L575.3 290.2L575.9 290.5L576.4 287.6L577 288.9L577.5 290.2L578.1 290.8L578.6 289.5L579.2 289L579.7 288.6L580.3 287.7L580.9 289.1L581.4 291.4L582 286.9L582.5 288.2L583.1 288.7L583.6 288L584.2 291.9L584.7 290.4L585.3 290.6L585.8 288.2L586.4 291.6L586.9 290.4L587.5 287.8L588 289L588.6 290.5L589.1 287.3L589.7 291.8L590.2 289.3L590.8 290.3L591.3 289.3L591.9 290.4L592.4 291.2L593 289.7L593.5 291.9L594.1 289.3L594.7 290.5L595.2 288.8L595.8 290.7L596.3 291.1L596.9 289.6L597.4 288.4L598 293.1L598.5 290.1L599.1 289.4L599.6 292.3L600.2 291.5L600.7 289.4L601.3 291.5L601.8 291.3L602.4 288L602.9 291.8L603.5 291.7L604 293.7L604.6 292L605.1 292.2L605.7 288.1L606.2 288.8L606.8 292.4L607.3 287.8L607.9 289.5L608.5 290.9L609 289.5L609.6 290.1L610.1 291.7L610.7 293.2L611.2 292L611.8 290.7L612.3 291.2L612.9 291.7L613.4 289.3L614 292.2L614.5 289.5L615.1 291.4L615.6 290.5L616.2 292.3L616.7 290.7L617.3 291.8L617.8 293.1L618.4 290.7L618.9 290.7L619.5 289.5L620 290.2L620.6 292.1L621.1 291.5L621.7 294.1L622.3 292.2L622.8 288.8L623.4 288.4L623.9 289.5L624.5 290.1L625 289.7L625.6 289.8L626.1 292.9L626.7 291.7L627.2 288.8L627.8 288.7L628.3 290L628.9 290.8L629.4 290.9L630 291.1L630.5 291.6L631.1 293L631.6 290L632.2 290.8L632.7 290.5L633.3 287.7L633.8 289.3L634.4 291.1L634.9 289.2L635.5 292.1L635.5 296.5L634.9 299.7L634.4 300L633.8 295.5L633.3 295.6L632.7 301.3L632.2 299.2L631.6 298.9L631.1 301.8L630.5 298.8L630 297.5L629.4 298.3L628.9 302.2L628.3 299.9L627.8 299.2L627.2 297.1L626.7 301.5L626.1 300.5L625.6 297.4L625 298.9L624.5 299L623.9 299.3L623.4 297.2L622.8 300.2L622.3 298.4L621.7 299.3L621.1 301.1L620.6 298.5L620 298.5L619.5 299.1L618.9 301.1L618.4 300L617.8 299L617.3 297.9L616.7 298.4L616.2 299.3L615.6 300.6L615.1 299.6L614.5 301.3L614 299.6L613.4 300.3L612.9 299.8L612.3 299.9L611.8 298.6L611.2 300.1L610.7 300.6L610.1 299.7L609.6 299.2L609 299.5L608.5 300.9L607.9 301.2L607.3 299.9L606.8 298.4L606.2 301.5L605.7 295.8L605.1 298.2L604.6 298.7L604 298.8L603.5 299.7L602.9 296.1L602.4 298L601.8 299.3L601.3 297.8L600.7 297.1L600.2 297.4L599.6 299.4L599.1 298.5L598.5 300.7L598 298.5L597.4 298.8L596.9 303L596.3 297.8L595.8 301.9L595.2 297.8L594.7 296.7L594.1 297.7L593.5 299.3L593 301L592.4 298.4L591.9 298.9L591.3 301.2L590.8 300.6L590.2 297.2L589.7 298.3L589.1 297.8L588.6 299.5L588 297.9L587.5 296.7L586.9 298.4L586.4 298.1L585.8 296.8L585.3 296.2L584.7 299.5L584.2 298.1L583.6 301.4L583.1 300.1L582.5 299.9L582 297.9L581.4 301L580.9 298.1L580.3 298.5L579.7 295L579.2 297.9L578.6 295.5L578.1 297.8L577.5 298.8L577 301.5L576.4 295.3L575.9 300.8L575.3 299.7L574.8 298.3L574.2 300.2L573.7 297.6L573.1 299L572.6 297.7L572 301.1L571.5 299.2L570.9 300.5L570.4 300.5L569.8 298.4L569.3 298.1L568.7 297.8L568.2 299.6L567.6 298.4L567.1 301.7L566.5 295.6L565.9 299.2L565.4 299.4L564.8 300.2L564.3 299.1L563.7 299.2L563.2 297.9L562.6 296.4L562.1 298.1L561.5 300.6L561 299.5L560.4 296.5L559.9 298.9L559.3 300.1L558.8 299.1L558.2 300.4L557.7 300L557.1 297.1L556.6 302.7L556 295.8L555.5 300.6L554.9 297.2L554.4 299.6L553.8 297.9L553.3 297.7L552.7 298.3L552.1 296.6L551.6 297.4L551 297.4L550.5 297.4L549.9 299.2L549.4 295.4L548.8 295.1L548.3 299.1L547.7 299L547.2 299.1L546.6 296.3L546.1 298.5L545.5 297.3L545 296.7L544.4 297.2L543.9 296.1L543.3 298L542.8 297.9L542.2 294.2L541.7 297.8L541.1 296.4L540.6 294.2L540 294.8L539.5 297.7L538.9 296L538.3 296.9L537.8 298.4L537.2 295.8L536.7 295.9L536.1 293L535.6 293.2L535 291.8L534.5 291.6L533.9 295.9L533.4 296.1L532.8 292.9L532.3 292.8L531.7 293.1L531.2 295.7L530.6 294.9L530.1 293.6L529.5 292.6L529 296.8L528.4 294L527.9 291.2L527.3 293.8L526.8 293.3L526.2 292.3L525.7 291.7L525.1 291.1L524.5 292L524 295.7L523.4 292L522.9 293.1L522.3 296.8L521.8 292.8L521.2 293.9L520.7 293.6L520.1 290.5L519.6 295.5L519 290.5L518.5 292L517.9 292.6L517.4 290.8L516.8 292.3L516.3 293.4L515.7 294.6L515.2 294.2L514.6 294.2L514.1 293.5L513.5 292.8L513 292.5L512.4 292.2L511.9 293.4L511.3 292L510.7 291.3L510.2 293.3L509.6 292.3L509.1 295L508.5 292.8L508 294.3L507.4 293.6L506.9 294.2L506.3 292.1L505.8 293.9L505.2 297.4L504.7 294L504.1 296.8L503.6 295.4L503 292.2L502.5 296.6L501.9 297.6L501.4 298.8L500.8 296L500.3 299.2L499.7 298.8L499.2 297.6L498.6 298.5L498.1 301.1L497.5 298.3L496.9 297.8L496.4 297.2L495.8 299.3L495.3 302.3L494.7 300L494.2 299.6L493.6 302.8L493.1 299.3L492.5 301L492 300.9L491.4 302.9L490.9 302.3L490.3 300.4L489.8 301.9L489.2 302.1L488.7 304.5L488.1 301.9L487.6 301.8L487 304.2L486.5 303.3L485.9 305.9L485.4 300.7L484.8 303.7L484.3 304.5L483.7 306.6L483.1 304.9L482.6 308.2L482 306.8L481.5 303.1L480.9 306.2L480.4 308.7L479.8 304.5L479.3 307.6L478.7 304.6L478.2 306.6L477.6 306.5L477.1 306.7L476.5 307.5L476 301.9L475.4 303.4L474.9 305.8L474.3 302.1L473.8 304.1L473.2 302.9L472.7 305L472.1 304.3L471.6 303.9L471 301.4L470.5 302.3L469.9 302.7L469.3 306.2L468.8 302.9L468.2 301.7L467.7 299.5L467.1 300.6L466.6 302.1L466 300.2L465.5 300.4L464.9 301L464.4 297.4L463.8 302.1L463.3 300.4L462.7 300L462.2 297.6L461.6 297.6L461.1 298.4L460.5 296.1L460 294.2L459.4 295L458.9 291.9L458.3 294.3L457.8 292.9L457.2 292.7L456.7 288.9L456.1 288.9L455.5 287.3L455 286.7L454.4 287.1L453.9 284.2L453.3 284.3L452.8 283.4L452.2 281.2L451.7 284.3L451.1 279.6L450.6 280.1L450 277.9L449.5 278.4L448.9 276.6L448.4 277.9L447.8 276.7L447.3 275L446.7 275.2L446.2 275.7L445.6 271L445.1 271.6L444.5 271.7L444 270.7L443.4 270.5L442.9 271.1L442.3 267.2L441.7 267.8L441.2 268.7L440.6 266.4L440.1 269.1L439.5 267.6L439 265.8L438.4 264.6L437.9 265.1L437.3 264.6L436.8 262.5L436.2 263L435.7 260.9L435.1 261.9L434.6 263.7L434 262.8L433.5 259.6L432.9 260.6L432.4 258.7L431.8 258.8L431.3 260L430.7 259.5L430.2 261.4L429.6 257.2L429.1 258.7L428.5 258.8L427.9 254.9L427.4 258.2L426.8 257.2L426.3 258.9L425.7 257.4L425.2 258.3L424.6 262.7L424.1 260.3L423.5 261L423 261.5L422.4 264.7L421.9 263.4L421.3 266.1L420.8 266.2L420.2 265.4L419.7 268.7L419.1 270.4L418.6 269.6L418 267.7L417.5 271.8L416.9 272.8L416.4 274.4L415.8 274.6L415.3 274.7L414.7 277.7L414.1 278.2L413.6 277.5L413 279.3L412.5 278.3L411.9 282.5L411.4 281.8L410.8 286.6L410.3 289.4L409.7 289.4L409.2 290.1L408.6 292.3L408.1 294.2L407.5 290.4L407 293.8L406.4 293.4L405.9 297.4L405.3 298.2L404.8 300.5L404.2 300.9L403.7 301.9L403.1 302.7L402.6 303.7L402 307.1L401.5 308.7L400.9 306.5L400.3 309L399.8 309.9L399.2 313.6L398.7 312.7L398.1 315.7L397.6 318L397 318.4L396.5 319.7L395.9 318.1L395.4 319.2L394.8 321L394.3 322.4L393.7 322.5L393.2 324.8L392.6 330.7L392.1 329.7L391.5 328.7L391 331.1L390.4 333.3L389.9 334.9L389.3 334.4L388.8 336.7L388.2 339.5L387.7 340L387.1 341.7L386.5 347.3L386 349.1L385.4 352.5L384.9 353.8L384.3 355.8L383.8 359L383.2 359.5L382.7 362.3L382.1 361.5L381.6 361.9L381 363.9L380.5 367.7L379.9 368.6L379.4 367.3L378.8 368L378.3 373.3L377.7 372.4L377.2 371.3L376.6 371.5L376.1 376.3L375.5 372.3L375 372.9L374.4 372.5L373.9 374L373.3 374.1L372.7 375.5L372.2 374.3L371.6 374.4L371.1 375.3L370.5 374.2L370 379L369.4 372.7L368.9 375.4L368.3 374.4L367.8 375.2L367.2 375L366.7 376.3L366.1 374.8L365.6 375.7L365 374.8L364.5 375.9L363.9 374L363.4 375.2L362.8 373.7L362.3 375L361.7 375.7L361.2 374.1L360.6 373.3L360.1 375L359.5 372.6Z" fill="#b6e2f6" opacity="0.85"/><path d="M359.5 368.9L360.1 369.2L360.6 369.1L361.2 369.7L361.7 369.5L362.3 369.7L362.8 369.2L363.4 369.3L363.9 368.2L364.5 368.8L365 370.1L365.6 369L366.1 368.4L366.7 369L367.2 368.6L367.8 369.2L368.3 368.8L368.9 369.8L369.4 368.7L370 370L370.5 368.4L371.1 370.1L371.6 370.4L372.2 368.7L372.7 369L373.3 368.7L373.9 368.4L374.4 368.5L375 368.8L375.5 367.9L376.1 367.6L376.6 367.1L377.2 365.7L377.7 366.6L378.3 365.3L378.8 364.1L379.4 363.8L379.9 363.2L380.5 361.6L381 359.3L381.6 358.6L382.1 356.6L382.7 355.7L383.2 353.4L383.8 352.3L384.3 350.5L384.9 347.8L385.4 345.6L386 342.5L386.5 342L387.1 338.5L387.7 335.7L388.2 333.8L388.8 333L389.3 331.6L389.9 330L390.4 328.1L391 326.7L391.5 325.3L392.1 323.8L392.6 323.6L393.2 322.4L393.7 321.2L394.3 320L394.8 318.1L395.4 316.6L395.9 314.1L396.5 314L397 313L397.6 310.8L398.1 310.8L398.7 308.9L399.2 307.2L399.8 306.1L400.3 305L400.9 304.2L401.5 303.4L402 301.5L402.6 300.5L403.1 298.5L403.7 297.7L404.2 296L404.8 296L405.3 293.2L405.9 293L406.4 292.2L407 290.8L407.5 289L408.1 286.7L408.6 285.7L409.2 285.5L409.7 283.5L410.3 282.3L410.8 281.9L411.4 280.4L411.9 279.8L412.5 277.9L413 277.8L413.6 275.5L414.1 274.5L414.7 273.3L415.3 272.3L415.8 270.1L416.4 270L416.9 268.7L417.5 267.4L418 266.4L418.6 265.6L419.1 265.4L419.7 264.8L420.2 263.7L420.8 262.6L421.3 261.5L421.9 260.6L422.4 258.8L423 258.4L423.5 256.2L424.1 255.6L424.6 255.6L425.2 254L425.7 255.6L426.3 252.9L426.8 253.4L427.4 253.5L427.9 254.9L428.5 252.7L429.1 254.6L429.6 254.9L430.2 254.5L430.7 255.7L431.3 256.5L431.8 256L432.4 257.4L432.9 256.8L433.5 257.5L434 257.2L434.6 259L435.1 257.9L435.7 258.8L436.2 258.2L436.8 260.2L437.3 259.1L437.9 260.2L438.4 260.6L439 261.9L439.5 261.6L440.1 262L440.6 263.4L441.2 264.1L441.7 264.4L442.3 263.7L442.9 265L443.4 265.1L444 266.1L444.5 266.9L445.1 267.5L445.6 268.5L446.2 268.3L446.7 269.6L447.3 270.3L447.8 271.9L448.4 271.7L448.9 273L449.5 273.7L450 273.6L450.6 275.6L451.1 275.9L451.7 276.2L452.2 276.8L452.8 278.7L453.3 279.2L453.9 280.3L454.4 282.2L455 283.8L455.5 284.8L456.1 284.4L456.7 285.7L457.2 287.6L457.8 288.1L458.3 288.9L458.9 289.8L459.4 290.4L460 289.8L460.5 292.2L461.1 292.3L461.6 293.4L462.2 294L462.7 294.7L463.3 294.9L463.8 295.6L464.4 295.6L464.9 296.2L465.5 297.3L466 296.1L466.6 298.4L467.1 297.9L467.7 297.2L468.2 299.2L468.8 298.3L469.3 298.5L469.9 299.3L470.5 300.8L471 299.1L471.6 300.1L472.1 300.7L472.7 299.9L473.2 301.2L473.8 300.3L474.3 301.5L474.9 301L475.4 302.1L476 301.8L476.5 302.2L477.1 302.2L477.6 301.7L478.2 301.9L478.7 301.7L479.3 301.1L479.8 301.9L480.4 302.8L480.9 301.8L481.5 301.5L482 300.8L482.6 300.6L483.1 300.5L483.7 301L484.3 300.2L484.8 301.2L485.4 299.4L485.9 299.7L486.5 299.4L487 299.7L487.6 299.2L488.1 299.3L488.7 298.4L489.2 299.2L489.8 297.7L490.3 297.7L490.9 296.6L491.4 297.6L492 297.4L492.5 296.9L493.1 296.8L493.6 296.6L494.2 296.9L494.7 296.6L495.3 296L495.8 295.6L496.4 295.8L496.9 295.5L497.5 294.7L498.1 293.9L498.6 294.1L499.2 293.3L499.7 292.9L500.3 292.7L500.8 293.1L501.4 292.7L501.9 293.2L502.5 292.1L503 291L503.6 291.6L504.1 289.8L504.7 289.4L505.2 290.1L505.8 289L506.3 290.1L506.9 289.7L507.4 289.2L508 288.9L508.5 289L509.1 289.4L509.6 287.7L510.2 288.7L510.7 288.7L511.3 288.5L511.9 288.8L512.4 289L513 289.2L513.5 289.8L514.1 288L514.6 289.4L515.2 289.8L515.7 289.3L516.3 289.8L516.8 287.7L517.4 288.7L517.9 288L518.5 288L519 288.5L519.6 288.5L520.1 289.3L520.7 288.9L521.2 289.2L521.8 288.8L522.3 289.3L522.9 288.1L523.4 288.4L524 288.9L524.5 289.8L525.1 288.5L525.7 288.4L526.2 289L526.8 289.7L527.3 288.8L527.9 288.5L528.4 290.3L529 289L529.5 290.5L530.1 289.5L530.6 288.6L531.2 289.7L531.7 289.6L532.3 290.2L532.8 290.1L533.4 288.9L533.9 289.6L534.5 290.7L535 290.9L535.6 290.8L536.1 289.6L536.7 290.9L537.2 290.6L537.8 291.5L538.3 292.2L538.9 290.8L539.5 291.8L540 292.3L540.6 292.4L541.1 292.5L541.7 292.5L542.2 293.2L542.8 291.7L543.3 292.3L543.9 292L544.4 292.9L545 292.6L545.5 292.9L546.1 292.4L546.6 292.7L547.2 293.1L547.7 293.8L548.3 294.3L548.8 294.1L549.4 294.2L549.9 294.2L550.5 294.7L551 293.2L551.6 294.1L552.1 295.5L552.7 295.1L553.3 295.3L553.8 294.4L554.4 294L554.9 295.3L555.5 294.4L556 295L556.6 294.2L557.1 294.1L557.7 294.7L558.2 294.4L558.8 294.8L559.3 295L559.9 295.5L560.4 294.6L561 294.8L561.5 294.9L562.1 294.7L562.6 294.7L563.2 295.1L563.7 294.8L564.3 293.8L564.8 294.5L565.4 293.5L565.9 294.9L566.5 295L567.1 294.1L567.6 293.7L568.2 294.5L568.7 293.7L569.3 293.5L569.8 293.4L570.4 294.1L570.9 294L571.5 295L572 294L572.6 293.8L573.1 293.2L573.7 294.7L574.2 294.5L574.8 294.6L575.3 293.5L575.9 295.5L576.4 294.7L577 292.8L577.5 293.7L578.1 294.8L578.6 294.1L579.2 293.6L579.7 293.8L580.3 294.2L580.9 294.6L581.4 293.6L582 294.1L582.5 293.7L583.1 293.9L583.6 294.4L584.2 293.3L584.7 294.4L585.3 293.9L585.8 294.5L586.4 294.3L586.9 294.3L587.5 294.6L588 294.1L588.6 293.5L589.1 293.2L589.7 293.4L590.2 294.4L590.8 293.4L591.3 294L591.9 293.3L592.4 295L593 293.5L593.5 294.7L594.1 293.7L594.7 294.6L595.2 293.9L595.8 294.6L596.3 295.5L596.9 295L597.4 294.6L598 294.5L598.5 295.8L599.1 295.2L599.6 295L600.2 294.7L600.7 294.5L601.3 295.1L601.8 295.5L602.4 294.5L602.9 294.9L603.5 294.2L604 295.1L604.6 294.4L605.1 295.3L605.7 294.7L606.2 294.8L606.8 294.6L607.3 295.4L607.9 295L608.5 295.4L609 295L609.6 294.6L610.1 293.3L610.7 295L611.2 294.6L611.8 294.9L612.3 294.3L612.9 294.7L613.4 294.4L614 294.8L614.5 293.6L615.1 294.2L615.6 296L616.2 294.8L616.7 294.9L617.3 296.2L617.8 295.5L618.4 295.2L618.9 295.4L619.5 294.9L620 296L620.6 294.5L621.1 294.5L621.7 294.7L622.3 295.1L622.8 294.9L623.4 295.1L623.9 294.2L624.5 294.5L625 293.7L625.6 295L626.1 293.9L626.7 295.1L627.2 294.8L627.8 295.3L628.3 294.4L628.9 294.7L629.4 294.3L630 293.7L630.5 294.6L631.1 294.3L631.6 294L632.2 294.5L632.7 294.8L633.3 294.2L633.8 294.1L634.4 293.9L634.9 293.8L635.5 294.7" fill="none" stroke="#42b6e8" stroke-width="1.8"/></g>
<path d="M359.5 231.5H635.5M359.5 374.2H635.5M359.5 231.5V374.2M635.5 231.5V374.2" stroke="#808080" stroke-width="1" fill="none"/>
<path d="M414.5 374.2v-3" stroke="#808080" stroke-width="1"/>
<path d="M469.5 374.2v-3" stroke="#808080" stroke-width="1"/>
<path d="M525.5 374.2v-3" stroke="#808080" stroke-width="1"/>
<path d="M580.5 374.2v-3" stroke="#808080" stroke-width="1"/>
<text x="359.5" y="385.8" font-size="10" text-anchor="middle" fill="#222" stroke="#222" stroke-width="0.22">500</text>
<text x="414.7" y="385.8" font-size="10" text-anchor="middle" fill="#222" stroke="#222" stroke-width="0.22">600</text>
<text x="469.9" y="385.8" font-size="10" text-anchor="middle" fill="#222" stroke="#222" stroke-width="0.22">700</text>
<text x="525.1" y="385.8" font-size="10" text-anchor="middle" fill="#222" stroke="#222" stroke-width="0.22">800</text>
<text x="580.3" y="385.8" font-size="10" text-anchor="middle" fill="#222" stroke="#222" stroke-width="0.22">900</text>
<text x="635.5" y="385.8" font-size="10" text-anchor="middle" fill="#222" stroke="#222" stroke-width="0.22">1,000</text>
<path d="M359.5 345.5h3" stroke="#808080" stroke-width="1"/>
<path d="M635.5 345.5h-3" stroke="#808080" stroke-width="1"/>
<path d="M359.5 317.5h3" stroke="#808080" stroke-width="1"/>
<path d="M635.5 317.5h-3" stroke="#808080" stroke-width="1"/>
<path d="M359.5 288.5h3" stroke="#808080" stroke-width="1"/>
<path d="M635.5 288.5h-3" stroke="#808080" stroke-width="1"/>
<path d="M359.5 260.5h3" stroke="#808080" stroke-width="1"/>
<path d="M635.5 260.5h-3" stroke="#808080" stroke-width="1"/>
<text x="639.7" y="377.6" font-size="10" fill="#222" stroke="#222" stroke-width="0.22">0</text>
<text x="639.7" y="349.1" font-size="10" fill="#222" stroke="#222" stroke-width="0.22">0.2</text>
<text x="639.7" y="320.5" font-size="10" fill="#222" stroke="#222" stroke-width="0.22">0.4</text>
<text x="639.7" y="292.0" font-size="10" fill="#222" stroke="#222" stroke-width="0.22">0.6</text>
<text x="639.7" y="263.4" font-size="10" fill="#222" stroke="#222" stroke-width="0.22">0.8</text>
<text x="639.7" y="234.9" font-size="10" fill="#222" stroke="#222" stroke-width="0.22">1.0</text>
<path d="M359.5 231.5V374.2H635.5" stroke="#606060" fill="none"/><path d="M635.5 231.5V374.2" stroke="#484848"/>
<rect x="571.5" y="238.5" width="60" height="82.5" fill="#fff" stroke="#7a7a7a" stroke-width="1"/>
<path d="M577.4 246.5h9.6" stroke="#1170ba" stroke-width="2"/>
<text x="591" y="250.4" font-size="10.9" fill="#222" stroke="#222" stroke-width="0.22">Bare</text>
<path d="M577.4 262.9h9.6" stroke="#d75528" stroke-width="2"/>
<text x="591" y="266.8" font-size="10.9" fill="#222" stroke="#222" stroke-width="0.22">5.2 pg</text>
<path d="M577.4 279.3h9.6" stroke="#7e2d8e" stroke-width="2"/>
<text x="591" y="283.2" font-size="10.9" fill="#222" stroke="#222" stroke-width="0.22">14 pg</text>
<path d="M577.4 295.7h9.6" stroke="#72ab3e" stroke-width="2"/>
<text x="591" y="299.6" font-size="10.9" fill="#222" stroke="#222" stroke-width="0.22">19 pg</text>
<path d="M577.4 312.1h9.6" stroke="#42b6e8" stroke-width="2"/>
<text x="591" y="316.0" font-size="10.9" fill="#222" stroke="#222" stroke-width="0.22">48 pg</text>
<text x="457" y="400.8" font-size="11" textLength="81.1" lengthAdjust="spacingAndGlyphs" fill="#222" stroke="#222" stroke-width="0.22">Wavelength, nm</text>
<g transform="translate(661.3,303.8) rotate(90)"><text x="0" y="0" font-size="11" text-anchor="middle" textLength="79.5" lengthAdjust="spacingAndGlyphs" fill="#222" stroke="#222" stroke-width="0.22">EL intensity, a.u.</text></g>
<text x="343.8" y="236.7" font-size="16" font-weight="bold" textLength="10.1" lengthAdjust="spacingAndGlyphs" fill="#000" stroke="#000" stroke-width="0.75">e</text>
<path d="M358.5 425.5H634.5M358.5 568.5H634.5M358.5 425.5V568.5M634.5 425.5V568.5" stroke="#707070" stroke-width="1" fill="none"/>
<text x="358.4" y="579.3" font-size="10" text-anchor="middle" fill="#222" stroke="#222" stroke-width="0.22">0</text>
<path d="M408.5 568.5v-3" stroke="#808080"/>
<text x="408.7" y="579.3" font-size="10" text-anchor="middle" fill="#222" stroke="#222" stroke-width="0.22">10</text>
<path d="M458.5 568.5v-3" stroke="#808080"/>
<text x="458.9" y="579.3" font-size="10" text-anchor="middle" fill="#222" stroke="#222" stroke-width="0.22">20</text>
<path d="M509.5 568.5v-3" stroke="#808080"/>
<text x="509.2" y="579.3" font-size="10" text-anchor="middle" fill="#222" stroke="#222" stroke-width="0.22">30</text>
<path d="M559.5 568.5v-3" stroke="#808080"/>
<text x="559.4" y="579.3" font-size="10" text-anchor="middle" fill="#222" stroke="#222" stroke-width="0.22">40</text>
<path d="M609.5 568.5v-3" stroke="#808080"/>
<text x="609.7" y="579.3" font-size="10" text-anchor="middle" fill="#222" stroke="#222" stroke-width="0.22">50</text>
<path d="M634.5 444.5h-3.5" stroke="#555"/>
<path d="M634.5 506.5h-3.5" stroke="#555"/>
<path d="M634.5 487.5h-2" stroke="#666"/>
<path d="M634.5 476.5h-2" stroke="#666"/>
<path d="M634.5 468.5h-2" stroke="#666"/>
<path d="M634.5 462.5h-2" stroke="#666"/>
<path d="M634.5 457.5h-2" stroke="#666"/>
<path d="M634.5 453.5h-2" stroke="#666"/>
<path d="M634.5 450.5h-2" stroke="#666"/>
<path d="M634.5 446.5h-2" stroke="#666"/>
<path d="M634.5 568.5h-3.5" stroke="#555"/>
<path d="M634.5 549.5h-2" stroke="#666"/>
<path d="M634.5 538.5h-2" stroke="#666"/>
<path d="M634.5 530.5h-2" stroke="#666"/>
<path d="M634.5 524.5h-2" stroke="#666"/>
<path d="M634.5 519.5h-2" stroke="#666"/>
<path d="M634.5 515.5h-2" stroke="#666"/>
<path d="M634.5 512.5h-2" stroke="#666"/>
<path d="M634.5 508.5h-2" stroke="#666"/>
<text x="637.6" y="447.3" font-size="9.6" fill="#222" stroke="#222" stroke-width="0.22">1</text>
<text x="639.4" y="508.8" font-size="9.6" fill="#222">10<tspan dy="-3.6" font-size="6">−1</tspan></text>
<text x="639.4" y="570.8" font-size="9.6" fill="#222">10<tspan dy="-3.6" font-size="6">−2</tspan></text>
<path d="M359 525H633.5" stroke="#c4c4c4" stroke-width="1.3" stroke-dasharray="3.2 3.3" stroke-dashoffset="2"/>
<text x="537.5" y="517.9" font-size="11" textLength="88.5" lengthAdjust="spacingAndGlyphs" fill="#222" stroke="#222" stroke-width="0.22">Limit of detection</text>
<path d="M378.4 545.7H390.7M378.4 543.2v5M390.7 543.2v5" stroke="#3a3a3a" stroke-width="1" fill="none"/>
<path d="M384.5 536.6V559.7M381.5 536.6h6M381.5 559.7h6" stroke="#3a3a3a" stroke-width="1" fill="none"/>
<circle cx="384.5" cy="545.7" r="3.4" fill="#000"/>
<path d="M388.9 542.9H398.9M388.9 540.4v5M398.9 540.4v5" stroke="#3a3a3a" stroke-width="1" fill="none"/>
<path d="M392.9 535.3V553.7M389.9 535.3h6M389.9 553.7h6" stroke="#9a9a9a" stroke-width="1" fill="none"/>
<circle cx="392.9" cy="542.9" r="3.4" fill="#000"/>
<path d="M421.3 507.3H433.6M421.3 504.8v5M433.6 504.8v5" stroke="#3a3a3a" stroke-width="1" fill="none"/>
<path d="M427.4 502.4V513.1M424.4 502.4h6M424.4 513.1h6" stroke="#3a3a3a" stroke-width="1" fill="none"/>
<circle cx="427.4" cy="507.3" r="3.4" fill="#000"/>
<path d="M441.1 492.2H451.5M441.1 489.7v5M451.5 489.7v5" stroke="#3a3a3a" stroke-width="1" fill="none"/>
<path d="M446.2 488.4V496.3M443.2 488.4h6M443.2 496.3h6" stroke="#3a3a3a" stroke-width="1" fill="none"/>
<circle cx="446.2" cy="492.2" r="3.4" fill="#000"/>
<path d="M447.6 482.3H459.0M447.6 479.8v5M459.0 479.8v5" stroke="#3a3a3a" stroke-width="1" fill="none"/>
<circle cx="453.2" cy="482.3" r="3.4" fill="#000"/>
<path d="M594.3 443.2H605.3M594.3 440.7v5M605.3 440.7v5" stroke="#3a3a3a" stroke-width="1" fill="none"/>
<circle cx="599.8" cy="443.2" r="3.4" fill="#000"/>
<text x="454.2" y="592.5" font-size="11" textLength="85.3" lengthAdjust="spacingAndGlyphs" fill="#222" stroke="#222" stroke-width="0.22">Analyte mass, pg</text>
<g transform="translate(677.2,496.8) rotate(90)"><text x="0" y="0" font-size="11" text-anchor="middle" textLength="82" lengthAdjust="spacingAndGlyphs" fill="#222" stroke="#222" stroke-width="0.22">Sensor response</text></g>
<g transform="translate(665.2,497.5) rotate(90)"><text x="0" y="0" font-size="11" text-anchor="middle" fill="#222">(<tspan font-style="italic">I</tspan><tspan font-size="7.5" dy="2.5">analyte</tspan><tspan dy="-2.5"> − </tspan><tspan font-style="italic">I</tspan><tspan font-size="7.5" dy="2.5">clean</tspan><tspan dy="-2.5">)/</tspan><tspan font-style="italic">I</tspan><tspan font-size="7.5" dy="2.5">clean</tspan></text></g>
<text x="347.1" y="427.6" font-size="16.5" font-weight="bold" textLength="6.3" lengthAdjust="spacingAndGlyphs" fill="#000" stroke="#000" stroke-width="0.75">f</text>
</svg></body></html>
